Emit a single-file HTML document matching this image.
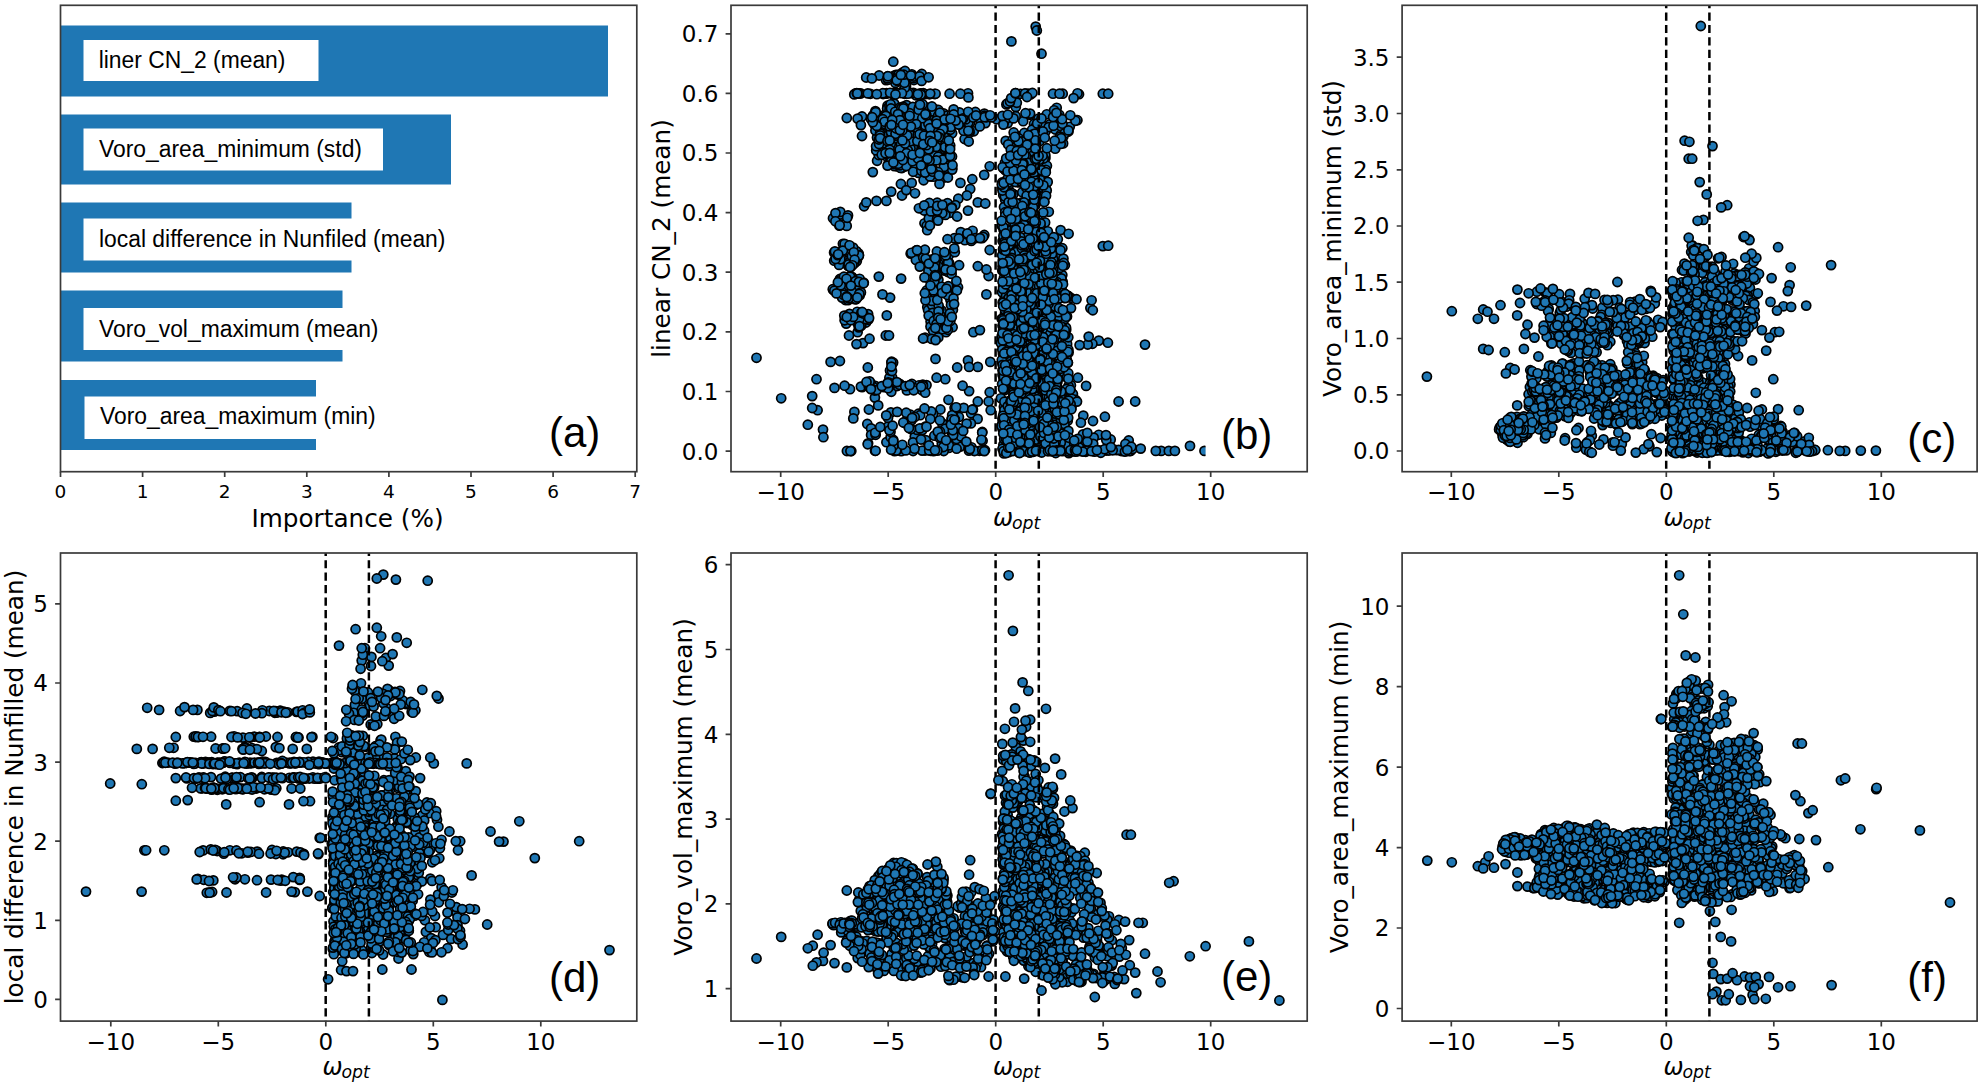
<!DOCTYPE html><html><head><meta charset="utf-8"><title>Feature importance</title><style>
html,body{margin:0;padding:0;background:#fff}svg{display:block}
text{font-family:"DejaVu Sans","Liberation Sans",sans-serif;fill:#000}
.t{font-size:23px}.l{font-size:24.7px}.ta{font-size:18.5px}
.p{font-family:"Liberation Sans",sans-serif;font-size:42px}
.b{font-family:"Liberation Sans",sans-serif;font-size:24.2px}
.o{font-family:"DejaVu Sans","Liberation Sans",sans-serif;font-style:italic;font-size:24px}
.s{fill:none;stroke:#3a3a3a;stroke-width:1.7}
.d{stroke:#000;stroke-width:2.5;stroke-dasharray:8.2 4.25;fill:none}
.c{fill:none;stroke:none;marker-start:url(#m);marker-mid:url(#m);marker-end:url(#m)}
</style></head><body>
<svg width="1982" height="1086" viewBox="0 0 1982 1086">
<rect width="1982" height="1086" fill="#fff"/>
<defs><marker id="m" markerUnits="userSpaceOnUse" markerWidth="14" markerHeight="14" refX="7" refY="7" viewBox="0 0 14 14" orient="0"><circle cx="7" cy="7" r="4.55" fill="#1f77b4" stroke="#000" stroke-width="1.7"/></marker></defs>
<rect x="60.5" y="25.5" width="547.5" height="71" fill="#1f77b4"/>
<rect x="60.5" y="114.5" width="390.5" height="70" fill="#1f77b4"/>
<rect x="60.5" y="202.5" width="291" height="70" fill="#1f77b4"/>
<rect x="60.5" y="290.5" width="282" height="71" fill="#1f77b4"/>
<rect x="60.5" y="380" width="255.5" height="70" fill="#1f77b4"/>
<rect x="83.5" y="40" width="235" height="41" fill="#fff"/>
<rect x="83.5" y="128.5" width="299.5" height="42" fill="#fff"/>
<rect x="83.5" y="218.5" width="376.5" height="42" fill="#fff"/>
<rect x="83.5" y="308" width="316.5" height="42" fill="#fff"/>
<rect x="84.5" y="396.5" width="310.5" height="42.5" fill="#fff"/>
<text class="b" transform="translate(98.7 68.4) scale(.945 1)">liner CN_2 (mean)</text>
<text class="b" transform="translate(99 156.9) scale(.945 1)">Voro_area_minimum (std)</text>
<text class="b" transform="translate(99 246.9) scale(.945 1)">local difference in Nunfiled (mean)</text>
<text class="b" transform="translate(99 336.9) scale(.945 1)">Voro_vol_maximum (mean)</text>
<text class="b" transform="translate(100 424.4) scale(.945 1)">Voro_area_maximum (min)</text>
<rect class="s" x="60.5" y="5.3" width="576.3" height="466.4"/>
<text class="ta" x="60.5" y="497.8" text-anchor="middle">0</text>
<text class="ta" x="142.6" y="497.8" text-anchor="middle">1</text>
<text class="ta" x="224.7" y="497.8" text-anchor="middle">2</text>
<text class="ta" x="306.8" y="497.8" text-anchor="middle">3</text>
<text class="ta" x="388.9" y="497.8" text-anchor="middle">4</text>
<text class="ta" x="471.0" y="497.8" text-anchor="middle">5</text>
<text class="ta" x="553.1" y="497.8" text-anchor="middle">6</text>
<text class="ta" x="635.2" y="497.8" text-anchor="middle">7</text>
<path class="s" d="M60.5 471.7v5.4M142.6 471.7v5.4M224.7 471.7v5.4M306.8 471.7v5.4M388.9 471.7v5.4M471.0 471.7v5.4M553.1 471.7v5.4M635.2 471.7v5.4"/>
<text class="l" x="347.5" y="526.8" text-anchor="middle">Importance (%)</text>
<text class="p" x="549" y="447.3">(a)</text>
<polyline class="c" points="1016.5,321.7 975.4,112.0 1039.7,400.3 926.2,121.7 1018.3,154.4 1037.7,219.4 851.5,257.2 1045.1,412.5 951.8,432.6 1036.5,435.5 1047.0,392.4 1036.9,449.5 1003.1,256.7 847.0,246.3 1052.6,290.0 1009.4,292.9 1030.3,252.2 1029.4,351.9 982.3,432.0 906.0,423.2 930.6,321.4 1038.9,300.9 1018.5,227.8 927.3,307.1 1012.4,241.5 898.5,149.7 1025.8,345.0 916.5,140.1 870.3,93.8 1035.2,247.9 1010.1,427.8 1044.4,172.6 1047.5,408.2 938.7,156.2 905.4,151.8 888.8,117.6 1062.7,375.5 1061.0,262.3 1006.2,416.4 965.0,122.4 1031.9,359.0 1013.8,145.9 897.1,136.3 839.4,280.5 1036.7,369.2 918.9,168.5 1006.2,331.0 1027.7,165.5 1013.7,245.4 1056.0,451.4 1007.2,417.1 863.0,343.1 1037.0,397.1 1011.9,418.0 884.5,114.9 899.8,125.0 1052.8,370.7 1008.6,185.4 1049.9,325.1 935.8,328.2 1029.9,419.4 856.8,261.1 1026.5,402.0 1020.9,431.2 1031.3,400.4 1019.4,346.3 942.9,125.6 935.6,124.0 1003.1,286.8 957.0,239.3 1055.5,360.9 1037.6,450.4 1003.8,280.3 959.4,112.4 949.6,122.3 862.1,387.1 887.5,105.7 1077.9,451.1 1029.9,275.1 1007.5,209.3 1044.8,367.4 1064.7,392.9 879.5,129.6 989.7,392.2 848.8,286.5 1069.6,440.3 1027.4,158.5 1039.7,140.9 837.4,287.6 923.9,152.6 839.9,279.0 860.9,386.6 850.0,277.9 925.0,94.1 918.3,106.2 941.8,118.4 1003.8,117.8 1019.5,256.0 1021.4,172.7 1023.0,272.6 1005.8,228.5 1040.9,190.4 1043.9,310.0 1038.2,159.3 904.9,108.7 1028.4,335.9 897.5,166.4 1010.3,364.8 1031.5,168.2 1004.9,162.8 910.7,253.6 904.7,140.8 1039.3,163.7 925.1,450.5 1030.8,232.9 875.4,111.1 1042.4,419.6 1009.2,168.3 1016.6,331.0 897.2,155.2 1054.4,280.6 886.0,384.9 1012.8,417.6 1102.9,450.3 1045.1,222.5 1004.1,425.2 1003.6,335.3 1068.8,453.1 920.1,263.8 1033.6,223.3 933.2,312.5 929.0,112.1 1061.8,319.1 1053.1,365.0 1025.9,237.6 1003.9,453.4 756.5,357.8 1031.4,234.5 1051.9,451.4 1029.9,358.0 1062.1,447.5 1051.4,439.0 1058.9,252.4 919.3,164.9 1039.8,172.0 1027.8,150.1 1031.5,282.5 887.1,108.6 851.9,281.8 1061.5,287.3 907.5,418.3 1007.7,410.0 1002.5,325.7 1043.7,268.8 1025.5,298.1 900.9,184.0 1011.4,413.8 909.7,120.6 855.3,285.8 1019.6,359.0 945.0,256.6 852.5,297.3 1015.7,141.5 1023.4,206.2 1021.0,163.3 950.2,212.8 1036.8,225.1 834.2,260.7 944.9,128.8 1056.7,107.8 1017.3,264.8 1036.4,450.9 847.6,286.4 1051.1,355.2 1057.0,363.0 1016.7,145.0 1014.5,349.0 1057.9,355.8 1026.3,94.2 1007.3,367.8 1017.2,153.6 1032.9,211.8 1051.9,331.5 781.2,398.3 1044.6,407.8 934.2,117.2 1013.4,391.7 1005.7,140.9 837.4,286.8 1032.6,310.1 841.6,290.8 910.3,140.5 1061.3,374.5 1047.7,245.1 1040.8,377.6 837.5,289.6 1030.2,313.1 937.4,265.4 960.1,446.6 902.5,121.8 1063.9,294.4 1010.1,311.5 839.9,361.0 858.6,253.5 899.9,384.0 1044.4,448.9 1044.5,397.5 1028.8,221.1 897.2,160.4 1051.0,263.0 876.5,200.9 1052.5,258.2 1022.1,304.4 867.8,367.5 1033.4,172.7 1032.1,265.6 1053.1,313.6 886.0,80.1 933.5,451.1 1036.9,194.5 1056.2,242.5 850.0,389.2 915.8,95.3 1012.5,332.3 895.5,128.0 894.4,166.2 922.7,169.0 911.9,384.0 885.0,147.5 958.3,198.7 1066.2,337.1 1014.8,336.3 1068.6,352.6 923.7,125.6 877.1,160.8 1017.9,344.7 922.0,390.2 1061.5,350.6 1004.3,188.6 1035.2,434.0 1049.1,294.7 886.0,93.5 1022.0,299.9 1004.6,270.4 1012.4,437.3 1035.3,163.8 970.2,189.0 935.2,109.3 1018.1,258.0 887.3,156.9 910.4,414.7 861.3,284.2 1017.6,379.4 896.4,134.0 921.8,118.7 885.4,152.4 1012.0,322.0 915.9,251.1 914.8,436.6 1036.5,237.1 1040.2,323.6 929.3,214.2 930.9,176.4 1003.4,444.8 904.1,160.3 1015.8,107.1 1024.6,433.5 856.5,344.1 895.9,74.8 1014.5,426.3 1034.5,331.0 841.9,289.2 839.1,264.9 939.3,151.2 1012.0,219.8 1043.0,326.6 948.8,447.9 1057.0,341.1 1035.7,221.7 1039.0,354.8 1027.4,145.1 910.8,129.2 1043.3,245.1 1022.5,339.5 924.9,126.3 949.2,263.0 958.9,417.0 1053.1,316.2 1135.2,401.5 852.7,291.8 930.1,123.7 1026.0,409.3 847.9,245.5 899.5,142.1 890.0,123.1 1004.5,349.2 953.1,416.4 1009.4,421.1 1026.3,137.4 1076.2,449.4 1039.1,270.9 1036.0,450.3 914.5,163.6 1002.5,370.3 1039.6,162.6 1021.4,243.5 1004.2,283.3 1052.1,405.3 1058.6,329.9 1013.5,442.7 1024.7,170.4 1056.0,441.8 1030.9,320.8 950.5,300.3 1013.0,344.5 1004.7,324.8 1051.3,296.4 899.5,158.9 1029.4,412.5 930.5,326.6 898.0,155.9 1032.7,257.6 1037.2,125.5 1016.7,205.9 1058.6,418.1 1015.7,295.8 1013.3,274.4 1017.2,306.6 1021.4,262.4 1035.7,26.6 1025.2,385.2 965.1,128.8 1032.1,137.6 884.0,387.2 1042.2,423.7 947.6,425.0 1059.8,403.7 886.4,442.2 1060.3,390.4 1029.8,367.8 860.4,314.5 1046.3,332.2 1081.4,449.6 1033.8,295.3 1073.3,451.4 1031.2,395.8 930.7,122.0 1054.7,400.2 1062.3,248.2 933.1,330.7 1029.3,282.0 885.4,134.2 852.4,287.3 1018.1,166.2 937.6,152.1 1014.5,450.4 1018.3,355.0 817.6,410.2 1018.3,174.7 1006.9,308.1 930.0,132.5 1013.1,381.6 958.8,436.2 1060.3,289.9 890.9,140.9 1056.5,278.7 1029.4,265.7 901.5,132.3 1065.6,418.7 906.6,105.1 1019.2,155.0 841.6,216.0 1072.7,403.7 910.5,154.9 1040.0,291.6 1058.0,282.2 913.1,451.0 1038.5,156.3 1064.1,297.8 902.0,195.5 1054.3,419.2 899.6,140.5 1039.2,233.2 888.4,115.3 919.0,108.1 1051.5,266.9 884.3,144.7 1010.9,246.7 917.0,429.9 878.7,155.0 1055.5,125.8 1005.2,199.9 860.8,93.5 1045.2,265.1 1044.7,355.4 1028.7,450.7 1052.7,341.9 904.2,82.7 1032.0,425.7 1013.8,413.7 1026.4,159.4 958.7,122.3 1021.3,202.7 1053.7,326.4 911.3,152.7 1044.3,195.7 1042.7,328.9 1018.4,372.1 948.4,444.0 853.6,278.7 849.1,259.2 1033.1,255.2 942.0,161.1 978.9,118.3 904.9,147.1 1011.0,277.0 886.2,93.6 1053.2,349.9 1043.9,157.9 979.4,450.8 1020.7,167.6 891.6,361.7 1029.5,283.8 1049.2,276.9 1054.2,379.2 1041.1,403.2 1027.5,445.5 947.7,255.4 904.2,82.5 938.4,110.0 855.4,93.5 1009.8,382.9 898.9,143.6 839.4,225.7 1018.5,290.8 846.2,323.6 1019.9,293.6 914.7,142.2 915.4,151.0 886.2,140.9 977.8,366.9 1003.3,367.2 1010.8,271.1 1050.5,399.0 1033.4,236.7 1046.7,183.1 1013.4,194.1 1041.8,418.8 1058.0,405.9 1098.8,340.6 1098.8,434.8 1043.0,371.6 1030.1,382.5 1033.8,395.2 1029.3,400.1 971.5,447.3 935.1,296.6 949.7,290.3 875.0,450.8 1034.4,167.3 1022.3,405.0 1019.2,136.5 1021.7,247.4 891.7,146.4 889.4,105.8 1020.0,450.6 939.5,117.6 1024.2,213.1 1051.1,353.7 1018.9,292.4 1025.2,261.3 908.2,136.2 901.2,75.9 932.6,299.2 1066.2,329.7 1005.1,303.5 920.0,115.3 1040.3,300.7 1055.8,292.2 942.1,423.2 1035.3,205.3 1021.3,314.4 938.3,152.7 1064.9,265.1 1037.4,174.8 935.5,275.2 883.8,123.4 1002.3,270.5 1054.2,392.2 1012.7,139.8 883.8,386.1 1020.4,93.8 1013.0,156.9 1044.2,308.3 1003.1,343.9 851.9,276.9 1003.9,278.0 1015.0,147.5 1039.0,267.0 1026.4,428.7 1006.3,409.1 952.1,133.3 1017.0,254.8 1005.7,417.7 1039.4,384.6 912.7,138.5 1038.8,436.4 1017.4,340.0 1003.3,195.2 1020.0,389.7 845.4,300.0 1051.4,398.2 1033.4,451.8 1041.8,233.5 875.2,385.9 884.9,125.5 1006.7,385.7 1029.3,333.5 954.9,419.6 1052.5,403.5 1026.2,261.0 901.7,149.2 1070.9,385.2 1028.8,392.7 1079.1,449.6 936.2,114.5 913.0,442.4 823.0,429.6 1060.4,261.7 904.7,87.1 1028.4,397.4 1007.5,255.4 924.7,250.6 1064.8,355.9 1042.6,417.7 1020.2,296.0 1092.4,343.8 933.8,296.4 1060.2,310.2 1002.5,374.7 1037.0,237.6 1053.5,416.4 952.6,327.2 857.0,317.3 957.2,367.5 1010.6,369.6 1060.9,433.3 1002.5,448.7 1085.5,444.4 1020.4,370.6 1116.5,450.1 939.6,331.0 947.0,143.5 952.9,309.8 886.7,118.8 1048.3,444.8 1057.1,265.3 1054.2,450.8 927.9,171.8 1045.5,341.7 945.4,214.9 906.3,190.1 974.4,451.0 926.9,129.9 887.5,131.0 886.4,200.9 1014.1,215.6 1035.4,233.6 1025.3,325.7 1032.0,448.9 945.3,379.2 1062.6,451.2 1010.9,344.1 1035.8,143.6 911.4,158.8 1053.8,250.8 1019.5,213.8 857.8,284.5 1007.5,178.9 1063.8,364.8 1017.6,322.2 1004.4,255.1 846.7,225.9 1003.6,349.5 1004.0,207.1 1011.2,267.9 941.8,443.8 903.0,106.6 946.4,176.2 1003.8,254.5 896.5,124.5 895.1,160.8 1004.1,346.9 1037.3,400.7 1057.6,403.4 1009.6,418.1 1028.9,421.2 929.5,94.3 1059.3,114.8 1040.3,258.2 1040.1,166.4 923.6,154.8 854.3,94.4 1039.4,237.2 849.5,313.9 1040.1,438.6 915.3,115.9 921.5,139.9 881.7,117.6 891.3,391.8 926.1,173.4 925.0,114.5 1051.5,444.5 1031.7,406.2 1052.7,326.0 1057.1,329.6 952.2,168.2 1041.3,389.7 1039.5,346.4 1052.2,258.5 1031.0,450.1 928.1,310.2 922.1,450.6 1009.5,451.0 856.3,299.0 1085.8,451.8 1002.3,363.1 1049.3,444.5 1008.2,144.4 1052.4,238.4 893.7,77.4 900.6,141.8 1110.7,439.5 894.4,159.4 1012.8,237.0 1064.3,294.7 1045.1,287.9 1016.4,420.2 1027.9,332.3 874.9,397.6 1067.7,420.7 921.5,165.6 923.3,93.2 1005.2,212.2 960.8,232.1 1013.4,394.4 859.6,295.5 1039.7,451.3 870.9,383.5 1030.9,247.7 1042.9,259.0 934.3,435.7 905.1,137.8 1056.5,290.3 850.3,250.2 1028.0,151.6 1051.1,404.7 1033.4,379.6 1004.9,314.1 990.3,361.9 1040.3,365.0 874.6,390.5 1032.2,155.9 1032.6,429.6 923.6,122.6 1022.1,136.1 1036.9,367.7 1057.0,377.8 966.9,195.5 897.1,386.0 1054.5,389.5 906.6,108.9 1014.4,424.5 929.3,151.3 1004.3,341.4 1031.9,321.8 866.0,322.5 1067.6,400.2 837.5,257.3 843.0,249.9 982.2,432.6 871.4,118.4 901.2,451.2 1014.3,382.0 1068.5,440.9 882.0,118.2 1051.9,428.2 1033.7,356.3 943.2,150.9 1046.6,386.7 892.1,382.9 1020.6,239.4 894.6,451.1 1020.3,253.1 1004.7,328.1 922.8,153.7 1055.3,294.0 1005.2,215.7 920.5,172.9 1039.8,433.3 1055.4,349.1 863.8,282.7 1014.8,340.0 1066.3,442.7 896.5,158.5 1002.4,418.7 950.3,320.9 933.3,133.6 1033.1,326.3 1013.6,335.0 893.4,157.1 924.5,223.3 1035.9,352.4 883.3,152.4 1034.0,124.0 884.9,120.3 1063.9,418.6 858.0,319.2 1013.9,349.4 1005.3,170.3 901.0,160.8 952.0,156.5 1059.8,333.0 932.2,414.3 914.8,134.8 943.5,113.4 969.1,391.1 1019.2,411.5 1025.7,237.4 1056.2,350.1 844.6,320.3 904.5,78.3 913.9,80.0 1204.5,450.9 1037.1,158.9 859.8,293.6 1031.3,382.3 1049.1,411.5 894.2,103.6 1070.9,391.1 1036.1,438.6 918.5,413.7 893.8,75.8 1027.0,255.4 833.2,289.8 901.4,163.8 1052.1,285.2 932.3,118.0 1066.7,359.4 921.8,74.0 1029.2,450.8 885.8,150.5 879.8,144.4 1062.3,316.4 900.8,110.5 988.6,276.0 1041.3,326.1 902.2,161.3 1026.7,437.0 1035.5,450.6 1081.9,450.1 1030.9,448.4 963.5,129.1 938.4,279.7 1052.4,244.9 922.3,430.1 914.5,448.7 1045.5,409.3 895.8,93.1 902.2,157.2 944.6,261.3 920.8,163.2 895.4,82.9 868.3,319.8 1037.7,256.7 906.9,390.4 1025.4,375.1 1025.7,327.8 1003.9,412.8 1047.7,181.9 964.6,139.0 937.6,141.8 903.9,138.4 1062.3,275.1 1054.1,406.0 1044.2,283.0 1024.4,218.4 943.8,148.9 938.2,266.5 1010.1,428.0 1063.1,143.4 921.3,145.6 1031.2,441.4 1069.6,394.8 1035.9,306.0 1005.8,405.5 934.1,263.6 1029.0,395.6 1010.5,268.0 1037.9,313.8 972.9,409.4 946.5,161.2 1026.0,134.8 858.3,256.8 1054.2,399.3 1006.4,104.4 1043.0,281.4 1011.1,416.7 932.1,305.1 1007.5,407.5 1050.1,279.4 893.7,93.5 1013.7,132.5 1028.1,93.7 864.1,206.3 1044.6,264.2 1047.4,315.8 927.6,153.9 913.5,144.8 1002.2,182.5 1049.3,410.8 846.2,288.5 1130.6,450.9 903.8,136.6 970.1,122.4 1006.8,367.4 899.7,157.3 898.9,122.5 1102.8,93.7 896.9,143.3 1020.8,270.2 1025.6,301.5 1064.9,406.9 1023.4,288.7 919.0,385.3 1029.9,369.2 1049.9,344.0 1045.4,157.9 834.1,252.6 1030.7,450.5 1016.5,305.2 1066.8,345.5 1063.3,136.5 1025.7,140.2 1016.7,251.2 941.6,310.5 1021.7,285.8 1012.4,440.7 1003.4,377.6 1099.2,450.3 1053.2,388.2 1055.3,380.5 1003.9,406.8 857.8,323.4 1039.1,317.7 888.0,79.8 935.9,325.7 850.8,320.2 848.1,300.1 1053.0,93.7 1024.4,156.1 920.2,415.2 1027.4,288.0 1017.1,281.5 1046.7,295.8 1005.7,308.5 886.6,137.4 1029.8,114.8 1034.6,390.7 1011.3,407.8 1039.4,389.4 939.7,437.9 1090.4,308.1 1038.3,449.8 1051.0,431.2 908.9,119.4 1044.8,344.0 905.4,423.3 1087.7,344.5 1015.3,403.1 1055.3,421.9 935.7,271.9 1033.3,351.0 881.3,134.7 1128.7,440.5 1106.3,440.0 1032.7,249.4 1024.8,387.4 1030.9,194.7 963.6,130.7 937.0,154.5 1022.3,369.9 1008.9,314.1 1036.3,147.6 954.3,238.2 895.5,76.0 918.4,172.9 1051.7,238.2 1050.1,124.3 1032.1,441.1 859.6,278.8 1033.1,268.8 1041.1,362.2 1027.3,451.2 919.3,164.2 1028.6,374.9 1007.3,338.1 1016.7,430.1 913.4,122.1 911.7,182.9 947.8,156.6 1021.9,344.9 830.6,361.9 887.4,140.9 880.8,144.1 856.8,93.2 911.7,420.1 947.5,203.1 1037.8,271.4 1043.9,130.3 878.2,405.4 1083.0,434.4 1041.5,53.7 1029.2,437.6 1069.1,451.5 889.4,114.4 1086.1,385.9 888.2,426.4 1056.3,275.4 919.1,105.0 1020.0,239.2 1057.9,359.8 942.5,133.6 1018.2,241.0 1002.9,353.3 1033.9,325.0 1040.2,312.0 893.2,439.8 1002.6,188.8 1035.7,126.7 1039.5,134.6 1023.9,448.7 1037.9,398.0 896.6,149.7 1006.4,432.4 1037.4,138.0 1012.4,430.4 944.6,141.6 896.4,450.7 936.4,127.5 1004.6,390.1 1046.7,190.4 971.1,413.2 946.1,332.2 1023.4,423.6 1057.4,142.7 840.4,259.3 1003.1,330.5 1003.8,338.9 1009.6,324.7 921.9,169.1 1002.6,241.1 890.9,134.6 1068.4,448.6 1002.8,260.2 1127.5,446.6 951.0,304.9 1033.0,269.3 1017.2,428.6 1043.1,449.5 889.9,127.0 889.3,122.9 918.4,141.0 1037.9,365.1 842.9,243.8 1003.8,389.0 1032.0,209.7 1041.2,279.9 1055.1,415.9 1046.8,114.3 947.2,131.6 1037.4,239.9 846.8,118.0 1055.7,275.3 1016.8,102.8 1058.4,255.6 916.4,161.9 1017.5,216.8 968.7,141.5 1061.3,287.8 1029.0,351.4 1053.2,355.7 1079.0,94.2 903.3,422.5 929.2,129.3 858.8,93.5 1034.1,280.8 1035.6,252.4 914.5,126.9 1028.2,305.6 948.3,157.2 1062.9,391.4 1008.6,452.1 848.8,252.7 907.5,136.2 1039.3,292.6 1055.0,413.6 1027.2,410.7 1016.3,211.8 1039.1,403.3 1054.4,309.6 1037.9,395.3 1044.3,324.3 889.5,110.1 943.5,177.6 923.7,107.2 1037.5,374.3 1088.2,436.6 1030.9,225.0 888.4,126.4 851.3,451.0 861.2,325.8 1063.4,258.6 1004.4,418.8 950.3,129.8 890.6,104.3 1022.9,277.8 891.2,191.6 1026.0,411.4 1004.8,271.9 1013.4,287.1 842.1,297.6 904.0,143.4 899.4,384.8 977.6,418.9 1107.9,342.7 1031.2,408.3 913.5,92.8 1002.5,187.1 956.5,439.0 1024.5,148.3 1015.6,227.2 892.1,377.4 1009.4,102.8 925.8,440.1 1035.9,288.0 1037.8,255.6 1083.3,415.6 1018.4,182.4 1054.1,110.3 1007.5,103.3 926.8,128.9 934.0,263.4 1024.3,133.0 926.8,297.8 937.5,135.1 1036.4,429.4 893.1,114.2 1030.9,250.6 877.2,119.9 916.3,139.5 1034.7,374.3 1067.9,362.8 1043.8,269.5 915.9,155.5 1020.2,237.1 1006.5,298.0 930.5,450.8 1033.6,280.0 944.1,122.8 929.9,279.7 1051.1,300.7 1052.3,255.5 968.4,122.5 863.2,313.7 917.3,130.4 1005.8,273.8 1001.7,225.6 891.0,108.5 1033.9,244.0 1064.7,294.0 1056.5,126.4 913.8,154.5 1026.9,426.8 1050.8,283.7 890.6,437.2 850.1,261.5 1056.9,411.3 1023.3,179.6 848.8,285.9 850.3,276.6 1004.3,427.3 893.2,152.3 946.3,137.6 1016.7,346.4 913.4,151.9 910.4,148.8 846.9,451.0 985.4,123.1 1035.0,358.7 1086.0,450.7 1040.5,367.1 1002.5,422.9 1028.2,227.7 1011.2,437.1 944.9,270.7 914.7,142.1 1004.3,240.5 1054.6,338.9 1018.1,336.3 936.4,297.7 1006.3,432.4 1018.5,388.5 1047.3,308.2 1010.0,373.2 1070.5,403.1 920.9,126.3 1069.7,126.8 1070.8,297.8 1036.7,395.2 892.1,93.1 880.4,145.4 927.2,154.6 1061.9,429.7 936.3,256.8 957.1,216.5 858.7,314.7 1043.6,420.4 1029.5,355.7 1055.2,148.7 833.0,218.2 1033.7,292.2 1003.5,229.5 968.9,450.6 1062.7,406.7 925.5,163.1 1028.6,223.1 938.7,174.8 1030.0,311.8 1046.8,310.4 1024.5,297.3 1046.9,165.7 1049.7,367.1 1004.9,196.5 1048.7,422.7 857.6,332.2 900.4,119.3 908.0,164.1 948.5,168.3 1010.1,429.7 1038.9,294.4 933.4,169.9 1020.4,324.1 1002.7,266.8 1020.7,278.6 880.9,135.9 1062.7,281.7 1030.5,274.2 890.8,123.5 1019.7,293.7 919.8,142.2 1009.2,342.0 1024.1,246.5 939.4,125.7 937.1,275.5 877.0,137.6 1019.3,404.1 943.4,140.5 884.7,124.0 912.8,106.9 1026.2,223.3 1035.6,296.7 834.9,251.4 900.0,132.3 1039.7,308.6 880.3,150.9 890.5,431.8 906.8,143.7 1046.0,195.8 1044.6,450.1 1041.2,124.2 919.0,107.6 1004.3,424.6 1055.9,433.1 1017.8,259.7 1051.9,253.6 1051.8,447.5 1022.3,192.3 1028.1,379.6 921.7,80.0 1039.8,292.8 930.5,142.7 1001.7,336.4 928.6,117.2 876.2,150.4 1038.4,268.2 920.4,105.7 1025.6,450.8 1008.6,270.2 947.9,272.0 1046.9,348.6 899.9,107.6 1027.7,389.8 1050.9,351.6 1027.4,255.6 907.4,163.2 892.9,161.0 1055.9,393.5 1004.7,297.0 1015.6,383.1 1042.0,288.2 1063.9,312.1 1048.6,304.6 954.6,407.8 1050.5,404.2 858.4,289.6 1056.1,366.0 1161.2,450.9 899.9,146.4 1062.1,315.2 939.4,172.7 1106.2,450.5 1011.5,170.0 1063.1,356.9 925.2,426.7 1002.5,190.5 893.1,362.6 1023.1,377.6 939.3,309.3 919.5,141.1 935.6,296.5 1056.7,338.9 1029.6,450.5 1022.5,451.2 1028.6,205.0 1055.3,129.5 1047.9,311.6 837.5,213.3 1016.3,295.2 1050.2,446.5 1012.9,267.7 1016.5,420.2 1047.1,304.1 911.9,93.2 847.7,277.3 942.5,135.9 1050.5,425.8 1018.9,280.0 1043.4,296.4 903.9,136.9 940.5,315.7 1092.5,445.2 1037.8,433.3 936.4,137.1 890.9,412.4 922.4,126.8 887.7,76.2 1018.9,138.5 925.0,173.7 911.8,74.3 1008.4,277.3 1066.0,327.6 949.0,254.9 835.6,259.0 973.4,332.2 1003.9,379.8 1066.9,377.4 927.3,154.3 932.6,312.9 874.6,124.7 1007.5,260.4 1062.0,326.7 1004.9,325.8 928.7,315.6 1038.3,274.7 1020.6,450.1 1034.6,378.0 926.6,290.5 909.7,151.4 938.6,305.6 1026.0,424.9 892.5,137.2 1053.1,259.4 905.8,135.6 1065.5,438.3 1045.5,440.1 873.5,387.3 913.4,145.6 888.4,154.0 1051.2,440.1 925.1,337.7 844.3,280.4 1071.3,407.5 844.3,315.6 1076.6,450.3 1015.1,337.8 1067.9,405.7 1045.3,155.1 1027.9,259.5 1051.5,267.1 1055.1,306.9 890.1,297.6 945.3,257.8 1055.0,402.0 886.0,146.0 1015.9,318.7 947.9,177.5 1047.1,306.8 951.6,418.8 1020.1,451.1 1076.2,120.2 886.5,93.2 913.5,78.2 850.1,276.7 1072.9,394.1 1023.7,414.8 910.9,138.2 1038.5,118.6 867.8,93.4 1004.3,254.7 1038.9,172.8 1039.2,327.6 903.9,74.5 1044.2,408.6 1093.0,421.0 1034.2,172.9 1043.8,383.1 903.7,81.5 1004.3,261.5 1031.1,438.4 1068.7,296.5 931.7,338.9 1038.6,381.9 1059.7,267.9 1026.7,413.6 1029.8,401.7 1017.3,326.3 1036.5,348.3 1145.0,344.6 934.5,94.0 1071.9,401.6 893.3,61.7 879.1,75.5 926.2,112.3 1005.5,238.9 1049.7,443.7 921.0,93.8 1024.2,173.8 1039.9,179.2 935.5,358.9 979.9,330.1 919.2,118.8 1035.3,180.8 1005.7,240.4 866.2,77.5 1052.1,341.0 889.4,377.8 1067.9,295.9 1104.9,416.7 886.9,141.5 1009.3,439.4 1064.2,425.8 1064.5,424.0 1051.9,250.1 1033.4,386.7 1027.1,352.5 1033.5,205.8 1019.9,423.4 1075.7,400.0 905.2,386.2 1029.7,387.9 851.7,264.3 1026.1,156.3 1023.1,333.3 1003.0,344.3 1026.5,410.1 1008.9,334.8 859.5,314.2 1041.7,452.5 1079.0,447.5 964.8,240.2 931.4,154.1 1002.9,346.8 1028.2,451.7 1055.6,119.1 1007.7,123.1 1032.1,129.7 920.8,130.7 875.4,130.5 1010.8,149.7 1055.8,303.0 937.9,138.4 925.2,117.7 1038.8,437.7 1021.1,446.7 1029.4,317.4 1016.1,445.1 1002.1,292.2 1014.7,375.4 947.0,115.6 939.4,131.5 1049.8,363.2 1034.6,202.8 1068.4,131.5 946.5,124.5 1020.5,380.5 1061.5,126.8 1003.6,168.4 1026.3,187.6 882.7,135.5 1026.2,310.7 1024.4,155.3 947.1,263.6 1025.3,272.5 945.0,137.7 1048.0,451.3 1005.6,320.9 982.6,440.8 1002.2,255.2 1036.5,396.7 859.1,320.6 867.3,424.0 1036.7,287.5 840.0,280.3 984.3,235.0 935.6,93.8 1068.5,386.1 1017.7,253.2 1012.6,321.2 1025.9,390.8 898.9,145.7 922.2,168.1 1023.9,437.9 1056.1,348.6 1034.9,334.3 1037.2,375.2 871.1,428.4 928.8,124.6 965.7,119.4 914.7,163.5 958.7,428.2 856.3,251.1 935.5,121.8 1023.4,328.0 1067.0,295.4 1043.8,425.0 1093.7,437.6 1031.6,170.2 935.2,266.9 1055.9,286.1 954.4,419.3 1025.0,93.5 1009.5,247.7 933.7,321.0 1035.6,193.4 1020.4,215.8 1002.1,384.1 1035.6,413.3 1049.3,446.8 1045.7,131.1 1056.8,387.7 1002.7,302.3 932.2,218.0 937.2,202.7 952.2,415.1 1044.7,374.1 914.7,417.0 1082.9,451.6 944.4,127.7 888.0,150.1 926.7,225.8 1045.7,169.8 1052.9,448.9 1069.6,406.8 1035.0,412.8 1000.9,398.3 1052.0,253.9 1027.1,405.9 958.8,238.5 1019.8,213.9 886.3,146.5 968.0,210.6 1003.6,451.2 854.7,299.2 947.9,329.8 943.7,451.0 915.9,260.0 1025.8,327.4 945.0,147.6 959.1,265.2 888.0,417.9 955.3,205.1 1014.7,205.9 1055.5,387.3 1012.6,398.6 1037.0,247.8 1021.4,308.1 935.1,263.7 927.3,107.7 1100.8,452.8 1060.9,419.4 916.4,140.3 885.8,116.0 1033.5,305.2 1037.2,365.2 911.0,120.0 1028.4,318.5 1052.0,347.2 896.8,140.8 1026.5,178.4 1037.7,403.5 901.6,153.5 1002.9,266.0 920.7,93.9 924.4,166.8 1106.0,435.1 865.5,319.1 1044.2,324.8 1050.9,327.5 1022.3,282.9 1007.7,415.9 1050.9,435.4 931.9,300.9 1031.5,334.6 951.8,114.5 875.6,450.8 1066.4,445.7 984.3,113.6 1108.2,93.7 1034.5,387.7 1004.9,320.9 916.5,250.3 1025.7,163.4 1026.6,195.8 916.7,250.4 1025.2,314.7 886.9,147.1 935.6,288.6 1056.6,444.2 876.7,120.6 948.7,119.2 984.2,174.9 915.0,193.3 1007.5,293.2 1008.2,249.8 1043.7,158.5 895.1,78.0 1043.8,435.2 1012.6,399.7 900.8,136.4 1039.1,359.3 1048.7,127.1 1034.3,256.4 940.4,409.5 904.5,166.4 906.2,145.9 892.5,383.7 1033.9,240.7 1003.2,270.7 1021.3,328.5 1040.1,335.4 1041.4,263.0 1012.4,155.7 1023.5,315.4 924.5,149.3 896.3,152.1 945.3,428.7 893.3,164.0 1036.2,245.1 1056.6,345.3 846.4,250.4 928.4,270.9 1003.9,417.7 1010.1,168.8 915.5,152.3 832.8,289.2 1015.9,252.1 1010.2,345.4 930.2,93.6 960.1,120.2 1023.2,121.2 925.6,143.0 1010.5,265.0 1010.6,253.0 942.3,290.2 1019.5,145.3 938.3,337.4 1020.2,291.0 862.0,136.0 942.3,213.3 1039.6,348.3 923.6,180.3 1048.8,352.9 1038.0,440.7 921.5,110.8 1060.9,366.5 1030.1,188.0 1022.9,443.1 1016.7,379.4 1028.3,418.1 1010.3,347.8 902.0,159.5 1026.1,166.3 968.0,360.4 932.7,142.9 890.0,125.4 910.7,155.9 932.7,128.0 933.4,176.7 1020.3,370.1 931.2,111.4 883.1,94.0 942.6,329.2 902.6,113.6 1060.5,250.2 1066.6,389.0 1033.8,251.0 888.7,123.2 1003.4,235.9 876.7,390.1 936.7,142.1 1013.3,384.5 949.9,313.5 1040.8,286.9 938.1,292.7 1037.1,123.5 852.5,297.1 1029.5,313.1 1025.3,332.9 967.1,234.4 1011.2,290.5 957.3,408.0 1042.6,171.4 1012.4,425.0 1035.0,364.6 1005.0,310.1 1031.0,425.2 1051.6,374.9 906.0,85.9 913.1,171.8 938.5,311.4 1041.6,242.8 937.3,300.0 944.9,147.1 1046.6,249.0 1021.5,141.5 1039.6,408.8 1011.3,425.7 1068.3,373.2 1053.2,269.9 1129.3,451.1 901.8,118.4 921.0,439.5 1023.2,183.8 1025.9,220.0 1060.0,443.5 908.9,137.9 986.5,117.3 926.5,385.1 1022.6,268.6 1003.5,322.4 1033.8,406.6 896.9,382.1 1102.8,246.1 1055.5,239.7 1007.9,341.9 961.0,436.4 853.1,247.6 1012.7,446.8 912.5,147.2 1093.2,443.9 960.4,182.9 900.6,134.5 912.8,124.1 1020.0,167.2 924.1,210.5 1025.0,273.3 1019.8,352.7 915.5,144.7 1046.4,296.8 1044.3,249.7 1033.0,207.4 886.2,415.4 1092.8,310.3 905.8,450.4 902.8,72.4 1033.4,398.0 914.0,158.1 1041.6,284.9 950.2,145.5 1011.5,257.9 1027.9,349.1 1046.4,275.3 1019.0,450.3 1009.3,400.8 1040.5,226.2 913.8,76.5 868.1,314.1 908.4,162.8 1067.1,343.9 1045.6,429.9 906.2,412.7 914.2,132.8 1047.8,231.3 933.0,286.0 1028.0,183.2 1020.7,435.5 843.4,294.7 1060.7,143.9 1059.6,324.9 940.5,123.3 1008.3,418.3 1032.7,289.1 934.4,281.3 1044.2,201.8 907.5,124.0 1060.7,134.8 904.7,114.8 1066.8,132.0 890.0,370.5 1032.7,318.2 1094.6,451.7 1008.3,351.1 1056.4,350.9 868.8,386.7 973.8,131.3 1031.7,278.5 871.9,78.4 951.6,273.9 888.3,382.3 1032.3,389.1 1046.0,347.4 1056.7,325.3 902.2,157.4 934.0,450.4 1067.0,316.4 1004.4,410.1 1051.0,248.6 996.5,119.3 927.4,173.5 1131.1,448.3 1047.5,361.4 1006.5,361.0 869.5,338.7 1017.8,167.1 1088.7,336.6 958.0,287.2 1021.6,434.3 840.1,214.5 886.0,142.5 948.9,445.4 1025.5,393.2 1059.5,441.5 1024.4,180.6 1058.9,433.0 1041.7,255.3 1059.3,359.6 904.6,145.7 1035.9,316.1 1061.0,358.0 1034.4,199.7 1008.1,182.6 1108.9,450.5 925.5,300.3 922.0,135.7 868.9,409.5 1059.6,283.6 812.2,408.0 891.4,362.5 1036.5,231.6 886.2,153.4 938.3,317.6 952.2,169.6 1063.8,399.7 1022.9,385.0 1009.8,325.4 1010.3,218.2 936.5,324.1 885.8,335.5 1032.8,269.8 962.6,385.7 1047.3,322.9 1046.2,354.4 1026.6,388.4 1043.4,185.4 1004.0,187.3 1024.0,202.5 1015.4,182.0 1068.2,417.8 1013.2,382.0 1053.3,434.3 1068.3,337.3 1037.0,261.3 935.3,156.7 1121.3,451.0 1064.5,133.5 959.4,124.1 1039.7,336.7 883.6,143.2 1019.4,434.5 1010.8,264.3 871.1,434.9 849.4,265.9 891.0,132.1 1045.5,390.4 894.6,448.4 939.9,431.5 1002.6,167.3 844.6,243.9 882.9,93.2 936.9,251.5 1027.1,302.0 919.5,76.4 901.1,278.6 1155.8,450.9 854.4,411.9 902.3,125.5 858.8,327.4 1041.6,319.2 1074.1,442.9 1036.4,314.3 1004.4,401.7 1022.4,409.2 1033.3,383.9 918.9,208.3 1049.0,340.6 1006.5,349.8 1062.7,93.7 888.9,387.1 1006.7,293.9 933.8,154.0 849.0,335.5 1060.8,442.6 938.2,115.5 834.5,387.9 1025.4,322.1 834.3,290.7 1023.2,451.2 859.2,326.6 924.7,156.6 929.2,450.4 1118.7,449.9 933.1,215.2 920.9,93.3 943.9,166.9 1029.2,266.5 1091.6,300.3 876.8,94.2 853.3,418.4 914.3,388.2 1031.7,347.7 1061.2,391.5 905.7,134.4 1048.8,211.8 892.0,371.0 1027.1,398.1 1016.1,411.4 939.9,112.7 1039.3,159.7 1033.7,297.3 887.6,78.3 948.2,262.7 1018.2,348.1 902.1,81.3 857.3,93.4 982.8,450.6 1032.0,313.9 925.9,147.7 882.8,119.2 926.8,136.9 928.8,218.4 1022.0,300.0 935.3,328.0 851.7,291.5 941.9,121.7 1015.8,220.7 916.6,151.1 1009.9,301.6 943.4,447.0 889.0,335.5 1059.2,298.4 1041.6,170.2 941.0,291.7 1019.6,295.4 844.6,385.7 1008.6,276.4 1028.7,163.0 956.9,290.5 1005.3,317.1 893.7,162.4 1027.3,423.9 1031.2,169.0 1042.6,155.7 925.1,125.2 969.1,366.9 905.6,74.0 1007.5,171.5 1041.9,434.5 1017.1,382.7 1009.1,353.6 858.4,313.2 934.9,264.2 857.2,311.8 1045.8,172.2 1010.9,434.5 915.9,148.1 977.8,266.2 1070.5,450.1 1064.7,318.9 905.1,144.5 1006.1,295.4 954.8,252.2 895.2,111.8 1015.5,347.3 1024.3,401.4 935.6,340.1 1010.1,259.4 1027.4,396.8 1022.5,437.6 947.5,239.2 881.7,154.8 1029.2,272.0 870.4,387.6 1013.8,355.1 933.5,290.4 1052.8,264.6 1062.0,327.4 941.7,286.8 1055.9,288.3 1022.9,282.4 1053.5,125.7 1007.4,355.8 919.8,428.4 1021.8,248.2 899.9,152.5 1024.4,255.4 1047.8,431.0 1058.6,356.0 900.0,125.9 1071.0,308.1 1023.0,360.6 1077.7,438.9 1041.3,253.4 933.7,142.6 1004.0,122.1 1008.0,368.6 1057.2,387.7 931.0,259.7 1044.4,286.0 1060.1,136.6 945.8,255.4 1068.4,349.8 923.2,257.6 1020.5,399.1 1022.5,291.1 935.4,133.0 1053.3,435.6 1132.6,448.9 1045.5,443.3 1031.3,287.6 1079.6,345.1 1058.5,316.6 884.6,121.8 1004.9,241.4 1008.3,298.4 1036.9,330.7 1004.4,352.8 938.2,156.7 1009.8,245.6 963.1,118.4 986.4,269.5 1056.1,335.0 1042.2,347.9 1008.4,261.5 1015.7,116.2 972.6,230.8 1027.8,333.0 879.9,138.8 850.6,267.2 908.8,123.5 888.7,154.6 880.0,133.4 1019.1,319.6 1068.8,399.1 950.8,126.9 1076.5,299.2 1055.7,441.6 1062.5,123.7 902.7,160.6 1023.5,163.6 1038.3,337.7 862.0,116.5 1015.4,233.0 1012.9,334.9 969.5,132.7 858.9,255.1 1012.3,451.1 1011.2,342.4 902.0,168.0 917.5,147.3 849.8,298.5 859.3,319.2 1019.6,342.6 909.6,113.1 837.8,255.2 1023.3,223.1 1005.2,375.1 1033.1,138.2 1018.1,358.3 871.0,118.9 923.1,338.5 1009.8,324.7 946.9,289.4 1024.3,362.8 1024.0,225.0 1010.6,442.8 909.3,92.7 899.5,124.7 1005.5,354.3 880.0,135.5 916.5,142.3 1041.0,268.1 1028.6,354.4 855.5,281.1 929.4,203.0 1050.2,374.6 945.6,269.5 1028.2,400.5 946.1,120.2 968.0,93.3 1057.5,381.6 1074.9,450.1 1075.8,451.6 842.9,250.6 916.4,142.8 947.4,295.0 901.4,108.4 1058.4,312.2 1007.9,117.8 1030.7,320.4 1030.3,355.4 1048.1,416.0 921.6,80.9 1052.8,398.2 894.8,162.0 855.9,299.1 948.5,399.8 1061.4,278.4 838.2,254.3 1034.4,256.1 1010.0,101.5 889.9,149.8 1036.6,439.5 904.7,93.8 1050.7,449.3 933.1,413.9 1018.4,141.3 1003.2,355.0 928.0,147.9 1030.0,292.8 1032.1,265.3 1015.9,226.7 1050.8,316.7 854.2,263.5 905.0,71.0 869.6,381.4 836.5,293.4 982.3,450.1 1045.7,259.1 1043.0,420.5 1023.3,434.2 1014.4,410.7 961.7,119.4 1118.6,401.5 1061.1,138.1 914.4,152.3 1042.1,371.6 1035.8,186.2 916.8,137.0 1027.5,387.3 1041.7,370.0 928.6,77.3 1049.8,450.3 1034.2,381.7 1071.8,398.8 850.4,451.1 1056.8,324.6 922.9,145.5 1012.3,405.3 1042.4,318.8 1060.6,368.8 895.7,93.0 1024.7,330.4 1077.4,120.2 1034.2,286.9 1032.2,134.7 923.9,109.2 1041.3,429.9 1008.6,309.7 900.5,167.9 895.0,140.8 943.4,128.2 1032.9,422.3 876.4,124.6 916.2,125.7 1042.1,237.1 1035.0,353.8 878.8,276.6 1030.1,113.6 1026.4,380.8 1035.3,292.9 1039.7,246.6 1063.7,263.0 1035.9,277.5 1016.1,203.1 1046.2,253.7 1038.9,318.8 892.9,93.5 1028.0,376.4 933.3,135.8 963.7,407.9 1002.5,429.0 1025.1,394.8 899.5,165.4 1041.2,412.5 949.6,93.7 1032.0,303.8 1031.6,181.8 1039.5,282.7 1034.9,159.1 1059.1,117.6 1014.6,224.2 1018.4,433.9 889.4,430.3 1013.5,170.6 1006.3,433.5 876.1,146.3 928.4,123.8 1010.0,342.0 857.6,118.6 1062.1,119.2 979.7,126.4 1001.8,184.6 908.0,93.7 1007.9,211.9 1022.7,164.1 951.8,419.3 1003.0,340.6 1124.9,451.6 1062.8,265.7 896.3,450.5 1021.8,170.1 921.2,111.0 1065.2,294.0 1060.6,230.1 855.6,259.3 930.0,176.4 816.5,379.2 1036.3,285.3 1055.1,446.3 861.4,312.6 968.6,448.0 984.4,115.7 952.5,165.2 853.2,316.9 1034.5,186.3 1028.0,312.5 913.7,390.3 940.5,134.0 1043.2,337.1 924.2,205.4 1003.1,304.6 1018.8,215.8 900.0,92.8 1028.3,374.7 1045.6,251.2 1045.5,290.0 1018.6,440.9 1048.4,275.8 897.7,143.9 1017.2,289.0 982.1,238.1 1007.5,238.3 981.4,439.8 1023.8,275.3 953.2,435.1 848.3,266.0 985.0,450.2 1021.1,181.2 886.8,315.4 912.3,126.8 1031.9,302.2 1003.9,376.9 1034.8,133.7 807.8,424.7 1054.7,140.7 1021.2,379.2 910.9,429.0 881.6,139.9 1028.4,359.9 922.4,114.2 896.6,147.5 1032.2,378.3 1009.0,245.1 1017.4,315.6 936.6,120.6 1024.6,330.5 971.3,240.9 859.5,326.2 1057.0,282.1 812.2,396.1 1008.6,230.7 1060.1,362.9 1037.3,307.4 1030.8,304.8 1038.0,277.7 1031.4,374.4 1054.7,306.3 1004.9,243.9 1031.9,372.6 888.1,388.2 1043.9,423.6 873.1,115.3 930.4,285.5 876.8,125.9 1054.4,439.5 1043.7,299.1 1053.1,325.1 1029.5,330.6 1065.3,334.6 1048.8,398.0 1030.9,411.3 921.5,159.1 879.1,144.0 1031.4,320.5 1075.4,120.8 916.4,116.9 1037.2,399.1 1010.5,161.7 881.8,386.1 1003.7,183.0 922.8,384.6 977.8,202.4 1024.6,429.8 1031.6,218.3 923.1,160.1 934.4,267.4 972.3,179.2 1035.4,140.3 1036.4,345.1 925.6,258.6 1020.7,323.2 872.8,172.1 906.5,130.3 1022.3,206.0 1015.1,360.3 843.9,276.7 1108.2,245.7 933.3,145.3 948.8,140.4 1036.2,379.4 1020.9,227.5 1025.4,258.0 1011.7,374.2 1003.0,288.9 1003.4,124.6 1125.4,444.0 944.4,252.2 942.8,159.6 1024.4,213.4 922.6,104.2 942.8,319.8 1056.4,383.7 1010.0,163.0 1030.2,399.2 1068.4,430.9 1049.4,401.2 943.1,129.2 1055.2,283.1 1048.6,303.7 1131.3,446.7 1028.3,367.5 1020.2,411.5 1036.8,312.8 878.9,139.5 848.2,265.6 896.6,80.1 1026.2,402.2 1018.3,375.7 1038.1,410.8 1077.5,93.3 1001.8,360.0 868.1,443.3 1034.8,339.7 1008.8,298.0 1040.2,323.9 968.2,111.8 1030.6,94.4 923.0,386.1 1006.3,453.0 1011.6,295.1 1017.6,304.7 867.7,444.3 939.8,133.8 917.3,131.5 935.0,275.1 1000.9,343.1 1076.9,450.2 882.5,294.4 1039.1,286.2 1053.8,339.7 984.5,117.2 1016.1,218.7 1077.0,401.6 1043.5,293.7 935.6,276.1 946.4,327.7 1039.7,267.1 1016.0,160.4 906.2,166.0 927.1,170.7 932.8,144.7 1027.4,408.5 1022.0,245.4 895.9,164.1 901.0,144.3 1042.8,131.4 1080.9,422.7 840.3,211.9 1023.6,377.7 938.9,137.1 860.9,125.1 848.0,215.4 1025.0,335.3 1070.3,115.3 902.3,444.8 916.9,147.1 967.4,233.5 1023.5,317.9 840.7,285.2 1023.2,333.9 1007.8,406.1 1104.6,449.2 919.8,266.6 942.2,292.9 910.5,148.6 1003.2,302.8 890.7,144.1 1066.0,316.7 1070.6,404.1 898.5,78.2 983.2,236.9 1021.7,312.1 823.4,437.2 1063.0,284.2 1064.0,367.3 1053.9,241.8 896.2,135.6 1054.9,409.1 1003.0,249.5 852.0,291.5 912.5,135.4 921.4,170.8 975.2,238.2 1008.6,202.1 1061.2,402.2 893.2,123.0 950.1,156.0 1021.4,393.4 925.1,172.6 1053.1,117.1 988.6,401.5 1014.1,443.5 907.1,122.1 860.9,292.4 1014.1,383.6 1047.8,346.9 922.1,149.0 919.0,93.8 875.7,112.3 904.9,123.6 1010.8,372.3 934.4,136.3 908.9,428.0 909.9,121.6 1022.4,261.5 1050.7,370.3 1061.8,433.6 970.9,423.4 1025.0,389.4 966.6,423.6 1056.8,426.9 1017.4,376.4 931.6,166.4 875.7,434.8 931.2,411.5 1024.5,283.1 880.1,138.1 1004.3,271.0 1005.8,284.4 912.1,417.9 1019.2,452.6 969.8,449.0 1056.0,449.9 1001.6,425.9 847.2,217.8 911.4,252.8 1059.4,414.6 918.6,109.7 1036.7,333.6 1020.0,388.6 1031.0,255.6 1140.7,448.6 1026.4,309.3 1046.7,309.9 1036.3,297.9 938.0,172.0 1042.2,320.8 859.0,281.9 1069.0,437.7 1010.0,431.7 1028.9,187.2 1002.7,340.5 910.3,141.2 1036.5,158.8 1040.4,436.4 1024.3,272.4 863.6,283.2 846.5,278.8 1029.0,317.5 932.8,171.7 1014.3,420.5 951.8,207.4 889.6,149.6 1074.2,440.5 921.6,148.5 1020.2,341.4 866.5,382.0 1034.6,250.9 1002.3,349.6 1050.3,384.7 953.6,109.4 1010.1,436.6 1013.9,402.1 888.6,163.4 1003.3,248.5 897.2,411.9 848.6,298.2 929.0,445.4 1028.5,358.9 912.5,161.2 904.7,136.5 1068.6,233.8 1016.8,151.0 1071.4,409.3 936.0,146.9 1046.9,148.2 1044.3,202.0 1042.9,279.4 898.2,163.7 1002.7,364.9 1044.5,240.0 837.9,282.3 960.4,93.7 1008.0,316.1 1031.8,277.7 1008.2,447.6 1016.8,414.5 1027.0,387.8 891.4,366.6 1004.9,365.7 1070.2,389.8 1024.7,407.7 1003.4,227.3 1011.1,194.4 937.4,450.6 1051.5,262.5 956.4,281.0 895.5,133.8 1021.0,424.1 937.0,219.4 1006.2,158.4 1002.5,333.1 939.8,420.3 1112.7,450.3 1053.0,354.0 1040.6,223.4 1091.5,451.2 1049.0,379.4 1055.7,453.0 916.1,128.3 891.0,161.8 944.6,119.5 922.7,146.0 1016.8,428.9 1010.2,156.0 1033.6,420.8 927.2,230.2 1067.9,351.8 859.3,293.9 897.8,80.9 1012.7,353.5 1014.9,437.7 990.7,410.2 920.9,94.6 1003.1,415.8 1025.1,216.3 1168.8,450.9 1011.2,192.7 1006.3,351.6 1002.4,115.9 1001.7,318.8 1036.9,293.2 1057.4,285.2 973.3,117.5 907.2,135.5 966.3,441.6 936.3,160.4 1060.8,326.3 1013.7,334.3 1002.4,319.2 1054.3,444.2 1022.4,311.7 1029.0,436.8 1052.7,275.8 1014.8,229.3 887.5,141.0 1025.5,113.2 1042.3,354.9 909.6,115.8 1065.3,298.1 977.8,401.5 1190.0,445.9 896.3,123.7 1028.6,275.6 863.3,313.5 1003.8,418.1 1031.0,335.5 917.8,134.6 1127.3,449.9 1011.4,41.4 1029.9,441.6 1013.5,118.4 896.6,128.1 892.0,93.8 929.1,149.5 1068.7,400.6 1032.4,93.0 916.0,127.3 1036.6,249.7 1062.0,357.0 1020.7,373.4 1034.7,335.0 1042.8,342.0 918.0,158.4 969.5,131.2 1025.7,270.7 835.5,213.1 925.2,392.7 1051.3,394.4 1096.9,450.2 1015.6,212.0 1053.6,438.5 1011.2,299.5 922.2,118.2 890.1,92.8 953.5,298.4 924.9,249.7 1011.3,241.1 1110.9,447.1 1052.3,272.6 968.3,130.8 972.3,409.6 1059.1,308.3 835.4,221.3 1056.4,112.9 1023.8,269.9 1050.0,368.7 930.9,211.4 1027.1,144.7 898.5,74.7 1004.2,439.1 1014.2,279.3 1039.6,276.5 893.3,445.7 846.8,317.0 1006.0,438.8 1041.5,118.5 1057.8,239.2 1004.2,353.4 1018.1,155.1 1017.4,309.2 1034.9,277.8 1038.6,156.0 928.9,263.6 1003.2,306.3 1056.6,450.5 892.6,425.7 1010.4,401.9 872.8,122.2 1012.6,202.0 1046.5,349.4 1007.4,440.6 1028.6,284.1 952.8,430.3 1015.0,136.8 851.9,256.2 1035.8,222.8 1053.2,450.9 1057.2,366.7 1011.3,401.3 1022.8,356.3 858.9,255.5 1064.7,330.3 1005.6,250.7 1021.4,275.4 953.7,114.5 891.1,449.8 1045.5,405.3 849.5,245.3 930.0,128.1 1010.4,194.1 1033.2,194.6 1014.1,273.5 924.5,408.5 991.4,117.4 926.4,115.4 948.2,286.2 931.3,169.1 951.7,208.1 1067.8,362.6 889.7,126.4 1049.0,300.7 1006.0,380.7 905.7,149.0 917.9,94.2 1050.0,345.4 1041.1,232.9 917.1,250.2 1003.3,370.7 1004.0,425.3 963.2,430.9 907.8,150.4 1031.1,347.0 916.2,124.1 1068.3,378.7 1015.8,229.6 956.6,448.7 954.1,304.1 1040.0,260.9 935.0,450.3 936.6,123.6 1027.0,97.0 1023.1,259.2 1042.7,297.3 1013.7,396.9 1041.3,284.0 1053.9,427.1 946.5,327.9 1003.2,320.3 937.1,210.6 1058.3,436.4 1006.0,304.2 1054.7,400.8 937.8,431.6 929.6,160.6 956.1,407.3 1002.7,263.1 1035.3,148.6 1030.3,434.4 1032.8,321.6 1009.1,429.7 1063.8,420.0 935.3,136.7 1050.4,264.9 904.9,87.7 1012.9,317.3 928.6,149.2 903.4,108.4 1011.1,218.9 1019.6,453.0 1045.2,246.8 895.9,128.3 1056.9,412.2 857.3,297.5 893.3,440.9 935.1,258.3 985.3,203.5 885.5,153.2 1017.3,426.2 1010.8,412.9 939.5,183.9 1029.0,443.4 1011.2,98.1 989.7,250.0 889.7,152.9 1174.9,450.9 1008.3,281.3 1010.7,432.4 1045.1,322.5 850.9,285.6 1009.4,409.4 1040.4,358.6 889.7,140.4 971.2,239.2 1044.0,432.9 1053.1,293.3 976.0,115.5 1064.9,435.2 1048.2,282.8 1049.6,386.2 1024.3,283.3 1020.2,272.0 899.6,115.0 1060.4,449.8 1003.1,388.8 1034.5,220.9 1056.3,390.1 1053.8,237.2 925.8,113.7 1044.8,137.7 1087.3,441.6 866.3,202.4 899.4,125.1 958.6,124.6 904.5,82.8 1007.5,335.0 917.3,141.1 870.9,389.1 1015.4,93.2 1010.4,179.7 899.7,149.8 1018.0,178.9 1045.0,324.7 846.7,296.5 937.3,206.0 901.9,93.2 1032.1,365.7 1004.4,246.6 1044.3,290.6 1003.3,433.5 968.4,97.4 1029.8,452.6 1064.5,411.4 1025.0,416.0 1021.5,241.5 989.7,166.3 1046.3,274.3 1003.9,322.8 942.4,204.9 1087.3,432.9 930.3,419.0 1024.5,174.4 1005.6,233.5 887.5,165.6 1015.6,235.9 1036.7,262.8 919.6,134.2 905.1,143.5 1011.4,352.0 990.1,115.3 924.8,293.2 926.5,145.2 986.4,294.4 1032.8,238.6 1059.5,93.7 875.2,432.8 950.9,424.7 862.2,312.0 906.5,153.2 941.1,437.3 1021.7,292.8 1028.2,229.2 1017.1,335.4 924.5,277.4 939.0,175.5 1038.4,183.0 903.7,74.7 924.0,135.7 925.4,114.3 1005.2,365.2 848.6,264.5 1052.4,339.2 1049.4,273.1 1006.7,371.1 936.8,135.9 1017.5,289.8 1002.5,281.7 936.6,377.7 1054.4,299.2 1073.6,98.1 897.4,78.1 1036.2,378.2 1024.7,422.9 927.5,158.9 1015.0,359.4 1010.1,447.5 923.3,144.2 930.5,135.9 902.4,140.4 1040.3,359.6 1020.9,291.5 1029.4,212.2 902.4,130.2 948.0,321.2 887.7,383.1 846.7,297.1 1027.5,351.1 920.0,104.7 1001.6,220.8 946.4,288.6 938.0,220.6 1016.4,288.6 898.0,114.1 1057.7,379.1 899.9,120.2 896.7,80.2 1027.2,356.0 1007.8,114.7 1031.9,348.1 1045.1,387.0 951.8,316.9 1008.5,338.3 929.9,225.5 1014.7,308.0 1019.0,392.4 1056.2,392.6 1023.5,244.2 1029.0,301.9 1043.2,212.4 1060.4,450.9 1029.7,383.1 1051.8,283.8 892.2,119.9 1029.8,239.3 951.6,270.4 853.8,252.3 954.5,419.8 954.3,248.4 1022.1,329.1 1040.0,427.2 1032.0,451.6 979.9,238.1 929.8,140.9 1022.9,299.8 1036.0,450.7 1046.6,348.5 921.1,386.7 880.2,427.0 910.9,75.4 900.8,74.9 891.4,124.9 921.0,165.4 899.9,130.1 902.9,160.0 895.5,94.5 1036.8,30.5 1061.9,346.1 955.7,120.6 1053.4,403.8 1063.8,334.9 1032.2,298.0 1016.4,339.7 1015.4,93.1 1077.9,377.7 854.6,259.7 1017.3,434.8 909.7,385.1 1022.7,306.3 872.2,117.2 1028.3,135.2 910.9,126.6 1049.3,437.5 931.9,106.5 950.5,118.8 900.3,156.2 1022.9,363.9 888.0,76.3 852.4,265.3 926.5,426.7 903.0,124.8 1020.3,442.1 1068.4,130.4 839.7,225.3 1031.0,212.8 1019.1,259.4 1003.4,323.9 850.1,267.0 1022.2,151.3 1065.3,403.2 912.5,154.8 1038.5,245.9 1020.5,384.0 893.4,162.5 1051.2,242.2 1053.3,397.9 932.2,142.4 1024.0,328.1 950.1,149.1 869.1,318.1 940.5,319.3 1058.3,326.3 1016.3,361.8 1052.7,373.5 1023.7,424.4 1010.2,317.9 919.9,153.0 1047.8,430.6 1044.0,237.1 946.1,440.3 1047.2,417.6 1062.9,310.0 1041.2,304.7 984.3,451.1 1025.0,185.0 1052.8,451.0"/>
<path class="d" d="M995.6 5.3V471.7" stroke-dashoffset="5.3"/>
<path class="d" d="M1038.8 5.3V471.7" stroke-dashoffset="5.3"/>
<rect x="1205.6" y="414" width="80" height="50" fill="#fff"/>
<rect class="s" x="731" y="5.3" width="576.2" height="466.4"/>
<text class="t" x="780.7" y="500.1" text-anchor="middle">−10</text>
<text class="t" x="888.2" y="500.1" text-anchor="middle">−5</text>
<text class="t" x="995.7" y="500.1" text-anchor="middle">0</text>
<text class="t" x="1103.2" y="500.1" text-anchor="middle">5</text>
<text class="t" x="1210.7" y="500.1" text-anchor="middle">10</text>
<path class="s" d="M780.7 471.7v5.4M888.2 471.7v5.4M995.7 471.7v5.4M1103.2 471.7v5.4M1210.7 471.7v5.4"/>
<text class="t" x="718.4" y="459.5" text-anchor="end">0.0</text>
<text class="t" x="718.4" y="399.9" text-anchor="end">0.1</text>
<text class="t" x="718.4" y="340.3" text-anchor="end">0.2</text>
<text class="t" x="718.4" y="280.6" text-anchor="end">0.3</text>
<text class="t" x="718.4" y="221.0" text-anchor="end">0.4</text>
<text class="t" x="718.4" y="161.4" text-anchor="end">0.5</text>
<text class="t" x="718.4" y="101.8" text-anchor="end">0.6</text>
<text class="t" x="718.4" y="42.2" text-anchor="end">0.7</text>
<path class="s" d="M731.0 451.1h-5.4M731.0 391.5h-5.4M731.0 331.9h-5.4M731.0 272.2h-5.4M731.0 212.6h-5.4M731.0 153.0h-5.4M731.0 93.4h-5.4M731.0 33.8h-5.4"/>
<text class="l" transform="translate(669.6 238.5) rotate(-90)" text-anchor="middle">linear CN_2 (mean)</text>
<text class="o" x="993.1" y="525.7">ω<tspan font-size="17.3" dy="3.1" dx="-1.2">opt</tspan></text>
<text class="p" x="1221.0" y="448.6">(b)</text>
<polyline class="c" points="1675.4,373.4 1584.2,398.9 1703.4,219.9 1686.7,425.4 1570.1,413.7 1575.6,342.9 1705.7,288.5 1728.5,449.4 1752.0,293.9 1684.1,333.7 1678.2,435.6 1555.7,417.2 1697.6,351.8 1692.4,297.5 1720.0,389.1 1684.4,263.6 1758.8,435.0 1543.7,416.7 1739.5,317.3 1661.8,415.5 1706.7,349.5 1702.0,361.4 1766.2,350.6 1566.5,402.8 1673.3,379.2 1570.0,293.9 1658.1,393.8 1677.8,342.4 1752.2,443.5 1706.9,406.0 1679.1,433.0 1548.7,408.6 1592.7,308.5 1548.7,308.9 1728.6,399.0 1624.1,377.3 1704.8,401.9 1700.5,401.6 1692.2,245.3 1499.8,427.2 1725.2,444.7 1583.2,446.5 1770.8,433.8 1510.2,368.0 1593.0,399.1 1680.4,311.6 1774.9,332.2 1532.0,407.2 1521.2,432.1 1566.1,413.7 1568.6,371.8 1759.2,450.2 1547.8,371.3 1697.1,452.5 1694.1,450.5 1715.8,303.2 1738.9,412.4 1578.5,401.1 1743.5,294.1 1687.8,321.8 1688.6,392.3 1545.0,438.4 1678.2,428.3 1815.0,450.2 1591.8,435.7 1724.1,413.5 1644.0,379.3 1555.3,397.7 1718.2,411.9 1573.8,363.4 1687.7,323.7 1680.4,412.3 1673.6,365.0 1719.9,297.0 1648.0,400.3 1721.7,430.0 1508.6,432.4 1531.4,415.6 1617.9,299.7 1778.1,409.1 1664.4,403.8 1583.4,324.6 1749.9,287.9 1715.6,388.4 1728.0,429.1 1587.4,394.3 1521.7,435.1 1745.2,450.3 1719.6,382.8 1726.0,399.3 1578.2,365.3 1770.4,427.7 1790.8,435.0 1672.9,442.9 1693.9,433.6 1725.0,439.4 1694.9,384.5 1525.1,429.8 1831.1,265.1 1705.2,282.1 1676.8,451.1 1698.6,362.7 1704.3,309.3 1578.0,402.8 1700.1,288.8 1722.0,317.6 1675.6,350.1 1729.7,338.3 1688.4,349.9 1549.0,368.7 1694.6,450.4 1693.5,347.6 1681.4,282.3 1623.1,389.7 1725.9,292.1 1549.0,393.2 1676.6,393.2 1692.9,362.2 1810.7,450.6 1602.3,307.7 1681.5,314.9 1741.3,440.6 1571.7,409.3 1560.3,383.5 1517.2,315.4 1699.5,271.8 1712.5,411.7 1700.4,293.8 1706.0,341.9 1679.9,287.3 1686.4,393.3 1712.9,447.9 1536.5,396.7 1513.4,432.4 1653.2,375.7 1602.6,425.1 1721.5,446.1 1673.3,415.3 1741.9,448.8 1639.9,372.6 1680.1,325.5 1705.9,405.0 1635.1,345.1 1725.6,314.2 1592.0,331.7 1553.7,338.4 1573.4,404.9 1676.1,422.7 1632.9,416.0 1701.5,300.3 1584.7,298.7 1705.6,417.4 1719.7,378.6 1676.8,378.0 1699.0,323.7 1632.3,424.1 1630.8,350.8 1744.9,333.5 1513.9,420.7 1797.5,445.9 1806.2,305.6 1685.8,420.5 1713.7,443.8 1708.1,324.1 1685.8,379.1 1688.5,429.0 1587.3,442.2 1633.3,416.1 1597.8,343.4 1499.1,429.4 1701.4,287.6 1718.1,294.6 1626.1,394.8 1712.0,363.0 1528.6,394.3 1557.6,393.5 1875.9,450.6 1545.3,387.4 1705.6,426.7 1682.5,412.4 1639.5,343.0 1586.0,449.7 1725.4,312.6 1569.9,322.5 1510.5,434.0 1621.8,443.9 1674.5,345.8 1624.3,324.1 1700.7,398.5 1530.3,370.2 1725.0,364.0 1738.2,442.7 1714.1,328.2 1660.2,412.6 1502.0,433.0 1716.9,331.5 1645.5,381.4 1685.6,311.7 1687.3,394.2 1483.2,309.5 1721.8,301.8 1695.3,340.1 1734.6,311.8 1603.5,439.4 1698.2,450.7 1636.8,330.0 1569.1,404.2 1542.2,405.7 1569.2,300.3 1615.1,381.4 1528.8,406.2 1592.0,327.2 1517.2,405.4 1561.1,407.3 1676.3,359.9 1622.9,388.1 1697.1,410.2 1682.5,453.2 1626.7,404.3 1548.6,404.7 1560.4,325.8 1731.2,442.2 1676.2,426.6 1742.4,311.1 1686.4,337.6 1601.2,328.1 1566.0,320.1 1607.7,378.7 1672.5,377.0 1609.3,405.6 1506.0,438.5 1689.8,297.0 1571.2,400.1 1593.3,365.0 1696.9,337.8 1684.2,412.7 1555.8,319.4 1705.9,294.1 1705.7,285.4 1756.4,294.3 1723.7,350.4 1500.7,429.7 1717.6,419.7 1673.0,362.6 1645.9,308.9 1543.8,415.9 1513.1,426.0 1602.1,365.3 1732.2,299.4 1517.3,417.9 1698.3,443.7 1689.8,444.9 1694.4,378.8 1673.0,370.7 1578.4,401.7 1583.3,325.0 1694.8,378.6 1724.6,405.6 1602.5,374.5 1647.5,321.4 1681.8,422.1 1504.0,428.8 1687.7,366.0 1559.8,312.8 1677.0,326.6 1537.5,394.2 1549.0,394.0 1587.4,365.5 1693.4,450.8 1707.4,289.7 1674.0,395.3 1716.9,439.5 1712.1,266.6 1675.6,285.3 1505.2,438.5 1684.0,353.7 1724.6,356.1 1545.4,292.4 1677.2,438.1 1624.1,332.6 1614.2,381.0 1573.3,381.0 1574.4,404.6 1589.9,440.2 1549.9,407.7 1691.2,252.0 1682.6,411.5 1790.7,267.3 1723.3,284.2 1681.7,306.6 1720.3,285.5 1673.3,296.0 1654.9,404.4 1694.1,298.2 1529.9,387.0 1721.5,257.0 1701.9,267.3 1709.7,295.8 1547.1,376.6 1693.1,362.4 1638.3,419.6 1775.9,451.8 1688.6,409.1 1605.9,399.9 1705.3,447.6 1507.0,439.0 1732.9,419.0 1769.8,445.0 1672.3,333.9 1554.8,374.6 1483.2,348.9 1731.1,448.6 1754.9,294.4 1564.6,412.0 1582.9,365.8 1616.2,424.1 1673.7,404.9 1718.7,444.0 1661.4,406.3 1692.2,358.3 1706.1,397.8 1720.7,364.5 1754.3,449.6 1634.6,337.7 1701.3,451.6 1648.1,411.5 1738.1,436.6 1718.1,258.3 1722.3,441.1 1722.2,353.3 1677.0,301.1 1602.7,339.7 1541.0,302.9 1710.2,302.6 1602.5,320.5 1537.6,403.1 1525.7,419.5 1755.3,272.6 1688.0,340.9 1557.6,381.9 1587.9,401.4 1569.9,345.5 1720.9,450.1 1782.6,431.9 1682.8,384.9 1627.0,315.0 1720.5,371.3 1688.2,383.0 1682.0,270.0 1716.8,334.2 1679.3,326.3 1637.0,365.4 1753.3,313.4 1642.2,362.3 1765.5,431.3 1686.2,379.2 1612.8,420.6 1679.3,333.3 1612.9,445.7 1631.8,327.9 1613.2,422.8 1687.7,289.6 1673.4,412.0 1739.6,274.8 1584.9,350.0 1806.2,448.4 1684.0,376.9 1684.2,403.2 1571.9,328.1 1726.8,380.7 1516.9,416.9 1504.1,432.2 1605.8,370.2 1623.4,331.2 1684.2,439.0 1736.1,450.9 1702.7,334.5 1690.2,442.2 1695.9,333.3 1716.7,342.4 1648.0,386.1 1536.5,378.3 1710.7,345.2 1609.5,332.8 1688.9,382.1 1709.5,399.3 1672.2,291.8 1544.8,421.8 1747.6,295.6 1625.2,317.5 1550.5,399.3 1598.3,398.9 1717.9,435.4 1630.4,339.6 1636.8,407.9 1683.6,321.1 1671.8,391.2 1603.9,372.7 1523.4,434.5 1746.5,451.1 1796.5,451.4 1640.1,395.1 1711.1,409.8 1691.1,381.8 1579.3,370.5 1654.8,303.5 1613.1,300.2 1654.9,418.8 1510.6,425.4 1517.5,442.8 1600.4,376.7 1586.7,351.8 1708.3,347.8 1622.2,421.7 1735.4,435.2 1754.7,311.0 1548.6,335.5 1728.0,378.4 1716.7,385.1 1592.8,332.3 1695.0,377.1 1552.6,396.0 1577.6,400.1 1718.3,371.2 1717.9,373.8 1730.8,321.1 1563.8,399.7 1682.4,416.7 1644.1,376.7 1610.8,422.9 1632.5,371.2 1726.2,442.5 1553.3,412.9 1701.0,394.0 1719.0,399.0 1675.6,282.8 1773.8,419.2 1552.3,405.7 1574.4,405.5 1702.9,442.4 1608.5,380.7 1575.4,339.9 1689.0,451.2 1550.8,432.9 1687.0,355.1 1689.3,435.7 1673.2,414.7 1601.6,314.8 1681.1,351.3 1699.3,392.7 1743.5,237.0 1694.9,288.5 1723.1,450.6 1711.7,340.2 1636.3,372.8 1677.4,447.8 1730.3,451.1 1751.6,438.8 1749.4,422.3 1645.4,391.6 1693.4,360.3 1709.0,268.6 1685.1,402.1 1673.9,396.7 1488.6,350.0 1734.4,273.5 1564.2,408.6 1701.7,310.4 1708.7,423.9 1547.5,294.2 1713.9,288.0 1716.4,436.0 1679.2,398.3 1519.0,433.0 1679.8,327.6 1690.1,299.3 1709.5,268.0 1697.3,320.1 1556.9,408.0 1580.4,314.6 1719.8,311.3 1683.7,397.7 1573.5,403.2 1724.7,286.6 1567.4,401.5 1709.2,391.2 1730.4,384.5 1723.8,430.3 1760.8,425.5 1677.5,438.4 1580.1,328.9 1720.3,303.0 1697.6,325.5 1753.0,324.1 1607.8,421.5 1723.5,372.3 1524.2,433.3 1682.9,320.6 1599.6,335.8 1693.0,366.7 1705.2,429.2 1749.1,268.3 1594.0,370.5 1684.1,382.3 1719.3,257.8 1675.4,417.6 1691.7,245.7 1715.2,331.1 1604.4,321.8 1701.4,395.3 1657.0,378.1 1754.0,450.9 1557.0,409.6 1717.5,335.7 1673.3,396.3 1588.5,292.9 1505.9,373.4 1593.1,406.9 1717.2,369.9 1691.9,297.0 1738.0,440.7 1695.9,413.2 1562.8,363.7 1664.2,408.0 1672.9,390.4 1634.8,310.0 1531.7,383.3 1727.2,205.2 1680.2,428.1 1683.7,270.6 1712.9,318.0 1703.7,422.8 1729.9,427.6 1549.6,338.7 1685.2,327.7 1709.8,342.3 1711.5,362.6 1683.6,329.2 1701.4,355.5 1674.5,451.7 1714.4,285.9 1721.1,356.2 1586.3,306.9 1592.0,305.1 1683.3,424.2 1696.8,422.5 1710.6,381.1 1636.8,393.8 1621.3,387.3 1705.3,317.6 1741.9,280.7 1561.0,379.7 1750.0,426.7 1545.1,408.6 1719.8,416.8 1692.1,366.6 1780.8,426.0 1707.2,310.6 1720.5,444.7 1738.1,356.0 1678.2,447.0 1635.2,301.6 1751.1,272.8 1673.7,316.2 1737.3,283.2 1618.9,376.0 1712.2,388.1 1781.9,439.2 1529.2,429.4 1726.6,408.6 1735.0,433.2 1564.4,387.9 1734.6,405.6 1579.0,392.2 1535.0,421.7 1620.7,421.7 1757.8,293.3 1728.5,386.8 1690.8,365.3 1718.2,418.1 1698.9,334.1 1760.1,419.0 1623.2,405.1 1719.6,407.7 1717.1,427.0 1700.0,440.9 1757.6,445.5 1697.5,430.9 1696.3,349.9 1716.7,429.7 1749.5,450.5 1644.0,413.0 1509.2,438.9 1681.1,333.5 1582.9,346.6 1686.5,444.2 1636.6,416.5 1540.8,410.7 1725.9,330.4 1699.2,443.0 1744.9,444.4 1714.5,381.6 1605.0,400.1 1549.4,410.2 1742.9,452.4 1530.2,423.7 1717.0,373.7 1537.6,419.9 1551.4,365.4 1584.2,408.9 1634.1,389.4 1676.5,369.9 1726.8,339.0 1626.4,376.6 1678.0,315.2 1698.5,394.4 1631.4,329.7 1705.1,319.4 1633.5,387.3 1711.7,308.2 1714.3,424.2 1564.8,405.1 1683.2,404.7 1594.1,365.6 1549.6,414.0 1704.2,315.7 1602.0,408.2 1535.9,387.0 1691.2,321.9 1704.3,288.4 1649.4,446.3 1539.1,429.3 1687.6,284.3 1635.3,353.3 1587.7,407.8 1595.8,341.0 1650.5,383.8 1704.8,415.2 1695.3,333.1 1503.6,423.9 1592.4,347.9 1691.8,374.0 1574.5,402.0 1682.9,420.5 1743.9,323.9 1768.1,427.0 1565.1,438.2 1723.9,398.0 1737.3,275.0 1767.5,452.8 1512.9,426.1 1630.1,302.1 1684.9,373.4 1698.6,248.1 1693.3,399.8 1715.8,450.4 1725.1,277.2 1728.9,444.6 1685.0,422.3 1673.4,336.2 1703.1,368.3 1679.1,339.3 1718.9,285.0 1663.1,380.1 1564.6,410.7 1637.7,387.6 1721.0,319.1 1691.6,291.8 1643.7,449.2 1719.3,411.8 1698.5,368.9 1723.4,349.7 1601.7,399.5 1571.4,341.4 1723.4,353.9 1548.1,393.8 1596.4,364.0 1642.9,400.2 1711.3,341.8 1725.8,410.7 1699.9,398.5 1743.2,285.6 1717.7,336.9 1596.2,393.5 1719.8,295.1 1583.8,335.4 1653.8,410.5 1603.5,408.9 1683.5,325.1 1599.0,399.0 1696.0,343.2 1692.9,344.4 1596.6,380.7 1697.8,412.4 1727.3,431.2 1547.2,293.1 1518.5,421.0 1648.4,444.1 1710.8,316.2 1678.8,330.6 1656.1,297.4 1595.9,406.3 1693.1,366.6 1687.1,335.4 1548.6,397.3 1704.1,314.7 1623.7,387.0 1551.9,339.9 1641.3,383.4 1678.8,344.1 1696.8,248.1 1518.5,419.8 1705.0,309.7 1712.0,399.4 1702.4,382.4 1674.7,372.0 1660.5,324.0 1679.3,298.9 1722.5,324.1 1721.2,207.4 1642.9,328.4 1572.8,324.5 1551.3,413.8 1558.6,380.7 1521.0,422.5 1572.2,317.2 1706.7,436.6 1661.7,393.2 1678.1,382.2 1702.3,342.7 1771.6,278.1 1677.2,289.4 1607.9,405.8 1587.7,326.3 1599.3,444.5 1598.1,385.1 1709.3,444.4 1673.4,379.3 1630.3,414.3 1635.8,452.6 1648.7,419.3 1694.7,380.1 1698.9,293.1 1713.9,342.5 1721.1,334.9 1710.8,281.7 1683.9,297.2 1691.1,272.4 1677.3,329.9 1726.5,418.8 1684.6,140.7 1502.7,436.3 1681.8,446.0 1534.3,421.3 1551.0,374.6 1664.2,394.5 1702.2,272.8 1639.9,424.2 1527.5,420.7 1642.4,337.2 1701.0,431.6 1641.9,400.9 1720.1,340.9 1569.5,396.3 1674.3,310.4 1677.1,326.9 1685.7,355.0 1738.7,432.4 1672.1,368.7 1701.5,389.6 1678.7,298.9 1717.1,401.2 1827.9,450.2 1642.3,418.7 1673.6,411.8 1578.5,428.0 1571.9,377.4 1723.1,445.0 1608.1,382.9 1566.3,408.5 1545.6,424.3 1619.1,403.5 1610.3,364.2 1650.5,383.9 1692.8,390.4 1701.3,433.1 1533.2,414.8 1738.0,276.5 1632.8,410.9 1704.0,349.7 1693.9,266.5 1713.8,377.6 1608.8,380.3 1680.3,333.8 1720.6,441.0 1737.6,428.2 1732.9,310.3 1508.3,421.7 1548.1,311.1 1613.3,374.2 1564.7,440.5 1729.1,451.9 1630.2,402.7 1720.4,434.4 1680.6,411.7 1704.5,444.7 1629.2,379.4 1582.0,322.6 1690.5,373.6 1675.6,398.6 1724.8,328.9 1551.7,419.3 1532.3,391.5 1623.5,376.0 1593.2,401.1 1557.6,409.4 1772.1,437.3 1809.3,450.6 1544.2,374.4 1705.7,267.1 1717.0,275.9 1697.1,248.2 1612.4,368.9 1561.0,301.2 1597.3,378.3 1617.9,390.4 1520.0,303.0 1536.9,291.7 1542.8,399.5 1711.5,452.0 1673.1,343.8 1577.5,397.4 1710.5,431.5 1661.5,397.2 1709.5,301.7 1646.2,326.5 1689.4,445.2 1708.9,357.8 1607.5,331.9 1615.4,322.2 1603.4,325.7 1706.2,420.8 1617.4,282.0 1646.9,412.1 1604.9,392.7 1726.2,437.7 1649.7,324.5 1599.1,383.1 1728.7,352.6 1717.5,357.3 1684.2,352.7 1678.9,311.2 1703.9,341.8 1510.0,417.7 1604.5,327.8 1548.3,324.6 1704.0,265.7 1587.2,365.2 1679.9,446.6 1599.1,374.5 1564.2,412.2 1606.9,411.7 1678.2,335.7 1600.0,387.4 1549.1,366.0 1686.5,405.3 1722.5,375.3 1767.8,435.5 1612.1,372.4 1709.0,427.2 1692.1,428.1 1688.4,435.8 1685.0,431.8 1572.0,340.9 1676.7,372.0 1615.4,387.5 1507.2,440.0 1728.3,290.2 1552.3,384.6 1553.1,367.3 1693.4,446.2 1558.6,410.5 1676.7,417.8 1710.5,424.5 1675.0,297.6 1690.2,450.8 1527.4,434.0 1606.0,330.2 1562.9,396.7 1630.3,412.6 1533.1,421.3 1792.3,442.0 1627.0,341.0 1697.0,336.1 1676.2,329.9 1718.6,351.3 1746.8,283.5 1545.2,300.5 1758.8,451.4 1726.0,425.0 1683.6,448.8 1536.7,304.0 1738.7,329.9 1681.6,435.7 1503.0,437.7 1627.2,409.4 1674.1,452.4 1563.6,393.9 1534.8,391.9 1691.0,303.6 1675.8,379.0 1516.0,434.5 1797.1,436.2 1718.3,398.8 1783.5,306.3 1677.3,333.4 1656.2,392.6 1689.1,409.5 1718.7,442.1 1639.9,411.0 1704.6,351.6 1700.3,344.0 1675.7,326.7 1597.5,370.7 1672.4,444.3 1586.6,443.4 1533.9,389.4 1513.1,438.7 1675.0,292.9 1730.0,284.5 1672.5,313.8 1740.8,419.4 1604.5,422.2 1710.0,383.1 1737.1,421.9 1681.6,318.2 1681.3,292.1 1677.8,398.7 1684.0,413.8 1645.3,420.5 1511.6,423.9 1625.2,414.1 1761.9,409.5 1717.3,359.8 1590.6,402.8 1679.3,348.9 1559.1,326.4 1701.7,391.4 1714.1,342.2 1572.9,409.4 1574.1,307.1 1610.3,341.7 1511.9,440.4 1580.5,350.1 1675.3,446.4 1656.4,386.1 1696.3,307.5 1698.9,293.7 1621.0,409.6 1688.1,319.9 1665.6,391.5 1696.7,318.4 1646.2,376.9 1519.1,419.4 1742.8,442.9 1562.1,389.8 1735.6,447.5 1567.1,330.0 1720.3,446.7 1730.1,379.0 1528.6,293.3 1564.9,416.3 1715.0,441.9 1554.0,332.4 1720.5,311.9 1769.4,337.6 1748.4,453.0 1494.0,318.8 1513.4,425.5 1513.9,428.1 1709.1,438.9 1632.7,422.3 1607.3,323.0 1685.4,305.0 1697.3,426.9 1640.0,403.5 1582.3,339.2 1752.0,450.4 1510.0,436.6 1538.2,417.5 1523.7,424.2 1697.6,325.1 1638.8,383.2 1672.6,281.2 1752.1,360.4 1729.0,397.7 1685.0,437.6 1605.3,403.2 1594.8,409.0 1624.2,335.4 1709.5,434.3 1556.3,408.7 1697.6,295.3 1714.5,357.0 1652.0,377.3 1629.9,413.5 1525.6,424.3 1560.9,310.1 1652.3,336.7 1628.3,344.5 1617.5,410.8 1737.8,443.0 1699.0,445.0 1689.4,141.8 1712.9,421.0 1616.3,377.5 1698.4,381.7 1704.2,336.3 1683.8,338.2 1550.0,337.0 1692.2,364.6 1535.8,391.4 1504.8,352.2 1573.4,350.0 1703.9,387.6 1689.3,451.1 1726.0,407.1 1745.1,272.5 1794.6,433.0 1640.6,379.4 1590.2,344.5 1745.7,295.9 1543.8,392.7 1717.6,450.4 1723.2,440.3 1700.2,449.8 1704.9,332.6 1576.3,447.7 1625.3,335.0 1716.7,363.8 1565.3,304.4 1562.2,363.6 1723.0,380.8 1514.6,369.5 1653.4,376.9 1568.6,395.8 1583.7,401.1 1774.2,428.8 1715.5,381.6 1608.7,414.9 1515.9,430.2 1692.6,381.7 1620.8,407.5 1684.0,306.3 1791.1,306.9 1523.9,435.1 1673.7,388.3 1679.5,445.1 1624.9,377.6 1579.7,319.2 1702.8,354.8 1618.7,419.1 1686.5,411.3 1690.1,352.1 1561.2,343.7 1683.6,298.2 1723.1,329.9 1681.2,339.1 1748.7,299.9 1649.5,384.5 1641.2,417.8 1673.5,431.0 1565.5,395.6 1691.1,397.4 1625.7,397.7 1560.8,377.1 1551.4,343.4 1632.4,354.5 1558.8,336.8 1598.2,394.5 1672.4,451.5 1672.2,421.6 1701.8,309.6 1729.3,283.4 1613.1,381.0 1705.3,404.0 1646.2,373.6 1599.3,392.4 1550.0,317.6 1728.0,413.2 1692.1,265.2 1732.0,439.5 1590.6,388.0 1712.5,382.9 1521.9,435.4 1673.0,376.0 1714.4,354.2 1721.3,334.0 1696.6,450.3 1703.8,295.4 1701.9,394.1 1735.1,349.2 1732.9,278.8 1569.6,385.4 1627.4,363.3 1524.7,430.1 1649.9,386.6 1625.5,437.4 1701.1,409.7 1584.9,307.3 1563.9,318.1 1712.7,417.5 1691.7,296.3 1627.6,416.9 1566.3,306.7 1682.6,369.4 1609.7,383.7 1725.6,414.7 1505.1,435.8 1723.7,403.1 1568.7,303.6 1682.8,307.1 1676.5,445.9 1753.6,261.8 1609.5,411.0 1606.4,398.4 1845.2,450.9 1715.3,339.9 1684.1,308.3 1561.2,381.2 1562.5,413.7 1716.7,323.1 1632.4,397.9 1504.6,422.8 1737.3,422.2 1704.0,367.7 1644.7,370.1 1761.0,436.0 1617.5,326.2 1744.0,311.2 1679.5,394.6 1713.7,355.1 1706.6,331.6 1616.1,386.5 1715.0,294.2 1543.3,396.5 1673.6,350.8 1629.9,304.8 1717.3,412.9 1680.0,442.9 1600.6,316.9 1510.3,429.6 1713.8,360.9 1576.4,430.2 1591.0,430.8 1628.2,352.1 1705.7,410.1 1699.4,416.5 1704.2,413.8 1754.8,316.9 1727.9,354.2 1702.2,350.1 1559.2,294.2 1704.2,408.0 1540.5,288.5 1574.2,386.9 1629.4,332.2 1531.4,376.6 1571.5,403.3 1699.0,425.0 1694.6,274.0 1606.7,395.8 1672.9,435.8 1712.2,356.5 1747.3,311.2 1686.5,435.6 1801.4,449.3 1755.3,273.0 1572.6,411.0 1719.1,386.9 1734.7,292.8 1771.3,450.4 1674.2,430.4 1520.4,429.2 1609.5,368.5 1724.6,372.6 1751.4,450.5 1703.6,362.9 1637.9,303.3 1677.4,451.6 1563.8,335.6 1697.6,220.8 1705.1,398.6 1729.6,346.1 1796.8,451.9 1696.1,442.2 1616.8,318.0 1678.9,303.7 1511.0,423.3 1688.4,391.4 1604.5,299.9 1732.0,299.7 1711.2,420.5 1566.0,403.2 1707.1,452.9 1722.3,441.0 1500.5,305.2 1753.8,271.5 1712.5,146.1 1507.1,430.2 1655.7,409.6 1660.6,438.0 1565.2,339.1 1781.3,426.7 1638.9,364.9 1658.3,392.6 1739.3,427.2 1590.3,452.1 1680.7,369.8 1531.5,414.7 1759.6,451.6 1678.9,303.8 1608.2,302.9 1691.8,300.2 1778.1,247.2 1650.1,391.1 1577.9,341.8 1718.0,417.1 1570.1,370.0 1521.7,434.2 1642.8,335.4 1695.8,304.8 1694.8,358.2 1546.7,336.8 1586.4,335.0 1715.7,369.6 1641.0,382.0 1641.5,328.0 1597.6,328.2 1717.7,310.5 1689.7,451.0 1578.9,376.3 1737.1,286.2 1693.2,305.9 1694.8,325.9 1562.7,334.1 1507.1,434.1 1719.5,439.0 1539.7,413.0 1587.9,394.0 1646.6,390.5 1734.6,341.3 1546.7,414.1 1758.6,410.7 1598.2,375.0 1781.8,433.4 1731.5,298.0 1600.7,336.6 1705.1,360.7 1766.6,448.8 1714.6,361.7 1718.4,328.0 1678.0,374.3 1604.2,333.5 1510.6,427.8 1756.3,257.9 1529.2,419.5 1717.1,340.7 1712.8,356.1 1705.3,310.8 1647.6,411.7 1589.7,327.9 1579.2,410.9 1682.0,411.1 1772.1,429.4 1572.1,398.5 1732.0,451.1 1597.9,320.9 1686.0,420.3 1680.4,426.1 1705.2,257.1 1563.1,307.6 1681.2,361.7 1569.6,400.6 1699.4,292.6 1695.3,354.1 1700.6,368.1 1600.8,371.3 1601.6,378.7 1627.0,415.0 1683.9,368.5 1742.9,298.2 1619.6,307.7 1593.9,361.6 1599.7,337.1 1599.7,329.3 1543.6,325.7 1580.4,325.5 1672.6,289.6 1693.5,449.7 1590.6,374.1 1698.1,299.2 1736.8,441.3 1693.8,346.3 1530.5,400.6 1789.9,437.4 1706.3,300.7 1798.7,410.2 1699.1,289.6 1535.2,421.5 1684.3,377.3 1546.0,387.2 1686.9,309.4 1676.0,321.0 1710.5,305.5 1597.0,410.2 1748.5,447.5 1729.2,424.1 1602.6,328.7 1649.7,392.5 1723.9,425.5 1751.6,253.7 1674.5,451.3 1685.9,390.2 1703.4,361.0 1692.4,395.6 1569.7,374.9 1782.1,444.8 1723.2,450.0 1768.3,453.4 1673.7,403.9 1641.3,398.2 1717.2,304.0 1509.4,441.6 1641.9,310.0 1525.4,334.0 1573.8,347.0 1577.5,342.9 1604.6,338.4 1487.5,311.7 1767.3,423.1 1685.1,313.2 1523.7,416.4 1581.2,335.8 1815.2,450.0 1684.2,359.5 1583.7,402.1 1674.3,358.8 1685.2,363.7 1672.4,308.1 1629.9,372.4 1605.9,325.3 1571.7,343.7 1704.2,315.7 1720.1,370.9 1602.6,402.8 1677.4,317.6 1501.1,425.7 1745.3,257.7 1675.5,368.0 1544.3,391.6 1712.4,339.6 1662.3,403.9 1599.2,404.8 1590.0,372.3 1692.4,271.6 1621.6,401.6 1588.9,344.2 1704.9,305.9 1679.8,347.3 1611.0,370.1 1677.8,373.1 1752.9,302.4 1721.0,389.8 1771.6,444.6 1714.8,301.3 1523.4,437.2 1699.7,182.1 1589.3,451.8 1565.9,341.0 1706.7,286.4 1582.6,388.7 1714.6,329.7 1586.0,352.9 1507.2,424.2 1715.6,301.5 1805.1,450.4 1726.9,412.0 1565.0,415.8 1639.0,372.0 1763.2,437.7 1594.1,418.5 1514.6,425.0 1594.9,385.5 1719.5,404.5 1652.3,413.7 1625.0,384.7 1676.2,368.1 1684.4,363.5 1607.3,300.0 1576.4,378.9 1697.3,343.5 1709.2,449.7 1650.9,404.8 1750.7,315.8 1757.2,452.2 1523.9,348.9 1773.8,416.7 1643.8,355.8 1687.6,325.3 1696.5,403.9 1541.6,305.7 1522.9,427.0 1741.7,450.9 1515.5,436.9 1747.2,276.7 1517.9,427.8 1627.4,363.5 1545.0,432.7 1708.1,365.1 1612.8,442.3 1729.0,343.8 1707.0,451.7 1599.6,395.0 1692.6,407.3 1722.7,370.9 1559.7,318.6 1731.4,428.5 1604.0,397.8 1713.2,449.1 1574.4,387.8 1680.1,443.0 1552.4,427.7 1573.3,394.5 1559.3,395.4 1725.7,445.4 1681.4,358.3 1718.2,358.2 1687.1,320.0 1702.3,452.8 1596.6,352.2 1713.7,289.5 1684.2,333.5 1534.3,425.0 1696.9,402.8 1728.9,433.3 1739.5,304.2 1704.5,409.2 1711.6,449.8 1559.9,302.4 1703.9,249.1 1725.1,415.1 1599.3,389.2 1630.3,326.7 1745.5,333.4 1594.5,347.3 1650.5,378.1 1686.9,390.7 1697.3,364.4 1568.4,399.1 1737.6,341.3 1699.9,357.2 1513.1,428.5 1568.4,417.9 1804.7,441.4 1693.9,388.9 1580.2,402.6 1774.6,445.2 1683.1,350.4 1728.7,448.7 1732.8,404.7 1602.1,420.6 1692.5,309.8 1679.1,380.3 1693.3,308.4 1591.9,374.1 1724.0,315.6 1511.9,440.8 1526.1,433.4 1730.2,391.6 1535.4,387.7 1624.4,326.5 1622.9,420.8 1562.1,376.0 1724.9,390.8 1680.7,396.8 1597.6,411.4 1726.2,420.5 1532.6,383.3 1711.8,319.4 1708.6,411.1 1681.9,421.8 1676.5,373.5 1718.8,421.1 1534.5,337.6 1616.9,406.0 1570.3,402.2 1735.3,325.4 1647.4,386.0 1580.7,404.0 1703.3,433.3 1701.9,259.7 1671.4,448.3 1725.5,271.8 1585.9,401.5 1594.5,386.8 1614.6,442.3 1546.1,435.0 1589.9,400.2 1561.2,392.3 1619.5,388.1 1680.0,334.7 1701.8,350.3 1658.1,319.8 1543.2,403.7 1594.2,351.8 1724.6,291.7 1710.3,294.8 1691.5,313.3 1711.9,439.9 1678.6,308.8 1579.0,361.5 1733.3,423.6 1717.0,290.6 1579.3,345.2 1559.8,410.9 1697.6,296.7 1725.2,387.2 1692.5,399.7 1661.8,402.6 1714.8,272.4 1686.8,280.9 1672.8,360.8 1759.0,451.1 1583.6,313.0 1722.8,333.0 1729.1,439.3 1718.3,417.7 1732.2,296.3 1644.6,343.0 1529.8,404.5 1608.1,322.9 1511.1,429.1 1711.0,375.3 1677.9,359.2 1713.8,356.9 1577.3,397.6 1684.5,373.0 1700.4,391.9 1691.4,387.2 1611.9,376.1 1505.1,426.9 1758.0,439.1 1636.5,356.0 1616.0,423.4 1685.0,395.0 1687.7,451.1 1591.9,395.5 1773.3,379.2 1708.6,413.7 1691.0,447.8 1684.8,295.7 1713.7,298.1 1638.0,389.8 1520.2,427.0 1575.8,306.9 1770.5,301.9 1561.4,411.6 1706.0,266.1 1607.4,345.2 1793.8,433.0 1720.5,339.4 1547.7,393.0 1741.2,286.7 1698.2,377.4 1688.8,355.1 1688.7,158.7 1681.0,396.0 1599.0,367.9 1514.2,428.1 1662.5,382.0 1731.2,330.4 1575.8,310.4 1684.9,366.0 1567.8,396.6 1700.2,332.2 1575.8,384.3 1717.4,314.1 1777.9,450.5 1801.2,444.7 1604.9,367.6 1630.4,334.3 1675.0,431.6 1520.3,433.9 1630.8,357.7 1641.8,423.5 1654.7,378.3 1510.4,440.5"/>
<path class="d" d="M1666.2 5.3V471.7" stroke-dashoffset="5.3"/>
<path class="d" d="M1709.4 5.3V471.7" stroke-dashoffset="5.3"/>
<polyline class="c" points="1715.2,392.8 1522.8,432.0 1732.0,442.1 1517.4,289.6 1721.7,433.2 1715.2,341.5 1524.6,425.2 1677.4,359.2 1715.6,382.6 1646.6,396.0 1673.8,378.4 1644.3,422.1 1786.5,449.2 1722.7,334.6 1589.4,400.7 1530.8,429.4 1808.8,437.8 1653.8,380.3 1732.0,287.3 1713.7,425.1 1558.4,400.6 1748.9,239.2 1684.5,325.8 1639.8,299.1 1709.9,335.2 1676.3,452.7 1688.8,315.5 1686.9,298.3 1650.0,404.0 1570.1,364.9 1569.9,366.1 1538.7,408.7 1679.7,317.7 1717.1,368.3 1661.8,398.8 1543.6,330.3 1730.4,332.0 1678.2,419.4 1810.1,451.0 1674.8,294.4 1737.1,276.2 1713.8,384.6 1727.7,404.8 1704.8,367.2 1717.8,344.6 1557.2,382.2 1539.7,389.0 1807.1,450.5 1633.3,333.1 1747.7,447.9 1720.3,439.2 1695.1,309.7 1675.1,319.6 1674.2,348.6 1754.6,278.7 1630.0,314.6 1639.1,372.8 1707.7,327.2 1689.6,338.4 1552.9,288.9 1693.4,377.2 1701.8,314.4 1644.9,338.4 1639.3,341.6 1709.5,388.5 1754.3,304.1 1679.7,382.0 1554.6,387.1 1691.5,345.9 1550.0,404.1 1727.6,374.6 1571.0,352.9 1674.1,309.6 1674.3,305.1 1552.1,343.4 1697.0,376.1 1789.6,285.1 1531.9,371.5 1570.6,386.4 1582.5,353.4 1523.3,435.0 1743.1,444.4 1687.7,413.2 1692.4,408.0 1683.2,308.1 1754.8,425.1 1637.1,358.2 1724.4,371.5 1765.2,427.6 1579.4,394.8 1536.7,416.9 1650.0,308.0 1809.1,444.9 1584.6,401.4 1682.5,359.7 1662.6,322.0 1689.9,399.6 1707.4,322.5 1761.9,435.7 1671.6,434.7 1674.9,302.6 1553.2,390.1 1605.8,414.6 1671.8,428.4 1631.1,418.8 1686.0,340.0 1692.6,271.1 1701.1,398.7 1724.8,450.1 1672.2,321.6 1720.3,382.9 1712.2,292.9 1579.6,353.2 1721.4,418.8 1690.3,385.1 1620.9,390.4 1595.8,337.1 1692.1,422.1 1645.9,304.1 1597.4,410.0 1595.1,412.4 1756.4,440.5 1676.0,411.6 1737.7,329.6 1688.4,409.2 1640.4,371.8 1679.5,291.7 1716.2,412.9 1755.5,279.5 1709.8,400.0 1586.7,353.5 1543.6,405.8 1727.0,397.2 1620.4,422.2 1512.4,422.1 1563.0,326.8 1684.9,413.5 1567.9,351.0 1729.1,297.1 1577.4,398.3 1701.0,342.2 1726.8,343.0 1527.5,324.7 1524.5,422.5 1651.3,434.2 1761.9,330.1 1768.1,439.6 1553.8,385.7 1724.7,450.5 1744.4,450.8 1575.0,408.2 1596.0,392.8 1685.8,355.6 1685.5,450.6 1737.1,301.4 1694.7,338.1 1510.1,441.8 1696.9,343.6 1738.9,293.3 1773.0,442.4 1573.9,333.6 1685.5,323.1 1590.0,391.9 1680.2,305.1 1711.9,291.6 1607.2,415.7 1595.1,293.9 1748.7,327.9 1782.0,448.8 1701.5,315.3 1749.5,240.1 1731.4,276.0 1672.2,438.9 1696.6,295.0 1606.6,421.5 1693.3,436.9 1719.8,341.1 1678.8,392.1 1664.8,395.7 1653.1,407.8 1702.5,340.9 1739.4,450.7 1605.4,323.0 1656.8,452.1 1724.1,280.6 1650.7,290.8 1556.5,417.6 1623.3,332.9 1682.4,290.9 1573.9,334.7 1557.8,415.5 1685.6,356.4 1591.8,452.8 1687.6,347.1 1738.6,451.0 1681.2,306.6 1715.9,322.3 1761.6,450.3 1620.8,450.6 1681.7,403.0 1567.2,349.7 1637.5,331.9 1635.8,321.5 1716.6,400.4 1704.0,299.5 1686.6,265.4 1750.6,312.0 1710.7,332.9 1554.4,327.5 1542.3,409.0 1541.8,411.9 1664.5,410.1 1693.3,255.4 1593.9,361.5 1698.7,347.3 1641.8,336.4 1693.4,249.8 1678.8,406.3 1721.1,331.5 1684.8,424.8 1710.8,441.1 1534.8,408.1 1590.6,399.5 1700.0,332.7 1522.4,435.2 1702.1,307.1 1696.1,317.8 1718.9,304.1 1692.2,158.7 1532.3,371.3 1660.2,327.1 1718.8,345.7 1560.7,403.5 1581.9,411.3 1621.3,308.9 1602.2,374.2 1601.6,342.5 1510.1,437.9 1613.0,312.1 1757.3,449.2 1734.6,451.0 1696.9,419.4 1713.7,352.6 1687.6,387.4 1712.0,276.6 1734.5,451.3 1508.6,421.9 1701.2,428.4 1570.1,345.1 1777.0,310.6 1720.8,371.5 1550.9,389.9 1523.1,433.0 1692.1,411.2 1688.2,404.2 1574.8,408.4 1682.6,372.1 1704.9,399.5 1744.4,443.6 1589.9,366.5 1680.7,316.7 1663.7,393.0 1571.6,401.3 1770.6,430.2 1786.2,450.4 1611.8,393.6 1686.5,317.4 1685.4,354.9 1713.9,283.1 1621.0,325.9 1706.0,392.4 1588.8,368.2 1547.0,389.7 1707.3,439.1 1705.4,397.9 1693.1,285.9 1721.6,414.1 1801.2,443.9 1678.6,291.3 1748.5,450.2 1566.4,396.3 1690.5,370.1 1741.6,427.0 1750.0,449.4 1529.6,417.3 1733.1,263.8 1786.5,442.9 1723.6,283.8 1626.8,360.9 1709.6,343.5 1709.0,307.8 1545.1,302.2 1607.4,325.0 1695.0,440.4 1747.1,408.0 1631.4,345.0 1557.5,325.2 1787.8,291.1 1698.4,286.5 1638.0,340.6 1541.0,400.1 1673.4,442.6 1706.1,434.3 1617.4,387.3 1523.7,429.8 1711.1,304.7 1597.6,415.2 1756.5,452.1 1701.8,345.8 1721.2,406.4 1685.8,322.4 1682.9,381.4 1650.4,416.3 1615.0,408.7 1860.8,450.6 1644.0,369.0 1673.8,422.6 1697.0,303.8 1695.0,280.4 1575.1,402.4 1712.0,430.9 1711.8,429.0 1651.2,292.1 1716.6,417.4 1678.2,333.4 1717.4,280.4 1672.2,430.5 1588.6,408.9 1584.2,400.7 1839.8,450.9 1704.2,352.6 1728.3,431.3 1676.8,313.0 1744.6,236.2 1708.4,331.6 1734.6,312.0 1741.0,313.1 1737.7,441.9 1640.3,373.8 1692.3,427.5 1560.2,372.9 1502.4,423.3 1619.3,376.0 1655.3,391.6 1697.1,321.2 1607.9,414.5 1597.6,321.7 1759.0,274.0 1812.1,451.1 1697.3,291.8 1618.4,432.5 1731.2,278.3 1624.0,396.8 1728.7,394.2 1723.1,374.3 1543.7,419.6 1745.3,274.7 1712.4,387.9 1795.8,452.8 1606.9,378.9 1771.2,448.4 1519.9,419.3 1710.8,286.5 1700.8,26.0 1617.3,331.5 1679.7,374.5 1516.4,439.4 1568.1,412.0 1694.7,389.5 1680.4,382.4 1735.7,290.0 1736.2,313.3 1672.5,346.4 1623.1,407.1 1676.3,374.5 1512.0,431.9 1477.8,318.8 1676.1,426.7 1680.6,388.1 1704.4,448.9 1741.6,275.0 1664.5,412.0 1593.5,391.2 1503.9,430.2 1705.7,329.8 1779.2,331.8 1696.2,373.6 1701.8,349.8 1715.9,395.1 1689.8,325.1 1520.8,429.3 1510.2,433.4 1679.8,376.4 1696.4,313.4 1737.5,406.4 1701.7,406.3 1723.8,291.3 1719.5,290.7 1691.6,316.3 1674.8,416.5 1678.8,299.9 1728.8,410.7 1689.8,352.6 1672.3,289.8 1681.1,365.0 1510.3,425.0 1588.6,388.8 1673.4,334.1 1684.2,452.4 1675.9,453.1 1717.7,366.1 1685.0,425.3 1636.9,338.9 1722.4,406.0 1703.2,405.0 1712.5,366.5 1753.8,278.0 1680.0,329.8 1553.4,299.8 1707.5,254.9 1655.0,379.6 1661.8,386.4 1722.9,365.9 1563.4,381.6 1706.5,321.6 1693.9,403.5 1755.7,419.8 1707.0,366.9 1528.7,401.7 1728.1,426.4 1696.5,318.7 1722.2,419.3 1697.7,404.1 1559.1,336.2 1520.9,420.4 1511.3,416.9 1565.9,400.5 1645.3,401.0 1683.4,429.4 1779.4,428.5 1551.7,414.9 1426.9,376.6 1718.1,379.9 1591.3,343.9 1715.6,351.5 1770.7,448.7 1552.7,417.7 1561.2,392.1 1579.2,379.6 1809.4,451.7 1645.9,320.3 1594.5,324.9 1675.7,341.9 1716.8,407.6 1673.4,416.3 1542.5,406.6 1691.5,316.4 1782.3,450.5 1707.3,434.2 1755.8,392.8 1695.0,322.6 1676.7,356.8 1746.1,424.9 1711.2,432.0 1678.7,317.8 1576.8,322.6 1672.4,418.7 1700.0,366.2 1712.2,443.7 1537.6,373.3 1797.4,451.6 1744.1,450.8 1709.4,432.6 1672.9,412.8 1628.1,388.7 1685.5,369.2 1507.6,419.7 1522.8,418.6 1706.2,416.8 1658.5,404.1 1518.5,428.2 1721.6,278.1 1683.9,351.6 1564.5,372.5 1699.0,326.7 1722.8,298.2 1715.0,398.3 1747.3,317.0 1588.9,339.1 1696.8,315.7 1706.8,452.7 1518.0,429.9 1581.7,411.0 1770.3,452.1 1694.3,250.6 1632.6,382.5 1510.7,429.6 1676.6,359.6 1617.8,375.0 1506.7,435.9 1726.0,451.8 1676.4,367.7 1451.8,311.2 1625.5,374.5 1711.4,451.9 1735.2,326.5 1605.6,324.6 1604.7,342.9 1698.9,449.6 1574.8,402.9 1608.6,391.1 1687.2,374.2 1745.0,331.1 1676.5,352.8 1721.8,318.5 1682.2,428.1 1650.7,330.5 1652.4,385.5 1726.7,309.1 1673.4,413.3 1706.9,364.4 1720.1,307.4 1706.5,445.1 1567.8,326.7 1713.1,439.4 1686.5,421.3 1614.4,375.9 1707.4,439.4 1602.1,326.4 1600.7,339.3 1679.0,388.5 1584.8,401.6 1559.2,373.4 1676.6,296.4 1590.2,377.0 1632.0,412.3 1682.1,331.8 1557.9,367.7 1716.1,293.5 1580.7,405.3 1706.7,194.4 1723.9,437.2 1727.5,400.5 1604.6,337.3 1746.2,441.8 1706.9,314.7 1538.4,356.5 1725.5,369.1 1679.8,451.4 1746.4,321.6 1710.2,346.4 1723.9,375.3 1720.0,346.7 1687.4,281.0 1708.6,394.3 1646.7,403.0 1695.9,315.8 1597.4,391.2 1603.6,341.7 1510.8,435.3 1723.7,345.7 1673.7,313.0 1712.4,354.2 1783.4,450.1 1591.5,321.5 1688.1,311.4 1636.7,339.4 1716.5,319.4 1675.5,313.5 1694.8,440.5 1592.4,381.4 1721.7,314.7 1698.0,446.9 1693.5,417.2 1673.9,409.9 1576.0,443.1 1587.9,350.7 1564.8,349.5 1769.9,417.2 1557.5,370.2 1532.4,422.3 1559.2,377.7 1508.7,431.0 1764.3,437.9 1806.7,451.3 1745.2,326.6 1596.3,382.8 1535.8,301.9 1693.5,446.0 1672.0,420.7 1752.3,318.6 1632.0,340.3 1609.7,311.9 1686.2,369.6 1726.0,265.5 1776.2,440.5 1568.2,379.4 1694.0,431.3 1763.7,433.5 1687.8,332.5 1673.6,311.5 1559.6,392.1 1703.7,336.6 1715.3,404.4 1556.2,387.0 1626.7,337.1 1596.6,373.3 1701.2,412.4 1717.7,331.0 1659.8,403.8 1688.7,237.7 1700.0,258.9 1742.1,341.3 1695.3,335.6 1633.1,307.6 1700.0,358.0 1728.1,274.6 1718.1,306.5 1713.8,269.0 1632.3,423.0 1518.7,423.0 1682.2,291.6"/>
<rect class="s" x="1402.1" y="5.3" width="575" height="466.4"/>
<text class="t" x="1451.3" y="500.1" text-anchor="middle">−10</text>
<text class="t" x="1558.8" y="500.1" text-anchor="middle">−5</text>
<text class="t" x="1666.3" y="500.1" text-anchor="middle">0</text>
<text class="t" x="1773.8" y="500.1" text-anchor="middle">5</text>
<text class="t" x="1881.3" y="500.1" text-anchor="middle">10</text>
<path class="s" d="M1451.3 471.7v5.4M1558.8 471.7v5.4M1666.3 471.7v5.4M1773.8 471.7v5.4M1881.3 471.7v5.4"/>
<text class="t" x="1389.5" y="459.4" text-anchor="end">0.0</text>
<text class="t" x="1389.5" y="403.1" text-anchor="end">0.5</text>
<text class="t" x="1389.5" y="346.9" text-anchor="end">1.0</text>
<text class="t" x="1389.5" y="290.6" text-anchor="end">1.5</text>
<text class="t" x="1389.5" y="234.4" text-anchor="end">2.0</text>
<text class="t" x="1389.5" y="178.2" text-anchor="end">2.5</text>
<text class="t" x="1389.5" y="121.9" text-anchor="end">3.0</text>
<text class="t" x="1389.5" y="65.7" text-anchor="end">3.5</text>
<path class="s" d="M1402.1 451.0h-5.4M1402.1 394.8h-5.4M1402.1 338.5h-5.4M1402.1 282.2h-5.4M1402.1 226.0h-5.4M1402.1 169.8h-5.4M1402.1 113.5h-5.4M1402.1 57.2h-5.4"/>
<text class="l" transform="translate(1341.0 238.5) rotate(-90)" text-anchor="middle">Voro_area_minimum (std)</text>
<text class="o" x="1663.6" y="525.7">ω<tspan font-size="17.3" dy="3.1" dx="-1.2">opt</tspan></text>
<text class="p" x="1907.3" y="452.8">(c)</text>
<polyline class="c" points="368.3,782.9 380.6,740.2 377.1,890.6 355.3,774.3 249.3,788.5 214.4,711.6 373.6,823.9 348.6,897.3 200.9,762.4 383.7,825.9 368.6,702.1 276.8,762.9 229.8,710.9 451.1,938.9 350.9,876.7 394.6,834.4 288.1,852.3 370.2,860.9 386.6,835.0 372.5,876.8 336.0,807.4 360.5,787.2 379.2,911.5 436.2,811.2 256.2,788.5 383.9,780.2 397.3,800.4 235.8,763.3 345.3,831.7 381.8,757.1 373.3,777.6 377.7,935.7 350.7,797.3 441.5,839.8 386.1,883.6 336.1,858.4 361.3,736.2 411.7,790.8 358.7,808.3 361.2,826.1 386.1,919.0 358.4,914.0 381.9,927.9 303.9,712.4 391.3,942.2 348.0,734.4 460.2,841.2 222.0,788.4 415.7,791.1 361.7,660.6 399.9,883.0 262.7,761.6 343.7,796.7 345.9,855.6 354.7,691.3 374.6,837.3 430.3,878.6 395.8,837.8 404.4,756.7 141.8,784.2 388.8,766.2 362.5,847.2 406.4,704.1 332.8,949.3 402.4,886.0 162.4,763.0 398.6,849.3 319.7,837.9 363.2,869.1 405.7,919.6 349.7,795.4 336.8,936.0 363.6,911.8 391.5,801.8 398.8,862.9 271.0,879.6 350.1,938.0 358.6,902.7 364.2,789.0 415.1,838.7 348.2,884.3 409.8,892.4 365.7,848.5 340.3,945.5 341.0,858.8 418.8,826.4 212.1,892.0 389.5,928.0 376.8,627.7 252.0,763.1 487.2,924.5 276.3,788.3 210.2,712.9 346.9,738.4 379.6,833.3 357.2,798.2 370.4,802.8 246.3,763.6 382.3,969.5 398.7,882.7 422.7,852.5 395.4,736.8 295.9,737.3 374.6,925.8 411.0,886.1 369.3,813.2 415.6,832.2 254.2,736.6 220.1,762.8 334.0,906.6 334.1,903.9 352.0,786.3 338.9,747.5 215.6,748.5 351.1,838.7 353.7,718.1 360.2,839.0 336.7,928.1 234.3,787.3 419.4,853.2 390.8,835.4 334.5,903.5 369.6,927.2 354.4,907.1 209.2,762.6 404.6,932.0 370.8,838.0 406.1,702.7 289.4,777.8 377.3,724.1 365.9,882.1 352.5,752.6 334.9,927.8 334.0,850.2 279.2,762.8 386.7,708.3 388.8,713.7 360.2,867.0 272.7,777.8 370.5,795.6 217.3,789.8 332.5,817.1 371.2,888.5 405.1,795.0 381.5,897.8 297.2,778.0 385.5,869.4 360.4,922.4 415.8,757.5 159.1,709.9 333.7,880.8 202.0,788.3 349.8,941.1 212.6,764.0 377.6,910.8 312.9,777.3 292.8,777.7 417.5,875.1 403.8,887.6 374.9,783.9 386.4,912.4 402.3,883.0 471.6,875.4 369.7,928.1 443.0,934.9 343.5,774.0 264.3,763.4 336.8,947.9 366.5,912.8 428.1,849.9 199.0,777.5 213.5,787.6 281.7,879.6 200.7,788.4 458.0,850.3 408.8,837.5 209.8,763.6 396.5,826.4 334.3,888.2 388.7,793.8 354.9,704.9 321.7,762.3 274.9,712.8 217.2,851.0 382.0,878.3 360.9,788.4 426.9,802.5 354.7,935.6 393.4,885.9 362.4,780.6 418.8,872.8 353.8,940.4 372.1,866.3 334.6,780.3 379.0,911.1 335.1,905.2 388.4,758.5 240.7,788.7 347.5,792.4 381.3,885.5 234.5,763.6 271.2,789.6 388.6,929.5 261.8,777.0 382.1,833.7 394.4,837.6 419.4,837.4 403.5,872.5 353.7,950.1 438.5,698.5 364.9,648.2 296.8,851.6 301.4,778.3 340.0,901.6 419.0,818.2 341.2,779.0 333.7,868.8 433.8,763.4 376.9,946.6 211.5,789.7 380.0,865.0 373.3,935.5 344.4,831.2 359.7,869.9 247.9,852.6 333.2,838.7 343.1,764.0 371.0,666.0 374.1,787.5 405.0,925.9 347.9,907.2 353.0,874.8 375.4,746.2 333.8,855.2 235.8,789.1 352.7,820.4 380.8,923.1 380.8,851.8 353.6,712.8 381.1,889.9 408.5,930.7 259.2,737.2 331.8,843.6 360.5,928.5 353.8,838.1 345.8,837.1 234.3,878.5 358.9,852.5 333.2,861.2 218.3,710.7 294.7,763.3 387.2,859.7 439.9,848.3 403.7,923.2 349.7,868.5 337.3,866.4 365.1,763.2 264.5,789.3 425.9,931.9 407.0,797.2 380.6,875.6 198.2,737.0 394.9,747.9 365.7,746.8 371.3,868.1 342.0,780.7 365.6,763.4 369.0,810.0 212.4,711.0 366.7,904.0 394.9,877.8 370.9,831.0 319.0,761.6 448.2,930.0 353.6,936.3 339.0,645.6 308.8,764.4 296.2,736.8 334.1,858.3 379.8,843.3 335.9,892.4 370.5,814.9 379.6,856.5 451.9,892.5 412.6,846.8 362.6,710.4 249.7,763.4 386.9,838.5 399.3,905.2 373.4,882.2 353.4,880.4 348.5,810.8 256.8,787.8 358.5,934.7 350.7,763.2 260.2,763.5 428.1,852.9 327.3,763.6 335.2,903.0 351.6,792.1 372.7,918.5 400.7,772.1 226.2,804.4 447.5,912.6 378.3,881.3 397.5,694.5 335.4,830.7 456.6,912.6 332.4,907.7 384.0,855.9 319.0,778.5 456.2,907.1 352.7,837.0 232.2,777.6 184.8,763.2 167.8,762.7 283.1,854.3 400.7,906.9 346.8,908.3 420.0,842.8 380.3,898.2 353.1,878.3 336.6,864.6 362.0,809.5 335.6,936.6 358.5,927.5 367.9,815.7 249.7,788.8 341.1,970.0 287.7,712.3 343.8,903.3 217.8,763.1 284.0,852.3 378.8,913.4 380.3,835.4 197.9,878.8 250.0,762.6 237.1,764.1 376.9,763.1 261.9,778.1 152.6,748.9 373.4,762.6 349.7,951.6 359.6,865.9 110.2,783.5 394.1,853.5 245.0,747.0 350.9,851.3 343.0,832.4 366.1,763.2 375.3,758.2 252.4,777.9 214.6,763.4 344.0,940.9 333.2,892.1 384.7,852.0 337.2,806.7 341.0,882.8 351.3,762.2 217.6,762.7 269.3,711.0 364.4,880.4 361.6,898.9 354.0,872.1 195.7,763.3 343.1,771.3 376.6,799.4 409.5,803.6 141.6,891.6 344.4,904.6 334.5,941.4 252.1,789.5 315.9,763.2 212.6,789.2 392.9,928.4 365.9,931.2 337.0,882.0 383.2,891.5 387.8,905.3 414.9,805.5 393.5,798.8 252.0,748.1 207.0,788.5 609.5,950.1 389.3,690.5 366.8,904.9 333.5,842.7 382.6,910.0 193.8,736.7 336.7,919.0 362.8,847.5 203.8,778.0 275.8,854.0 369.0,858.1 432.1,880.9 375.3,868.8 279.6,711.1 396.3,842.0 348.7,869.9 380.3,882.4 418.1,894.3 352.6,843.5 448.2,924.5 350.1,844.7 398.3,788.2 394.7,849.0 390.9,864.1 338.5,847.7 352.8,829.1 363.8,771.8 381.3,739.6 244.3,749.1 244.9,879.3 303.5,778.5 420.1,778.1 359.3,835.6 353.3,948.2 350.9,793.2 384.3,899.1 356.9,946.8 336.0,926.9 347.4,787.3 382.9,928.7 338.8,932.7 401.8,938.3 239.3,762.7 246.0,788.4 438.1,894.6 411.5,969.5 377.6,904.3 195.7,737.0 370.0,867.6 360.9,801.3 348.7,927.6 333.5,865.5 242.9,737.6 394.2,938.4 229.9,850.3 280.8,880.6 386.8,762.6 401.4,834.7 391.4,799.9 373.2,763.8 503.5,841.6 212.2,788.2 305.0,778.3 380.1,648.2 347.3,770.2 363.8,810.9 386.5,761.3 346.5,971.1 363.5,836.8 257.4,851.6 354.9,793.0 337.1,895.4 361.6,873.2 366.2,874.3 251.3,777.4 337.5,796.8 266.1,892.5 339.3,763.8 208.7,892.6 355.8,829.8 272.8,777.6 383.3,703.1 424.9,920.2 362.3,953.3 365.7,848.8 338.8,885.5 407.9,797.1 358.1,907.2 320.6,837.9 430.2,849.7 363.8,841.3 378.4,763.7 274.4,778.0 364.0,919.1 395.3,849.2 254.4,762.6 360.4,800.6 350.1,880.6 360.4,879.8 375.9,906.1 400.0,873.6 357.0,828.6 282.3,778.2 334.0,827.5 369.1,834.6 312.4,736.9 383.5,890.4 300.5,778.2 392.2,918.6 250.8,851.9 340.7,869.8 345.0,763.1 257.0,880.2 233.5,778.4 388.9,887.0 262.4,710.3 358.2,937.7 250.2,737.5 359.8,817.3 385.8,877.2 462.6,944.5 370.1,904.3 274.4,779.0 377.6,897.6 361.4,908.8 429.4,813.2 362.7,715.6 442.4,999.9 296.5,711.9 365.8,817.2 333.9,768.5 333.5,921.4 334.8,943.2 356.7,923.5 399.1,786.7 175.8,800.7 352.8,842.5 356.7,762.2 374.2,843.9 391.0,919.4 346.8,787.8 367.5,793.9 269.7,777.6 360.7,888.3 347.2,926.8 361.2,844.9 364.0,746.1 333.5,882.4 334.5,888.4 335.0,855.4 369.6,815.2 332.7,820.1 349.5,790.7 431.2,938.1 447.5,948.2 371.9,953.0 394.6,933.8 361.8,929.3 350.1,870.2 343.9,892.5 365.4,806.6 333.1,738.0 412.4,825.3 404.8,882.7 339.4,763.5 203.6,763.3 397.6,862.4 136.8,748.9 335.8,876.4 429.3,952.0 294.8,892.1 233.6,787.3 379.2,929.5 216.7,788.6 400.0,691.0 258.8,763.9 402.7,700.5 205.0,788.0 285.2,880.8 352.8,846.7 363.0,803.1 354.2,923.6 394.5,844.5 365.5,873.2 370.2,884.0 413.3,954.1 402.7,811.7 376.7,921.9 307.4,891.6 225.2,776.7 328.1,979.3 360.0,929.3 348.7,911.9 246.7,711.3 318.4,854.2 362.7,890.5 358.7,895.4 331.6,762.8 429.5,842.5 409.1,907.4 415.4,710.2 396.5,871.4 299.6,879.9 354.2,832.5 347.3,872.7 349.0,713.5 384.3,901.4 379.3,941.6 360.3,799.3 382.1,875.5 349.3,889.6 276.7,712.6 333.1,797.1 365.5,783.6 356.9,735.8 371.1,803.8 347.5,794.3 352.8,764.3 242.8,789.3 294.0,761.8 299.7,762.0 374.9,886.8 343.4,854.4 406.7,642.8 350.4,818.3 424.1,830.7 341.8,752.2 173.6,747.8 422.4,815.2 319.7,763.0 347.1,881.0 298.8,778.4 333.2,863.6 389.4,896.1 402.4,916.4 371.9,763.5 344.9,916.4 264.1,762.7 346.6,753.5 348.2,791.7 400.7,938.0 340.6,773.6 333.6,874.5 380.2,803.4 381.6,880.8 368.7,908.5 355.0,913.2 367.9,906.9 371.6,762.7 387.5,688.9 425.2,845.8 223.8,853.7 579.2,841.2 371.2,947.3 418.0,804.0 353.0,764.1 347.9,894.0 358.2,803.2 399.5,818.6 205.5,762.0 332.9,795.4 386.7,856.9 358.5,789.2 389.3,905.6 349.7,829.6 278.8,764.3 253.2,787.3 466.7,763.4 385.5,925.9 370.0,705.7 317.5,778.7 203.8,879.8 357.4,850.3 391.5,918.8 404.2,791.7 381.2,636.3 240.3,777.1 280.3,710.7 457.5,917.4 236.4,850.5 398.5,958.5 258.1,762.6 438.9,902.3 343.9,837.9 375.7,899.9 206.7,788.3 358.1,800.6 410.2,760.1 396.6,927.3 430.5,950.1 417.5,883.8 383.3,574.6 394.9,828.5 370.4,846.2 390.0,789.7 355.0,824.2 350.3,879.8 371.9,867.9 380.9,920.6 398.3,951.9 360.3,855.4 376.7,900.6 405.8,771.1 407.9,916.5 422.3,689.8 347.8,844.1 333.1,849.4 365.8,825.5 286.0,762.7 424.2,820.5 352.3,944.4 338.7,873.2 490.5,831.5 414.8,915.7 395.3,853.6 405.5,791.3 369.1,918.0 323.2,762.6 349.7,762.2 352.0,688.8 208.4,762.7 192.0,787.8 388.0,862.4 404.6,870.1 395.2,936.9 164.2,761.7 376.4,910.2 378.0,846.0 245.7,762.5 336.9,937.7 474.9,909.4 390.1,804.8 393.6,949.9 393.2,854.6 367.4,863.9 359.9,844.7 395.1,856.1 236.3,763.3 394.5,892.6 372.7,827.5 362.5,918.7 339.6,832.3 365.9,923.9 300.5,852.5 382.3,795.4 205.8,788.3 366.4,903.1 408.8,921.3 398.3,936.0 195.7,778.8 356.9,806.3 357.6,814.1 314.4,778.6 384.8,918.6 392.5,891.8 346.2,953.3 219.3,762.9 206.6,763.0 335.0,761.2 368.4,811.7 222.3,789.3 213.3,880.4 224.3,852.2 377.5,932.2 350.4,931.0 355.9,806.6 345.0,905.9 163.7,762.6 386.4,931.9 414.5,798.1 372.9,787.3 349.3,934.6 369.1,859.8 394.3,780.2 362.8,879.5 443.8,896.1 203.1,850.4 362.4,862.6 334.9,929.6 357.8,905.1 346.5,946.6 388.0,877.5 351.0,904.5 289.4,763.4 376.7,855.9 363.9,810.4 340.3,849.1 299.5,878.3 375.7,936.0 366.3,927.4 297.7,711.6 384.7,811.1 394.6,758.5 293.9,777.3 354.2,736.8 188.3,762.6 283.2,851.5 425.3,809.5 397.6,767.7 345.5,847.8 457.9,939.1 188.1,762.3 325.8,763.3 389.7,795.8 353.8,787.8 373.5,928.6 290.8,763.3 393.0,883.1 309.3,778.5 387.2,757.5 169.3,747.8 351.9,735.4 409.5,786.6 334.8,901.4 385.4,924.3 379.9,879.6 379.1,880.5 400.7,704.5 397.2,902.6 376.2,836.6 304.8,778.6 339.5,764.2 294.0,777.7 203.4,777.5 499.1,841.6 407.0,823.0 186.5,762.8 189.7,762.7 335.1,856.0 380.4,800.1 374.7,948.0 441.5,952.3 392.2,890.6 354.5,763.1 364.3,829.1 343.5,931.8 384.5,838.1 363.3,912.1 261.9,713.2 235.1,879.3 370.7,724.5 297.1,762.8 382.8,814.2 351.2,854.6 274.9,790.2 331.0,736.8 368.7,843.5 395.2,772.9 469.6,908.8 335.6,819.5 381.9,800.3 175.0,763.7 396.3,798.3 361.8,950.3 334.2,907.6 360.3,871.4 353.5,898.2 386.2,894.2 376.8,578.5 361.2,927.2 216.9,763.2 350.6,876.1 401.5,812.2 375.0,831.9 346.0,910.0 361.1,877.3 350.4,848.2 261.8,762.6 339.7,859.7 354.6,875.4 318.0,853.5 341.7,894.6 261.8,751.0 389.8,786.5 259.6,736.8 390.7,888.3 289.0,804.4 365.3,867.3 341.7,874.2 358.1,924.9 347.9,885.2 383.1,693.9 349.5,916.5 387.3,910.8 408.8,930.7 175.8,778.1 259.0,853.7 333.3,824.9 383.6,900.0 371.6,908.9 215.0,763.9 241.8,853.3 363.1,802.2 422.3,826.4 242.5,748.8 196.7,879.4 355.6,629.2 332.5,823.3 340.5,950.0 389.0,911.9 366.7,915.4 377.1,869.7 355.1,840.7 362.3,713.0 365.3,695.0 346.2,874.6 412.7,900.5 449.4,831.5 384.9,882.9 360.2,763.8 186.9,778.4 375.3,762.9 197.4,709.9 361.8,709.5 190.6,762.4 332.4,908.4 378.6,831.0 361.9,698.8 245.0,748.1 374.1,808.5 407.1,878.7 333.0,847.6 368.1,927.2 435.7,927.2 371.7,863.4 320.2,778.4 165.4,762.8 400.9,759.3 358.9,822.8 404.5,822.3 386.5,798.9 353.6,861.2 435.4,940.2 291.6,891.6 354.5,719.9 332.6,791.6 275.8,711.2 386.5,763.0 405.4,905.1 381.1,808.7 360.8,888.0 389.2,945.1 334.3,899.8 363.8,855.3 335.6,868.8 370.7,799.3 265.9,736.5 209.0,881.0 424.1,942.3 353.0,904.5 401.5,905.8 387.0,836.5 337.4,925.0 441.6,887.1 371.4,656.9 178.4,762.8 387.7,793.2 363.4,798.7 370.0,918.4 337.9,894.6 361.8,923.3 333.2,843.6 353.8,763.4 339.3,891.6 371.8,807.6 384.9,825.6 302.6,710.3 335.1,825.9 298.2,777.3 355.7,948.5 335.8,916.4 301.0,762.5 349.6,843.4 379.6,872.3 232.0,777.9 364.9,898.2 409.9,918.8 365.5,762.9 246.9,708.5 326.0,777.5 333.9,926.6 394.1,718.8 358.8,720.5 378.5,857.2 371.2,931.4 386.8,899.6 379.3,867.9 352.5,802.7 534.8,858.1 303.9,854.0 344.2,925.0 345.1,909.6 201.2,762.2 368.6,852.0 195.6,762.9 234.1,736.3 333.8,954.2 363.4,879.1 380.5,827.8 389.2,780.1 273.7,711.0 335.2,929.4 346.1,842.1 380.8,834.7 334.7,763.2 410.5,814.9 406.1,927.1 362.8,654.7 404.4,868.0 272.0,850.0 248.2,778.3 211.1,736.7 400.0,926.9 423.2,842.8 349.0,947.1 333.0,947.6 295.6,763.3 409.4,819.3 430.3,757.5 345.3,864.4 376.0,817.4 313.0,761.6 336.2,895.2 404.4,796.7 452.9,890.3 339.2,878.0 388.4,918.3 409.6,876.9 215.0,763.4 379.2,928.3 372.5,903.0 237.1,711.1 376.8,928.4 373.7,827.7 399.2,715.8 352.0,807.8 410.8,906.5 338.9,750.2 213.8,707.4 259.8,737.5 372.3,914.8 317.6,777.9 373.6,706.5 405.6,921.7 402.6,868.1 342.5,862.7 367.9,782.5 432.2,862.3 376.1,891.6 213.6,788.0 256.9,749.1 336.1,866.6 339.4,930.4 348.8,868.5 366.1,827.5 401.9,782.0 382.9,764.4 384.3,870.8 216.9,764.2 379.9,916.9 379.1,803.8 353.7,773.5 214.7,788.6 283.9,711.6 180.1,711.0 255.5,713.5 341.0,818.2 319.2,764.2 419.5,862.4 289.8,762.7 410.1,863.5 435.0,916.0 373.5,827.4 383.1,954.5 385.2,889.3 242.5,712.9 411.7,712.0 182.5,763.4 417.5,868.8 399.8,820.2 359.7,847.1 308.3,762.0 390.6,696.0 355.2,928.7 372.8,869.5 384.6,853.3 336.0,805.1 411.0,845.7 358.2,745.6 384.2,811.9 389.0,869.2 409.5,776.6 259.6,802.2 389.6,830.3 187.7,800.1 382.6,824.7 371.6,903.4 414.9,818.0 396.3,895.0 338.2,888.2 334.9,945.6 334.4,872.4 375.8,808.7 236.4,877.5 405.4,881.3 364.0,830.1 346.9,838.4 386.0,711.7 346.6,905.0 231.5,737.0 373.4,834.8 224.5,778.7 358.7,698.3 206.8,892.8 360.9,921.8 304.0,762.3 372.0,808.3 175.8,737.0 339.2,886.8 235.7,778.0 350.6,868.2 435.7,843.3 419.9,946.8 381.8,804.5 344.2,790.1 298.5,737.5 408.8,877.2 231.5,711.2 437.0,819.7 226.8,779.1 346.1,721.3 222.7,748.6 402.9,846.8 319.7,896.0 362.2,848.3 375.0,837.2 325.2,763.5 410.1,871.2 363.5,804.6 345.1,835.0 223.1,762.7 324.4,777.3 421.8,881.4 354.9,783.8 427.7,580.7 268.6,777.5 214.4,788.2 236.2,778.4 224.5,761.7 349.7,838.1 355.6,699.0 395.4,942.1 359.5,793.3 305.1,712.4 388.3,799.8 215.1,849.8 335.1,867.0 362.5,900.3 382.2,916.8 211.8,762.2 368.3,878.4 375.8,716.4 342.0,746.4 367.9,922.4 377.3,934.9 362.9,712.0 342.0,949.0 346.2,879.5 378.1,933.2 387.8,812.9 224.6,761.4 350.8,807.6 297.1,762.5 230.0,762.9 355.5,828.5 362.2,859.6 366.4,913.0 273.1,779.1 147.2,707.8 375.8,804.0 334.1,881.2 357.8,878.6 401.4,802.0 335.6,838.5 300.0,777.0 390.2,813.8 386.4,827.0 373.8,897.3 368.5,757.4 195.9,736.4 395.0,693.2 403.4,895.3 222.9,762.8 341.5,917.7 210.8,849.4 270.6,853.5 338.5,863.8 361.5,768.6 361.0,683.3 381.2,697.7 340.8,902.6 393.0,951.3 367.6,833.0 396.7,841.7 203.0,763.3 379.4,744.5 363.0,830.1 213.1,850.5 211.0,777.1 404.2,880.8 237.6,737.4 302.5,714.0 383.2,782.0 291.6,788.5 378.0,691.6 370.4,891.4 240.3,788.8 344.0,932.9 415.2,826.6 299.6,877.9 378.4,832.8 186.0,777.5 309.8,712.4 221.7,762.9 335.1,764.8 393.0,856.0 362.8,735.9 401.1,900.5 460.5,936.9 359.9,742.1 361.3,875.4 218.4,710.1 347.7,933.3"/>
<path class="d" d="M325.7 553.0V1021.1" stroke-dashoffset="5.3"/>
<path class="d" d="M368.9 553.0V1021.1" stroke-dashoffset="5.3"/>
<polyline class="c" points="405.4,894.5 223.5,788.1 300.3,788.5 310.0,801.2 268.3,788.4 344.8,815.6 383.6,845.6 396.6,767.3 371.6,943.5 354.7,944.6 395.9,579.6 388.5,786.3 282.4,761.0 373.4,880.0 374.3,775.8 341.2,807.9 275.8,747.1 342.8,842.8 400.1,909.0 378.2,923.8 351.3,937.3 376.0,930.6 385.2,821.2 457.5,925.1 340.1,854.8 358.4,930.4 360.1,881.4 438.4,826.7 385.9,658.0 397.4,874.6 382.2,869.6 360.5,937.0 292.7,748.9 176.5,762.9 388.5,909.1 381.2,795.4 364.2,905.8 245.9,713.8 415.2,913.7 412.9,897.7 359.8,755.4 410.5,950.2 340.8,866.7 368.0,692.5 236.5,777.2 299.4,762.4 359.7,907.4 370.4,784.2 199.7,852.0 401.8,952.6 325.1,763.5 384.3,829.4 86.0,891.6 318.0,763.9 365.1,874.1 383.2,908.4 374.9,884.1 345.3,916.4 332.7,848.3 357.7,902.8 419.2,844.5 427.5,837.7 409.9,807.8 436.1,816.3 399.2,948.1 377.1,893.0 342.2,961.3 351.7,823.2 407.7,924.9 380.2,861.5 421.6,915.9 397.8,818.9 372.1,797.4 408.0,868.2 209.6,892.7 334.9,763.5 281.4,763.1 373.9,747.8 303.5,801.2 233.1,877.3 379.1,763.8 349.4,745.1 402.7,897.8 346.1,751.6 388.9,910.7 364.2,858.5 242.1,788.9 396.3,851.8 394.3,921.8 276.2,777.7 410.7,702.0 395.7,864.5 201.6,763.5 333.0,802.3 361.2,847.9 373.4,858.7 417.1,821.1 383.5,858.5 388.7,665.6 383.0,847.7 374.5,725.8 277.5,737.0 372.1,870.5 359.0,735.6 221.1,778.6 382.3,661.2 439.7,880.0 265.5,761.8 378.6,814.3 249.7,778.4 344.4,863.4 351.1,868.6 411.8,811.9 408.7,928.2 243.1,749.6 210.1,763.2 381.6,840.0 280.9,777.6 344.7,848.1 304.1,855.2 333.7,753.2 436.8,695.9 363.2,849.8 430.4,899.6 350.5,760.9 423.0,912.0 380.7,838.7 351.5,869.6 416.2,886.0 400.3,838.1 311.5,737.1 380.0,866.5 335.6,764.2 335.3,762.4 379.5,916.5 354.4,852.2 337.3,932.1 351.3,880.4 367.9,863.6 352.6,685.0 353.5,953.9 367.6,881.2 325.7,778.3 376.2,937.0 387.6,928.6 386.5,875.0 389.6,763.5 370.7,698.2 353.0,971.1 376.2,932.6 209.4,763.9 386.0,884.7 378.7,936.9 277.7,880.0 342.7,861.7 358.6,910.1 407.2,885.5 351.3,943.9 380.6,826.8 401.0,864.0 360.6,840.7 363.4,799.8 519.3,821.3 342.0,879.5 293.3,877.1 332.8,834.1 406.1,939.9 335.4,872.9 306.8,748.9 413.0,712.7 247.7,851.7 349.8,896.8 345.8,903.4 386.9,929.4 198.0,736.9 395.7,762.9 360.6,668.8 337.4,815.8 361.5,862.0 382.6,809.8 351.1,833.6 379.5,863.2 399.3,694.0 381.4,846.0 385.7,905.0 391.1,887.5 292.2,762.9 403.0,881.9 432.0,952.4 430.8,803.2 356.4,928.5 397.1,742.7 394.5,929.5 193.8,763.9 338.1,927.6 386.8,868.6 394.8,749.4 260.8,763.2 314.3,763.4 193.1,709.9 374.3,911.7 407.7,852.0 444.2,890.2 368.0,890.1 439.3,858.3 380.7,920.5 144.4,850.3 354.9,792.6 367.6,801.2 387.9,877.2 354.4,805.9 435.0,860.3 373.8,798.9 284.7,852.7 184.5,707.1 347.4,795.3 386.3,813.7 172.6,762.7 404.5,845.5 342.7,893.1 344.8,849.4 420.5,858.0 177.3,763.0 342.3,787.6 334.3,909.1 387.1,809.9 370.7,938.4 440.4,843.8 369.1,798.5 373.7,835.8 353.6,834.7 344.4,953.0 361.3,853.4 341.8,885.5 387.9,868.1 376.3,872.2 360.7,917.0 379.0,763.9 416.4,914.3 406.6,822.1 383.0,817.5 295.4,762.5 333.9,812.6 354.5,864.4 388.3,797.1 384.5,813.9 349.7,800.0 414.0,704.4 380.7,814.7 362.1,874.3 382.1,862.1 345.1,865.3 377.3,796.9 368.9,775.4 349.2,802.1 379.1,938.9 368.4,890.2 401.2,776.7 372.3,881.6 377.9,836.3 404.5,837.1 360.4,913.1 265.2,763.2 460.0,930.7 349.9,777.9 395.0,691.8 404.4,753.4 281.5,763.6 356.7,841.2 218.0,763.6 363.2,900.0 362.5,793.6 303.6,778.0 243.2,788.9 380.3,764.2 413.0,951.0 350.0,740.6 343.6,883.5 371.1,810.3 357.3,923.8 270.2,763.8 345.2,839.2 388.9,941.8 384.7,898.6 395.4,692.5 349.8,737.6 228.4,789.3 343.9,876.5 407.8,749.8 416.3,857.2 383.3,818.5 332.3,751.0 237.8,788.0 464.9,919.0 276.6,850.8 297.9,737.5 229.5,761.4 384.0,715.9 342.6,897.7 402.5,885.9 375.2,900.2 433.0,942.9 359.8,906.0 361.2,830.1 368.4,892.5 365.3,840.8 388.0,695.4 205.1,778.3 344.2,826.9 363.4,954.4 223.0,748.5 359.4,906.9 432.2,911.4 187.4,762.1 427.9,806.0 215.4,763.6 354.3,894.1 351.2,917.8 334.7,894.1 337.2,821.2 348.1,801.1 410.8,942.5 213.7,763.8 368.2,806.3 343.8,875.6 399.9,813.1 333.6,933.0 457.4,928.6 244.9,762.0 356.4,891.8 350.4,881.8 430.1,904.7 398.6,900.1 281.5,712.3 402.6,907.7 387.0,747.4 194.0,778.1 350.0,799.3 249.3,737.3 345.4,878.2 450.0,903.8 361.7,648.2 372.0,701.9 375.4,751.4 399.6,802.9 365.4,792.0 214.7,763.5 400.4,821.1 347.6,887.2 377.9,917.0 336.6,762.9 344.3,815.0 258.2,762.7 375.6,878.1 395.3,843.3 402.6,788.5 379.1,950.4 428.7,851.6 384.3,923.4 421.8,865.9 392.0,805.5 259.6,762.7 348.5,911.2 454.0,925.1 349.5,813.5 238.8,853.3 388.2,943.7 400.2,810.8 357.0,856.6 427.3,948.4 399.5,828.5 309.6,709.4 229.9,789.7 368.1,763.2 384.5,833.0 366.7,858.4 192.8,762.6 415.1,840.4 226.5,892.5 364.3,893.8 360.5,942.4 390.0,828.8 346.3,709.8 369.9,762.5 347.1,798.7 379.3,751.0 401.9,922.3 346.7,913.1 233.7,788.3 341.0,925.4 371.3,897.3 408.1,779.9 403.0,819.4 406.5,867.5 388.0,847.8 378.0,867.6 397.3,915.2 343.0,877.8 368.8,763.8 382.9,763.5 219.6,764.7 376.9,896.7 396.8,637.4 399.5,806.8 447.4,922.5 260.6,787.5 350.5,881.1 372.1,903.5 225.5,777.7 364.8,835.3 318.4,762.8 455.8,841.2 340.5,847.1 394.2,708.7 404.7,856.4 343.7,903.2 358.3,874.3 407.6,860.4 225.2,748.3 384.8,832.6 368.3,935.6 389.1,889.5 460.4,935.1 371.7,832.3 401.8,819.9 333.6,881.1 388.0,916.1 393.1,882.4 336.0,932.2 408.9,887.6 220.4,711.2 355.8,850.3 392.6,654.1 373.0,894.4 348.8,869.7 408.9,786.4 346.2,945.3 394.2,928.5 367.2,798.8 211.3,788.6 385.4,711.3 249.9,749.8 285.8,712.8 401.8,741.6 429.8,927.4 347.2,732.8 197.4,778.1 203.0,736.8 360.8,826.7 246.8,788.7 381.4,931.3 146.1,850.3 462.2,909.1 279.4,748.1 340.2,795.9 243.6,763.2 385.5,700.1 376.6,949.0 374.0,929.6 398.6,838.0 164.3,850.3 387.0,895.9 408.5,942.6 309.4,764.9 299.9,879.4 346.5,883.8 406.3,854.0 349.3,785.9 339.2,804.5 354.3,764.6 394.4,834.6 355.6,736.2 346.7,820.6 363.5,691.4"/>
<rect class="s" x="60.5" y="553" width="576.3" height="468.1"/>
<text class="t" x="110.8" y="1049.5" text-anchor="middle">−10</text>
<text class="t" x="218.3" y="1049.5" text-anchor="middle">−5</text>
<text class="t" x="325.8" y="1049.5" text-anchor="middle">0</text>
<text class="t" x="433.3" y="1049.5" text-anchor="middle">5</text>
<text class="t" x="540.8" y="1049.5" text-anchor="middle">10</text>
<path class="s" d="M110.8 1021.1v5.4M218.3 1021.1v5.4M325.8 1021.1v5.4M433.3 1021.1v5.4M540.8 1021.1v5.4"/>
<text class="t" x="47.9" y="1007.8" text-anchor="end">0</text>
<text class="t" x="47.9" y="928.7" text-anchor="end">1</text>
<text class="t" x="47.9" y="849.6" text-anchor="end">2</text>
<text class="t" x="47.9" y="770.5" text-anchor="end">3</text>
<text class="t" x="47.9" y="691.4" text-anchor="end">4</text>
<text class="t" x="47.9" y="612.3" text-anchor="end">5</text>
<path class="s" d="M60.5 999.4h-5.4M60.5 920.3h-5.4M60.5 841.2h-5.4M60.5 762.1h-5.4M60.5 683.0h-5.4M60.5 603.9h-5.4"/>
<text class="l" transform="translate(22.7 787.0) rotate(-90)" text-anchor="middle">local difference in Nunfilled (mean)</text>
<text class="o" x="322.6" y="1075.1">ω<tspan font-size="17.3" dy="3.1" dx="-1.2">opt</tspan></text>
<text class="p" x="549.0" y="991.6">(d)</text>
<polyline class="c" points="989.0,953.7 1020.2,927.4 1004.7,933.8 1003.2,938.7 935.9,910.2 1136.3,993.1 1065.5,909.9 1047.0,811.1 969.3,895.8 945.1,907.5 1053.4,972.2 1004.5,892.0 941.2,928.8 1015.4,896.7 947.4,915.6 972.8,939.1 1080.1,980.6 924.4,920.8 1064.4,936.2 933.9,900.1 1014.7,856.2 1025.5,834.9 1047.1,806.7 1019.2,927.9 1006.2,919.7 869.7,918.8 895.0,917.8 891.6,954.1 883.9,925.8 921.0,938.6 1036.3,793.0 961.7,904.8 1048.1,904.2 1019.3,930.1 1067.1,873.6 940.0,879.1 1049.2,825.2 1007.8,802.6 1089.7,946.4 893.5,908.8 970.5,948.8 1031.4,854.3 1032.0,958.1 1093.7,913.6 1028.1,892.1 1037.6,937.5 1009.6,902.3 949.0,946.6 1007.8,936.1 866.5,922.1 1018.6,936.0 930.5,900.8 1026.1,726.8 977.8,960.8 1028.4,829.7 917.5,962.4 1085.0,871.1 1013.0,882.7 1056.7,887.8 902.7,892.2 1077.3,866.9 934.6,930.4 1027.1,946.1 1056.9,966.2 1028.7,854.3 937.8,913.8 1066.3,941.3 905.8,940.0 1082.3,966.6 1010.5,755.0 1024.6,911.0 1028.3,690.9 1081.6,952.4 1015.8,797.1 894.4,895.9 927.1,877.1 1021.7,796.6 895.0,917.9 913.2,870.4 1057.3,922.7 1013.9,835.0 923.5,900.8 922.0,904.9 1049.4,974.4 1024.3,873.2 974.7,963.3 1097.0,940.6 1157.5,971.5 865.2,925.6 1026.1,914.1 1099.1,946.4 1061.1,959.7 947.2,902.0 874.5,896.8 846.9,940.4 916.2,875.8 1055.1,758.6 1005.7,825.6 1047.4,871.2 873.6,897.3 1031.0,766.1 968.4,908.5 939.9,933.4 1006.5,863.3 1003.2,759.6 939.0,935.8 1032.8,843.1 1121.8,947.9 1033.8,817.9 1081.7,927.3 1067.6,876.2 901.1,969.0 1055.2,890.5 1045.4,942.0 918.8,930.7 1067.1,914.5 862.1,941.5 911.6,936.3 1043.8,902.8 1119.4,956.6 1056.8,868.0 904.7,894.5 1070.8,850.6 1011.8,784.3 1033.2,904.8 869.7,953.5 893.0,886.8 867.9,889.2 1010.7,854.3 897.8,895.7 1003.2,860.7 862.4,917.5 908.5,914.7 1022.6,682.4 1048.2,961.4 1015.9,882.3 901.9,959.6 1033.3,853.5 1008.6,575.3 1017.7,823.7 970.2,860.2 952.3,948.4 1012.9,630.9 907.2,965.2 1012.5,828.6 1054.8,844.3 1008.2,885.5 910.7,971.8 1059.5,880.0 857.5,952.2 939.4,894.9 1011.6,835.6 869.6,888.7 943.5,880.1 1029.5,860.3 893.9,900.8 1076.9,866.9 856.6,940.1 933.1,935.4 974.7,948.5 860.8,910.9 1017.1,905.6 905.8,896.3 919.1,903.2 981.0,967.2 971.3,892.2 1060.6,935.6 1109.0,916.3 950.9,945.8 1027.2,904.9 1031.4,828.2 1047.7,956.6 981.5,957.0 1086.5,968.0 1034.8,826.9 923.8,967.9 1024.8,910.7 1022.8,911.3 1028.5,902.4 1016.6,825.6 913.8,929.7 1035.3,911.8 1018.4,851.3 1035.1,879.6 928.4,900.1 1015.5,924.6 915.8,911.6 1015.9,747.2 1079.9,961.7 897.8,926.6 866.1,922.1 844.9,922.8 1034.2,760.5 1062.5,960.7 1065.1,954.5 940.4,891.3 1008.6,827.5 987.2,910.1 1009.2,757.1 1046.8,825.6 1086.5,898.0 909.8,900.3 850.2,930.4 870.2,901.6 919.2,917.4 1003.7,905.2 885.5,909.1 859.4,899.4 875.1,931.0 963.8,965.5 1056.1,895.0 972.9,913.7 959.4,906.9 1091.6,916.9 1040.2,820.9 1090.8,908.4 1024.6,832.3 984.9,930.7 1104.6,972.2 1030.7,821.7 1034.6,889.3 889.5,960.3 912.1,934.4 1067.1,908.9 950.6,949.7 1049.8,823.0 934.8,938.0 850.5,940.7 1049.3,813.3 952.4,933.4 1279.4,1000.5 902.4,909.1 1094.9,957.4 832.5,924.1 937.3,866.7 966.1,959.5 1021.9,847.8 1060.5,846.6 1044.3,872.3 983.4,916.2 1044.9,846.7 1049.0,851.2 1107.2,956.2 1061.8,974.5 1031.9,853.1 1044.9,941.8 939.1,898.6 1052.5,957.6 1034.2,892.6 1034.0,922.4 1028.8,813.7 1083.5,937.6 1071.9,977.7 1020.0,923.9 1047.1,828.5 1048.0,815.9 1076.9,932.6 915.8,920.8 913.3,921.7 1034.0,872.2 1071.8,953.8 1086.9,934.0 1052.3,979.3 1028.5,759.1 1038.6,830.5 1010.7,919.6 1028.4,966.2 891.7,931.9 929.5,922.2 1097.1,892.6 1026.7,849.3 904.1,877.8 849.8,924.2 1056.5,947.3 1094.8,997.0 1096.7,873.0 949.8,955.5 1013.2,857.9 1034.3,780.2 1056.6,924.0 1022.6,765.5 1023.6,841.3 1015.8,870.5 871.2,929.1 1052.4,945.9 1062.3,973.7 1040.9,900.0 1044.9,767.9 960.1,944.0 1057.3,907.7 1023.3,740.6 847.1,923.7 1079.9,882.3 963.4,925.4 860.7,925.6 878.6,943.2 1022.2,884.3 1048.0,878.3 1003.0,822.0 986.9,945.7 1051.7,941.1 817.6,934.7 1009.2,760.4 938.3,880.2 919.2,933.4 892.7,902.0 1062.3,900.3 1005.5,913.8 1010.6,899.8 1024.5,776.3 1060.2,960.4 1030.1,934.1 1082.6,921.6 1018.1,911.2 1057.6,943.5 1065.9,968.9 857.7,958.1 962.7,977.4 1054.9,940.9 966.6,956.5 893.8,970.9 1004.5,887.0 876.3,894.1 1058.9,930.9 1016.0,941.3 1056.4,972.2 908.0,880.2 841.2,932.4 985.6,927.5 933.4,934.2 889.7,925.6 877.5,968.4 935.4,912.5 985.4,923.9 1029.2,886.2 1022.2,862.3 986.3,924.9 932.1,943.7 918.3,901.7 986.6,951.5 1044.3,845.0 1054.8,934.8 899.4,902.2 1004.2,873.3 915.1,929.5 1067.5,981.8 1044.8,791.6 1036.1,883.8 936.3,962.8 910.4,967.1 1094.0,896.6 955.1,923.5 1055.8,845.1 869.5,907.7 1028.3,860.4 1083.8,885.1 1009.0,875.2 1003.0,854.7 1065.3,899.5 886.5,927.6 929.3,906.0 1057.8,851.7 1042.7,975.3 1003.0,878.6 1018.6,863.3 1063.5,954.5 909.5,894.0 930.6,914.6 959.6,907.7 1118.9,920.0 1012.0,909.3 1070.6,953.4 1064.9,873.0 1037.1,908.7 874.6,904.0 931.3,886.1 1004.9,728.8 1049.6,898.4 833.2,924.5 1036.0,889.1 1015.5,840.2 1036.7,912.2 966.2,911.5 1081.5,981.8 1093.6,973.9 1035.5,928.1 1007.6,814.4 1077.3,856.0 1038.6,933.8 957.7,906.2 993.0,941.3 894.3,876.8 906.3,958.3 1031.4,889.9 1052.1,950.1 1020.8,891.9 954.7,949.6 1060.6,952.3 876.3,942.7 956.9,960.9 923.3,896.0 916.0,918.7 973.5,963.2 1033.4,925.9 992.5,937.0 1044.8,907.6 898.6,910.2 918.4,893.1 908.5,919.3 1039.8,924.5 1055.6,829.5 929.7,936.6 1016.5,843.3 964.1,945.6 852.9,923.7 1062.2,982.3 1004.4,852.7 1011.2,929.3 907.8,931.3 1038.2,881.9 1104.1,981.2 1010.8,861.6 935.0,885.2 1020.0,955.7 1023.8,787.8 1020.6,751.4 1055.8,825.5 781.2,936.9 987.2,914.2 913.9,932.5 1007.5,951.6 917.4,873.4 985.5,914.0 863.1,924.3 907.0,933.9 1066.0,966.4 857.9,902.1 918.8,909.6 962.2,944.6 1071.5,930.1 879.8,890.9 1026.3,912.6 1029.2,920.7 1017.1,902.2 1064.2,870.2 1019.0,831.4 1027.2,824.9 1063.2,967.4 1008.3,853.5 1009.5,863.7 1046.0,708.8 863.1,921.9 1022.9,919.9 899.8,904.4 1003.5,841.7 878.3,876.3 1041.5,931.9 939.2,915.7 1037.1,883.1 1011.7,834.3 903.5,872.2 1045.1,847.8 907.8,900.4 901.4,906.4 940.7,893.5 953.2,931.5 865.6,923.7 854.0,926.4 907.0,926.0 910.3,877.2 1036.6,840.4 1069.3,892.7 1047.3,843.4 1024.8,952.3 1057.7,917.1 1053.1,940.0 972.9,926.9 893.5,863.0 1032.5,887.5 1044.3,887.6 935.9,861.6 1078.6,929.6 947.5,909.7 849.9,929.0 1032.4,886.1 1002.5,923.7 1064.5,912.6 917.3,900.3 1042.8,853.3 1039.4,896.2 916.7,938.8 1111.8,940.3 867.5,923.9 924.1,919.2 1022.4,821.6 881.2,929.1 909.9,915.9 1069.8,920.5 1076.9,869.1 1053.0,803.7 904.4,928.7 1044.3,820.7 970.8,934.7 1061.2,774.4 1037.0,894.1 1106.5,975.5 900.5,904.8 1017.2,889.4 979.9,908.3 931.0,914.7 964.9,931.3 871.4,957.5 1032.3,915.2 882.6,918.6 888.1,872.2 1005.4,976.5 874.3,905.3 1063.4,943.7 1126.6,834.7 1006.8,950.9 955.3,938.5 1058.7,898.3 1036.3,761.9 878.7,957.2 1088.3,928.1 888.2,904.9 1023.7,896.8 1052.7,919.2 1002.2,770.9 908.7,875.5 1058.9,907.2 1129.2,940.1 1002.1,834.1 1009.2,873.8 1015.7,935.9 975.3,921.5 1009.8,879.7 994.5,896.2 969.7,952.2 933.5,900.6 1102.7,976.6 1062.1,927.4 1031.3,886.8 985.7,907.4 938.4,960.9 955.4,977.1 1023.6,776.7 1041.1,913.7 976.9,963.9 1107.4,919.9 1040.5,937.6 873.8,912.7 873.3,921.4 874.6,891.8 961.3,903.4 878.1,931.6 899.5,872.2 1003.0,906.6 1060.1,856.7 1034.8,818.7 1047.3,890.8 1107.6,978.6 1015.4,899.1 1006.0,802.8 913.5,915.1 1076.6,860.6 847.8,924.1 891.5,882.4 1037.4,842.5 883.9,970.9 1012.7,742.6 1064.9,933.0 982.7,935.1 924.7,903.6 1019.1,882.6 1064.3,864.3 1034.3,931.9 1044.0,933.5 1003.5,941.9 964.7,937.8 1063.9,844.0 1026.7,875.0 1003.1,932.4 1059.2,977.3 886.3,876.5 918.4,898.2 944.6,950.0 969.1,874.7 916.8,873.5 877.7,970.2 1003.1,848.4 1065.2,931.0 1051.5,819.0 930.2,899.2 960.3,976.5 935.4,917.6 932.6,955.3 1049.4,933.1 1129.8,965.2 928.0,956.2 1056.4,897.4 1068.0,954.3 1018.8,827.7 1063.3,931.7 1005.7,876.3 1006.7,809.3 904.8,867.9 1018.0,801.6 1042.2,937.8 1080.9,974.1 956.0,976.7 1097.2,936.9 1046.2,901.0 1017.9,883.6 1088.7,939.1 1006.8,867.0 1043.8,853.2 1057.5,930.0 850.4,920.8 1013.1,956.6 1065.5,885.6 1029.3,934.9 1070.2,863.8 932.5,892.5 1072.2,923.7 1005.0,795.6 1035.6,876.8 1016.2,860.8 987.0,930.8 876.2,966.4 1034.9,846.4 929.6,948.2 1048.4,887.2 929.3,915.2 1018.7,874.8 1052.8,962.1 1114.1,977.0 1082.0,861.8 1034.2,917.5 1011.7,930.2 915.4,910.3 1048.1,941.7 1033.7,846.7 1024.8,838.8 833.7,925.2 1012.4,840.8 908.5,913.6 1008.7,928.1 1100.5,902.9 1031.4,851.3 909.8,884.0 893.8,948.0 1019.7,935.4 1013.9,960.8 1067.7,973.9 1061.8,902.0 1088.4,882.7 1051.7,923.0 906.7,947.0 851.6,921.2 988.6,976.5 1059.4,894.7 946.6,900.1 869.6,893.6 920.2,930.3 1019.4,866.0 964.9,916.0 1037.3,787.8 1027.6,864.8 841.8,922.9 1026.5,958.1 1046.6,887.4 902.0,901.3 1002.8,891.4 1040.5,871.9 1055.1,824.0 1103.5,916.8 1089.3,948.1 1087.5,970.0 928.4,902.3 857.3,939.9 963.1,898.6 943.5,877.7 1033.8,924.9 1059.0,910.0 865.6,895.4 1013.7,871.0 1026.3,822.2 883.4,923.9 1013.4,847.0 1004.7,816.6 1081.3,922.6 1029.9,883.6 856.3,936.6 1015.4,947.1 1057.6,951.5 926.0,969.3 1035.8,929.3 756.5,958.5 1021.3,817.4 823.0,960.9 973.1,925.4 990.7,794.0 957.1,949.0 910.6,901.6 912.7,910.2 1027.3,953.3 1045.5,954.0 847.4,924.0 938.0,892.1 881.4,923.6 1111.7,965.7 1020.3,946.9 872.1,923.7 1025.6,797.8 906.5,891.5 952.7,961.9 906.7,967.2 1064.9,845.1 977.3,951.8 1084.8,852.7 940.4,919.9 993.5,919.7 874.1,915.9 1012.9,807.6 1058.2,885.9 1026.1,899.8 1052.8,897.8 1035.7,971.8 1053.0,788.6 1023.0,837.8 1005.0,923.9 1102.2,977.5 927.3,903.3 1089.3,908.1 1020.8,876.2 977.3,929.3 1023.3,825.0 1071.6,912.2 918.1,889.8 1023.8,960.6 892.2,868.6 1058.5,954.4 940.9,966.7 906.7,888.6 856.4,941.6 1018.2,846.8 905.5,869.4 904.4,889.2 881.9,898.4 897.8,929.4 888.1,942.3 1003.0,846.6 1022.4,949.9 1026.1,903.4 1004.0,937.4 895.8,948.7 1045.5,826.3 1030.6,827.1 1054.9,974.7 1068.6,932.6 1050.3,857.4 908.2,929.5 1044.8,920.9 1034.9,911.7 1079.8,982.2 1036.6,786.0 1057.7,859.2 1041.6,813.9 1173.6,881.2 924.9,937.5 969.6,938.6 907.1,949.1 847.7,930.8 1004.2,756.2 1041.7,906.1 895.7,884.0 1030.1,964.2 901.4,895.8 1091.5,951.6 911.7,909.5 1004.4,948.0 1081.8,872.7 883.1,909.6 897.8,892.1 879.8,907.9 895.2,886.9 1031.0,900.7 1038.5,881.2 1035.7,774.0 944.7,948.8 1002.6,859.1 1058.0,844.1 1031.2,786.5 1030.2,797.8 1050.0,847.8 963.1,964.7 1091.2,894.0 1057.4,822.9 1006.3,761.2 988.7,924.7 1145.0,953.7 1142.8,922.8 1006.4,925.5 1032.8,924.0 1039.9,834.5 883.0,880.3 902.2,931.8 1060.4,872.1 972.3,928.2 1026.9,841.7 866.5,926.9 1049.2,935.8 1015.1,830.5 852.1,920.7 970.2,939.8 1019.9,834.3 1019.5,887.7 927.9,890.6 1002.8,781.1 1083.9,864.8 1013.0,832.3 1043.8,920.8 1038.4,930.9 1007.3,825.9 944.8,938.1 986.5,929.2 856.3,926.6 880.0,874.5 1016.3,897.5 1016.7,892.6 906.8,941.2 1024.0,838.8 1006.5,794.6 1061.6,970.0 983.0,925.5 1044.5,967.2 1109.1,937.4 948.5,915.6 1018.8,821.2 1065.9,898.8 951.0,937.4 1092.4,974.7 1088.7,972.6 1046.7,825.2 926.8,924.2 1073.1,956.1 1059.3,969.4 898.1,930.4 888.3,880.5 1022.7,929.0 894.2,885.0 1004.6,824.1 1032.1,948.1 1004.8,811.6 1035.9,834.3 1104.6,915.5 1035.9,963.5 1046.3,923.6 887.9,896.7 1030.3,820.5 903.4,867.1 881.7,872.0 861.2,924.4 1066.4,887.6 909.0,925.8 1048.1,810.3 882.2,905.4 1025.7,827.2 888.8,902.4 944.0,926.1 982.1,920.1 1055.4,984.3 866.7,940.9 1051.0,798.5 852.4,925.2 1022.0,884.6 1095.6,953.4 1052.0,929.6 1079.7,860.7 883.7,932.3 1059.2,823.6 1098.7,945.4 1080.3,898.0 947.2,919.9 1039.4,797.4 898.9,931.6 1024.9,839.1 1007.6,946.1 994.8,931.3 917.0,897.5 896.6,921.1 1090.2,887.4 918.7,883.1 1018.7,952.9 987.2,921.4 1066.2,924.8 953.6,918.3 1091.5,900.9 1017.5,878.7 1061.3,855.5 1049.8,939.6 1003.2,755.8 902.8,877.0 1005.5,942.5 961.2,965.9 1052.8,979.3 1029.3,814.5 1084.6,894.9 910.9,882.6 1062.7,942.8 1003.6,894.2 876.5,892.1 1079.3,961.2 1020.8,877.1 1015.2,831.8 1019.5,825.9 1051.6,897.5 1054.9,877.6 1080.4,856.1 928.2,880.9 885.4,941.6 1034.8,847.0 1047.8,949.2 922.8,897.1 1101.8,908.3 1060.6,947.8 1010.7,890.8 1007.0,937.7 982.8,932.4 896.6,864.1 893.3,920.6 1061.0,927.2 842.1,923.2 1086.4,934.0 1009.9,874.2 1086.4,884.6 961.9,897.1 945.3,966.1 1045.4,830.6 1003.5,842.1 1009.0,765.3 1074.0,970.4 890.2,868.6 847.1,924.1 1091.2,888.7 1124.1,979.1 1019.6,799.3 1048.3,967.0 868.7,967.1 1013.9,803.3 1030.5,910.9 949.7,980.2 1088.4,872.6 1020.1,757.2 860.0,922.3 979.9,934.6 1052.6,918.8 1027.8,955.4 1076.1,964.5 1004.3,887.0 1012.0,919.5 1098.3,930.8 1054.3,950.0 906.0,873.5 1125.1,921.6 1027.2,959.3 1026.0,898.0 1012.7,856.8 1069.1,865.9 875.9,921.7 908.4,907.6 861.1,921.9 940.6,875.8 1044.1,865.2 1033.7,962.3 1064.7,899.7 1051.5,933.1 1072.7,908.3 974.8,887.1 1066.0,912.9 924.6,931.1 916.4,970.5 1064.8,930.0 896.2,863.1 1030.2,719.7 1009.4,908.5 856.8,940.1 1130.9,834.7 1014.3,913.0 966.4,938.7 1038.4,780.3 1017.4,953.9 938.4,899.7 863.6,924.6 1032.6,880.4 981.5,916.7 1058.3,933.4 1122.5,970.5 904.2,863.5 1014.4,865.1 932.1,910.4 1047.0,895.6 1022.6,826.7 937.2,879.0 1055.7,969.6 1028.2,926.2 901.4,862.3 882.3,908.9 1015.0,919.0 978.3,919.9 1060.1,900.5 1023.1,754.7 888.5,886.3 929.9,947.3 823.6,952.7 1040.1,839.6 914.1,945.6 902.8,975.6 923.7,944.4 1033.7,832.3 1125.9,954.8 922.1,940.5 912.9,868.7 912.7,905.9 914.3,958.8 1039.8,870.8 1038.1,790.0 1072.2,859.7 1054.0,797.9 1026.3,780.8 1020.8,831.8 1052.3,883.8 1011.9,892.5 1079.0,970.4 882.0,925.0 910.2,925.6 1070.5,974.1 887.1,870.4 1025.4,910.8 1050.7,832.0 1098.2,902.0 944.7,919.4 1045.9,840.6 966.0,891.6 935.0,905.8 1005.7,858.4 872.4,941.6 1036.1,797.3 953.5,979.7 843.1,925.3 1049.2,845.7 902.7,877.9 903.5,934.2 816.5,962.4 1053.3,817.0 812.8,945.7 849.8,945.8 916.2,923.4 947.8,922.7 892.4,885.5 867.8,923.3 921.4,896.7 1066.5,946.1 1031.5,936.9 965.8,932.6 879.7,958.8 1057.6,911.1 863.0,924.1 1037.6,827.6 950.6,919.1 1023.5,934.6 874.8,880.1 1002.3,743.9 890.2,913.1 832.6,923.4 1004.9,881.9 954.3,941.9 1014.1,852.3 906.4,890.2 908.5,955.4 1037.7,904.4 1060.4,901.9 1074.9,908.9 1003.3,879.4 968.5,920.4 1007.5,878.0 1006.7,851.4 1044.5,796.8 1046.3,825.3 916.7,955.7 1007.3,863.4 876.3,910.8 1089.2,870.7 1013.8,897.3 1036.4,848.0 986.7,946.1 1085.0,860.7 1025.4,823.1 1028.4,914.8 1087.0,897.1 1033.4,822.4 926.9,888.3 907.0,864.8 1073.2,858.8 903.9,885.8 1028.0,928.1 924.1,894.8 932.3,939.7 992.3,923.5 1248.9,941.4 1049.8,960.3 933.6,894.5 1029.8,805.0 896.2,956.9 1011.8,754.5 975.5,905.6 915.4,925.1 1062.5,917.6 869.6,886.1 869.6,924.4 1034.5,839.2 946.2,929.4 1035.0,941.7 962.6,940.9 1011.9,800.5 906.8,965.0 879.7,923.4 1030.2,741.8 926.8,888.3 1028.6,926.7 879.3,900.4 1005.3,920.8 1045.8,877.8 911.8,868.7 917.5,873.9 1077.0,981.1 1084.4,864.1 1028.5,955.2 1026.2,957.5 1047.8,884.7 1084.1,914.2 1060.0,877.6 862.8,943.3 1060.1,835.9 986.4,912.5 871.0,923.9 866.8,907.1 1014.0,721.8 1005.2,940.9 985.9,898.1 1095.6,942.9 1004.1,908.6 1060.0,864.6 896.8,911.5 947.4,895.5 872.0,961.1 1051.2,802.7 948.3,948.6 1106.9,949.4 1043.5,921.5 856.5,924.3 1012.0,756.6 891.6,921.0 871.3,885.4 1039.4,926.7 926.2,903.8 1029.1,926.3 1045.3,841.8 1051.4,825.6 851.8,923.2 862.9,914.2 1026.0,957.2 990.7,793.6 875.4,907.6 944.8,904.9 877.5,914.7 1038.5,912.5 984.2,955.8 936.4,922.4 965.7,943.2 888.2,868.9 1016.0,866.6 1019.7,932.4 1018.2,869.6 1105.5,925.6 1053.6,949.7 934.0,950.3 847.9,925.6 1040.1,883.5 1013.2,822.4 977.6,911.0 946.8,962.1 883.7,904.5 1025.8,821.3 1014.6,870.1 896.2,963.9 1023.9,938.5 846.8,967.4 928.4,892.2 1054.9,947.5 835.1,922.8 1110.5,965.4 1062.3,905.4 1008.5,929.3 929.1,916.8 1023.2,811.8 1036.4,855.9 846.1,942.6 872.0,903.0 1005.9,909.8 871.1,925.0 1005.2,850.1 921.8,969.9 1025.2,793.4 934.4,874.9 901.7,905.6 1045.4,864.1 901.1,975.3 877.9,917.0 915.8,910.4 1047.3,933.2 887.4,876.8 1055.4,887.3 920.2,899.7 848.7,926.8 858.3,892.5 886.2,886.9 948.9,910.7 1056.7,955.1 1023.8,856.3 901.8,924.5 1058.8,879.2 921.7,921.9 903.7,949.8 1062.9,887.1 1039.1,863.8 1007.4,804.4 929.4,902.3 1015.6,823.3 1056.5,959.3 1003.2,864.8 1003.6,919.4 1024.2,978.6 1052.0,944.9 1138.5,922.8 938.1,957.3 909.3,968.9 911.3,889.9 1004.1,876.6 877.5,884.8 1021.0,956.0 1023.6,770.9 917.1,922.1 894.5,883.9 926.2,885.5 1057.9,871.3 930.1,941.8 1052.8,841.5 978.2,958.7 967.8,916.9 830.6,945.1 967.3,901.1 1067.1,896.8 884.4,874.4 913.4,915.9 1004.6,818.7 1007.1,919.6 919.1,892.4 1049.9,962.5 1065.7,847.8 1008.4,872.6 1023.4,902.8 1025.1,884.2 1003.1,818.6 1062.3,961.1 1047.4,896.3 1052.5,932.8 866.4,902.2 1017.2,793.5 1046.2,801.6 904.7,892.5 1062.0,929.8 1055.9,953.3 1056.1,940.8 1026.2,911.3 937.4,909.7 946.1,895.2 1055.2,865.1 932.3,913.3 1039.3,959.1 840.8,922.3 1025.0,866.7 1020.9,737.1 1036.5,901.2 1021.4,863.9 931.3,891.2 1071.5,885.1 924.3,959.9 896.4,943.0 1009.3,940.9 911.8,931.6 1114.8,983.9 960.7,924.1 1017.0,793.7 1060.3,914.5 1040.2,896.9 971.9,926.5 977.6,950.1 1035.0,782.5 937.8,937.5 1046.4,942.9 860.3,954.7 1051.1,822.3 1018.5,861.4 909.9,884.7 1055.4,834.7 1013.8,904.2 1052.9,826.3"/>
<path class="d" d="M995.6 553.0V1021.1" stroke-dashoffset="5.3"/>
<path class="d" d="M1038.8 553.0V1021.1" stroke-dashoffset="5.3"/>
<polyline class="c" points="1034.7,946.7 1064.5,915.4 1003.7,828.7 881.7,931.3 1036.3,821.9 896.5,877.3 909.4,871.7 885.5,966.4 915.1,875.9 1014.9,888.3 938.4,882.0 1032.3,897.7 930.4,968.7 1051.8,800.4 1053.3,972.7 1045.4,845.3 889.5,885.7 1030.4,967.2 913.2,903.6 938.5,918.4 1032.1,903.8 812.8,965.7 878.1,973.6 1062.2,875.0 1042.0,931.2 932.3,900.3 920.6,972.6 926.8,917.0 1023.1,784.3 1073.3,979.6 943.4,889.0 1021.7,913.6 923.7,904.7 1024.7,871.8 1060.6,942.2 922.1,911.7 924.6,929.1 893.2,934.7 1135.2,972.6 1108.3,950.7 1114.9,924.3 1010.3,823.1 920.6,898.3 954.7,935.9 877.3,913.2 905.8,976.0 975.6,968.2 1050.9,960.0 1035.9,955.3 1024.2,832.7 1048.0,849.5 1091.5,935.3 1107.9,933.3 1112.7,963.0 1022.2,810.6 1048.9,913.6 977.1,940.1 881.9,955.0 887.6,895.3 909.8,968.3 972.7,967.4 1004.9,832.4 1016.6,898.0 862.0,918.8 1034.6,854.7 962.1,907.2 1024.3,838.9 946.3,891.4 1031.2,959.3 1061.0,952.1 952.2,965.2 891.9,877.4 959.7,958.4 961.7,923.5 974.0,973.8 1205.6,946.2 1066.1,966.6 868.4,902.6 871.4,918.5 927.5,864.5 941.2,890.0 1108.4,947.3 1049.0,881.8 1081.6,926.6 1048.5,964.5 982.6,950.3 977.9,903.5 888.4,878.6 1045.1,878.0 1002.3,847.2 1051.8,910.7 1038.6,873.1 895.0,922.1 1040.7,881.9 1031.3,961.0 862.1,961.7 1020.4,837.5 944.1,922.6 1038.3,919.0 904.8,914.1 1041.2,842.3 840.6,924.7 1045.7,917.2 895.6,898.4 1002.8,836.4 1058.9,936.9 919.2,892.6 882.3,871.0 895.4,910.5 1035.7,935.1 1042.5,963.4 1037.9,883.4 908.2,879.6 1032.3,889.2 922.6,972.0 1086.8,937.7 1110.0,976.6 1101.7,911.1 1041.3,880.5 945.1,934.7 928.7,970.3 884.6,906.2 1018.5,852.0 877.4,964.3 834.5,963.1 871.8,925.5 900.3,884.1 861.5,949.1 1003.7,840.2 871.9,947.0 950.8,921.2 940.3,955.3 1058.6,943.7 1018.6,932.1 1044.4,876.9 1012.0,760.5 1010.6,820.5 1010.4,935.2 1120.8,943.9 1054.7,968.8 962.9,892.0 971.7,947.1 1018.6,927.2 872.7,926.4 881.0,916.0 1029.5,875.0 1022.1,937.0 878.9,954.0 1060.1,911.4 1044.2,946.6 1066.7,903.8 1006.8,829.4 1093.6,939.0 1037.7,850.5 1041.2,949.9 1012.1,894.6 1015.3,914.8 1017.4,759.6 886.7,937.8 1017.7,924.1 1037.0,856.6 883.9,894.5 941.6,888.4 891.4,937.1 921.3,887.0 1040.9,817.8 1067.5,894.4 903.1,908.5 1065.3,900.0 1059.7,855.0 1004.6,857.5 1031.2,795.4 979.5,889.1 1083.3,865.1 863.3,894.4 1057.9,852.6 896.3,901.9 1036.6,868.0 1075.3,864.5 899.8,885.7 1029.2,874.2 1030.9,914.5 1037.2,951.0 1043.0,910.7 1029.5,936.8 909.4,885.2 888.0,942.2 987.6,956.2 946.0,949.5 929.4,901.6 880.0,919.6 858.3,946.0 1074.1,890.5 1024.5,843.3 888.0,874.1 880.5,944.7 1061.5,864.8 839.7,924.8 1023.9,887.0 935.3,892.2 913.1,975.5 907.1,888.9 1015.1,708.4 1023.4,944.1 1030.8,852.6 1078.8,976.0 1048.7,916.9 861.7,927.4 1071.4,852.1 1111.9,952.6 867.6,925.1 1086.9,972.9 1045.3,968.6 895.8,866.8 1066.0,951.5 1079.8,965.9 1024.3,954.5 892.6,878.2 992.9,939.6 1007.4,866.8 960.0,967.7 948.9,979.5 1023.2,874.9 917.6,932.7 846.8,890.5 851.0,936.1 868.0,930.1 1006.1,855.5 902.7,944.2 959.3,955.6 1032.9,809.8 1034.1,853.9 1033.5,886.0 1055.3,860.7 1075.8,935.0 1019.6,883.1 906.1,941.4 1035.3,952.7 1034.9,898.5 866.4,892.9 1009.0,843.4 1039.7,938.4 1031.1,826.8 1017.9,822.4 1025.2,947.5 931.6,910.6 1054.7,949.5 1056.2,850.3 1004.2,875.6 1064.1,880.9 903.9,934.2 1011.2,865.7 882.7,877.4 936.3,962.1 868.7,889.3 1169.2,882.8 1097.8,959.9 955.5,926.6 936.3,928.4 1116.4,930.3 1032.2,941.9 915.2,901.7 1076.7,856.8 1028.6,881.5 1033.0,878.4 1035.6,811.6 879.8,917.6 940.6,932.2 1089.5,949.7 1036.8,900.2 1049.5,939.1 1012.1,868.5 892.9,902.2 1021.4,925.6 1117.1,980.0 906.2,872.9 1043.6,934.7 1003.1,849.9 1031.4,934.1 908.2,890.6 1003.8,864.0 1028.1,930.4 972.3,908.6 972.0,913.4 920.5,891.5 906.6,911.1 932.1,961.8 983.8,890.8 1021.4,889.4 1007.7,821.7 1047.8,936.0 1052.9,830.4 966.4,966.6 1064.2,911.9 1020.6,900.5 1011.7,905.6 1059.7,941.5 942.3,916.7 1021.9,729.6 915.3,886.5 974.2,975.0 953.6,925.7 1032.0,891.3 1069.5,942.1 1069.3,895.8 869.3,904.8 978.1,950.0 866.4,923.5 982.8,905.8 1048.7,787.5 1082.0,921.5 1053.4,932.9 1010.7,795.8 1059.9,866.2 1024.1,894.3 1038.5,919.9 1075.7,877.1 1026.7,953.4 909.4,924.5 1048.2,977.6 890.3,865.4 1074.9,878.1 1097.1,978.1 1049.9,904.2 943.3,883.0 1189.8,956.3 1078.0,881.9 897.4,947.1 1032.8,959.4 1024.7,944.8 998.4,780.3 1045.8,916.2 1021.5,935.9 1046.6,923.8 975.3,944.6 968.6,896.3 1008.4,829.8 1080.2,975.1 1014.8,924.5 888.9,879.4 1060.9,845.9 1086.9,964.5 890.4,906.7 1052.5,786.8 1022.4,952.9 903.2,899.7 1004.6,862.6 887.4,933.5 1033.4,829.0 992.9,930.1 1057.2,839.1 967.2,930.5 1043.8,851.2 990.2,905.1 1015.8,823.6 882.2,892.0 890.9,899.3 941.5,873.9 807.8,948.3 916.6,942.9 1066.1,927.0 1005.9,895.8 1009.5,951.8 1034.8,956.0 865.5,926.2 907.3,933.2 1004.3,900.2 935.4,897.2 1088.4,866.1 1016.6,942.6 1081.1,956.8 901.8,873.4 1093.0,978.1 1101.2,956.2 986.3,960.2 882.9,916.0 915.1,921.4 869.7,926.9 894.0,889.7 1040.0,878.2 894.4,894.1 1035.1,955.5 1027.5,828.0 1083.4,875.9 947.2,904.3 1117.7,978.6 1069.3,868.6 897.4,904.2 1017.4,915.9 974.7,929.8 937.9,887.6 1046.3,796.3 1119.3,950.2 1107.5,967.2 1102.8,967.1 1005.3,754.9 987.3,949.5 1074.1,968.6 1060.6,892.4 1008.7,804.7 863.6,917.4 1096.0,919.5 1085.5,975.4 901.5,870.2 1075.6,970.4 980.2,936.5 1008.1,787.2 895.6,947.9 1009.4,863.5 1064.5,811.5 967.0,924.5 1087.1,876.9 1080.5,888.7 882.1,905.2 1081.3,903.7 1006.3,900.7 911.0,899.9 885.9,932.0 1025.0,897.4 1050.9,929.2 1016.0,867.7 875.8,888.7 1046.7,792.4 1070.3,971.4 1032.2,895.6 1020.2,854.6 1023.6,885.2 879.0,951.7 913.2,915.3 1025.2,940.2 841.3,928.7 1035.5,939.0 1011.4,901.2 1068.4,929.9 909.1,904.6 1002.8,879.6 894.1,897.0 1046.4,893.8 1067.7,932.6 1060.9,958.2 928.7,892.3 843.7,923.4 918.2,904.7 937.5,893.0 1098.0,892.6 899.3,894.0 1025.5,720.7 867.7,923.0 1065.4,891.4 1011.3,867.9 1033.0,856.5 1075.3,883.5 934.5,952.1 858.9,941.2 899.4,914.5 1021.7,935.3 1060.5,949.0 1010.0,867.3 902.7,904.7 1102.4,983.0 1036.4,856.8 1061.8,894.8 1061.8,857.6 964.7,977.8 1050.2,852.2 849.4,923.4 895.0,874.0 1030.9,944.9 1072.5,808.1 1053.4,829.5 909.4,892.3 1032.1,836.7 1160.6,982.3 1021.6,797.9 1041.5,990.5 1089.3,933.4 849.8,924.7 971.9,935.9 1054.6,840.2 1018.7,898.0 937.6,883.0 903.9,871.9 1024.3,878.5 1029.6,808.8 1052.8,889.0 879.7,881.4 1013.8,793.6 912.8,875.2 948.4,975.9 944.5,931.4 854.0,951.2 898.2,914.5 1016.8,787.8 1014.3,951.4 870.0,925.0 898.5,915.1 1067.4,948.8 1106.4,933.6 1006.5,911.5 1030.6,759.8 886.4,871.2 1031.5,907.1 1070.3,800.5 1079.0,981.9 1047.3,883.2 1023.4,810.4 1036.1,908.9 1057.0,935.1 1038.6,903.2 1007.1,819.7 1009.2,837.6 1073.2,949.1 1051.6,951.3"/>
<rect class="s" x="731" y="553" width="576.2" height="468.1"/>
<text class="t" x="780.7" y="1049.5" text-anchor="middle">−10</text>
<text class="t" x="888.2" y="1049.5" text-anchor="middle">−5</text>
<text class="t" x="995.7" y="1049.5" text-anchor="middle">0</text>
<text class="t" x="1103.2" y="1049.5" text-anchor="middle">5</text>
<text class="t" x="1210.7" y="1049.5" text-anchor="middle">10</text>
<path class="s" d="M780.7 1021.1v5.4M888.2 1021.1v5.4M995.7 1021.1v5.4M1103.2 1021.1v5.4M1210.7 1021.1v5.4"/>
<text class="t" x="718.4" y="997.1" text-anchor="end">1</text>
<text class="t" x="718.4" y="912.3" text-anchor="end">2</text>
<text class="t" x="718.4" y="827.5" text-anchor="end">3</text>
<text class="t" x="718.4" y="742.7" text-anchor="end">4</text>
<text class="t" x="718.4" y="657.9" text-anchor="end">5</text>
<text class="t" x="718.4" y="573.1" text-anchor="end">6</text>
<path class="s" d="M731.0 988.7h-5.4M731.0 903.9h-5.4M731.0 819.1h-5.4M731.0 734.3h-5.4M731.0 649.5h-5.4M731.0 564.7h-5.4"/>
<text class="l" transform="translate(692.3 787.0) rotate(-90)" text-anchor="middle">Voro_vol_maximum (mean)</text>
<text class="o" x="993.1" y="1075.1">ω<tspan font-size="17.3" dy="3.1" dx="-1.2">opt</tspan></text>
<text class="p" x="1221.0" y="990.5">(e)</text>
<polyline class="c" points="1570.0,845.2 1608.5,868.1 1737.2,888.1 1736.5,824.1 1723.5,845.8 1578.2,892.3 1763.9,882.5 1680.4,863.4 1703.0,816.1 1726.8,877.0 1725.0,845.2 1720.1,758.2 1560.7,854.5 1702.6,859.1 1575.5,885.1 1560.1,846.6 1733.8,846.9 1715.2,901.4 1678.2,872.7 1512.3,839.8 1744.7,781.5 1531.0,849.4 1688.9,791.3 1690.6,735.6 1718.3,817.3 1720.7,979.1 1721.8,1000.3 1702.2,726.4 1652.7,844.7 1695.7,680.7 1626.3,875.0 1734.1,742.9 1711.0,857.1 1577.9,844.5 1607.1,902.9 1646.4,890.4 1559.4,843.2 1579.4,856.3 1651.5,861.9 1592.3,879.4 1618.4,875.2 1733.0,859.4 1767.7,851.9 1690.4,786.6 1687.0,720.9 1601.8,831.8 1759.1,809.7 1749.9,766.5 1727.7,874.8 1510.7,847.2 1678.7,833.6 1556.2,845.2 1701.1,793.8 1751.5,842.8 1729.9,820.1 1603.2,877.0 1684.2,899.4 1673.2,758.7 1688.2,847.5 1588.4,893.7 1677.9,862.1 1639.0,846.8 1565.8,844.4 1717.8,824.3 1767.8,827.7 1596.0,847.5 1590.6,845.6 1579.0,841.7 1753.7,767.3 1723.6,837.9 1701.9,822.4 1710.4,830.7 1560.5,892.2 1689.7,751.4 1517.4,886.1 1739.5,764.1 1714.0,832.6 1740.9,999.9 1737.7,868.6 1682.8,819.9 1705.2,830.6 1551.7,838.5 1677.8,873.0 1636.5,868.6 1564.5,852.5 1618.3,850.8 1680.5,777.8 1650.9,887.1 1565.6,860.5 1594.7,882.1 1577.2,852.5 1609.3,892.8 1725.7,1000.3 1789.5,888.2 1677.3,799.7 1717.1,857.0 1688.2,800.0 1752.6,994.9 1708.4,792.1 1597.5,885.1 1570.5,841.1 1551.3,886.7 1716.6,836.5 1608.1,856.1 1526.7,852.4 1695.0,805.3 1717.5,848.6 1509.0,852.0 1740.0,894.7 1550.8,835.3 1524.1,840.9 1624.5,890.1 1583.4,866.9 1561.1,879.9 1688.8,793.5 1704.2,708.3 1693.4,809.2 1632.0,853.2 1753.9,823.9 1754.5,840.2 1754.2,745.2 1695.1,858.4 1707.0,870.0 1747.1,751.4 1701.3,881.2 1709.1,789.5 1677.6,824.2 1688.4,809.4 1708.1,862.8 1628.9,842.0 1695.2,837.2 1578.2,847.0 1562.0,869.8 1643.2,887.4 1721.0,819.1 1699.9,819.1 1628.7,882.6 1679.7,824.4 1677.0,790.9 1614.5,880.2 1505.6,849.6 1579.6,831.8 1566.1,833.9 1742.8,786.5 1586.6,845.3 1562.5,874.3 1581.2,830.1 1599.1,853.5 1706.1,847.3 1691.0,874.8 1576.5,870.7 1691.4,843.3 1673.0,866.8 1530.0,849.2 1672.8,787.1 1658.3,860.0 1728.4,745.4 1700.5,849.8 1673.7,780.1 1676.0,871.0 1695.0,851.9 1724.0,812.6 1737.9,812.6 1699.1,860.6 1727.0,854.7 1575.0,827.5 1731.3,863.6 1560.9,848.6 1580.8,829.2 1675.5,840.4 1643.5,893.2 1716.2,843.0 1685.7,655.4 1677.4,890.1 1578.8,886.4 1569.1,851.1 1673.5,754.5 1692.6,745.9 1561.0,876.7 1573.6,837.2 1699.1,836.3 1650.5,851.3 1597.1,834.3 1761.3,827.7 1620.0,860.7 1708.5,805.3 1738.0,839.6 1772.9,891.0 1558.9,848.1 1680.7,859.1 1570.3,862.1 1737.4,865.0 1718.0,778.5 1634.1,870.2 1538.1,885.9 1674.7,780.1 1524.3,854.4 1513.0,844.4 1583.9,846.8 1704.4,761.0 1624.5,876.8 1685.0,869.0 1705.7,721.9 1679.8,865.1 1558.9,866.8 1680.4,779.8 1548.2,845.1 1790.6,887.8 1672.0,726.7 1553.1,853.0 1629.5,896.9 1788.9,861.5 1679.2,771.2 1746.5,824.4 1769.0,976.9 1722.3,855.8 1686.7,800.1 1502.8,845.7 1694.5,896.6 1702.3,800.0 1688.1,820.9 1696.5,881.2 1793.1,864.0 1603.9,889.9 1620.0,854.5 1724.7,769.7 1629.8,875.7 1565.2,875.6 1749.2,814.5 1792.8,883.0 1700.6,748.5 1556.3,856.9 1583.0,831.0 1566.4,848.2 1579.4,846.3 1557.5,838.9 1735.0,818.9 1702.2,899.9 1586.3,840.4 1707.9,863.1 1699.0,804.4 1680.5,807.8 1792.3,879.1 1678.1,721.0 1515.8,849.3 1754.2,871.6 1675.4,840.2 1545.8,839.5 1674.2,719.2 1693.4,803.3 1703.1,784.1 1593.6,895.7 1649.9,861.2 1513.6,847.0 1749.4,831.1 1594.9,860.1 1673.9,798.7 1731.4,809.5 1699.1,814.4 1694.1,890.9 1725.1,859.8 1633.3,832.7 1689.4,887.4 1688.4,854.8 1587.0,895.4 1701.2,786.2 1618.7,839.5 1707.7,801.9 1747.6,753.1 1532.9,888.0 1505.9,842.9 1797.6,743.5 1684.2,820.3 1708.7,840.9 1740.7,850.6 1677.2,838.6 1704.1,862.1 1754.3,999.2 1575.4,867.6 1541.0,834.1 1716.9,836.9 1673.4,841.3 1722.5,791.6 1516.3,842.0 1707.2,801.6 1766.0,817.5 1708.2,873.8 1573.4,888.6 1684.7,763.7 1561.4,846.4 1703.4,804.7 1759.9,782.2 1678.3,846.2 1731.7,800.0 1717.8,853.6 1509.6,843.9 1763.3,803.7 1752.0,856.7 1709.2,899.0 1603.2,830.2 1761.7,882.6 1652.0,890.6 1567.2,843.9 1705.2,836.1 1739.2,863.3 1731.6,909.8 1732.6,802.5 1727.9,794.4 1729.6,866.2 1705.4,876.8 1531.6,851.8 1738.4,882.0 1602.0,898.4 1712.7,879.5 1693.6,775.7 1606.2,874.7 1742.6,750.0 1696.4,834.9 1725.0,801.8 1700.5,809.9 1737.2,777.5 1505.9,841.3 1700.3,840.9 1699.6,725.4 1574.2,876.8 1690.9,694.7 1707.7,706.2 1778.1,987.3 1526.6,848.0 1654.8,862.4 1698.5,792.8 1711.7,756.0 1718.2,801.8 1584.8,839.9 1755.8,819.6 1690.5,786.3 1725.6,749.2 1571.7,853.2 1733.0,868.7 1783.2,883.3 1703.5,887.6 1722.2,768.4 1635.3,884.2 1718.5,875.2 1772.2,846.4 1792.1,856.4 1571.7,873.0 1695.3,818.4 1720.7,936.9 1748.9,871.5 1743.8,849.0 1527.5,886.6 1716.1,876.1 1759.2,774.2 1692.9,761.6 1534.8,886.5 1591.6,856.6 1568.1,838.4 1729.5,757.8 1694.5,703.5 1538.3,846.0 1571.2,862.5 1723.1,803.4 1683.8,769.8 1950.0,902.5 1722.0,873.5 1620.6,887.9 1753.6,759.2 1741.5,881.5 1683.3,693.0 1710.6,777.3 1599.1,880.6 1627.5,887.7 1612.4,842.8 1702.1,890.8 1649.9,842.6 1712.5,962.8 1746.8,807.9 1738.8,831.3 1539.8,874.9 1735.4,849.7 1596.2,896.0 1782.4,873.3 1656.0,887.1 1563.8,858.9 1699.7,750.4 1598.8,856.8 1537.7,886.7 1744.2,783.7 1748.5,798.1 1716.1,827.9 1509.7,842.4 1795.4,863.6 1723.4,834.8 1751.6,763.2 1758.8,861.2 1733.0,829.7 1648.6,854.6 1792.6,859.5 1738.3,789.7 1738.5,802.9 1672.3,858.3 1545.2,837.2 1549.1,845.5 1552.3,832.4 1645.9,846.7 1554.9,828.8 1707.6,872.8 1651.8,838.4 1603.9,902.3 1695.2,895.4 1609.3,883.0 1632.1,867.3 1676.8,774.2 1712.8,854.7 1609.1,887.4 1569.0,889.6 1705.0,704.2 1786.8,868.9 1546.7,860.3 1765.8,998.8 1749.5,845.4 1522.9,845.5 1598.4,858.2 1552.9,880.3 1676.3,694.0 1700.0,891.6 1654.5,895.6 1719.6,764.7 1544.4,831.5 1552.3,837.4 1611.0,889.3 1772.2,880.4 1684.6,778.8 1569.5,832.3 1716.9,855.5 1611.5,900.3 1919.9,830.4 1677.9,772.3 1808.4,813.1 1555.6,829.9 1675.8,722.4 1581.9,855.3 1722.3,830.0 1555.9,850.4 1686.8,777.0 1710.9,870.0 1543.3,833.8 1730.2,862.8 1541.4,844.3 1688.9,832.3 1612.3,843.1 1715.2,808.1 1689.6,681.2 1684.2,746.7 1692.9,779.3 1544.9,845.2 1600.6,878.8 1701.1,828.5 1702.6,823.7 1629.3,866.6 1679.4,863.1 1637.4,832.9 1725.8,850.2 1709.3,835.6 1700.2,708.5 1683.0,792.2 1602.3,875.7 1559.5,838.9 1547.4,849.1 1719.3,779.1 1564.1,837.7 1581.9,868.5 1642.5,845.9 1572.1,841.4 1621.9,848.4 1644.5,840.9 1594.4,896.3 1674.4,724.8 1581.0,848.3 1700.3,833.2 1744.4,830.7 1749.9,759.6 1706.9,777.0 1700.4,871.7 1635.3,847.3 1718.6,750.8 1635.0,845.3 1581.9,833.4 1660.7,837.8 1691.5,860.6 1717.8,901.4 1691.3,811.2 1643.8,832.1 1720.0,842.6 1676.1,712.3 1659.7,842.2 1679.8,783.1 1549.5,880.6 1700.3,889.2 1587.6,852.3 1717.5,874.5 1708.1,684.8 1560.6,889.7 1516.6,844.9 1728.0,810.8 1577.0,832.2 1634.5,893.4 1740.4,843.7 1757.6,860.0 1743.0,772.9 1812.7,810.2 1724.3,837.9 1757.4,767.2 1714.0,842.2 1752.8,781.3 1679.7,879.3 1726.2,877.0 1731.6,837.5 1761.1,880.6 1603.4,867.9 1510.6,849.9 1694.3,828.4 1693.2,766.0 1615.7,886.5 1702.3,705.2 1706.3,864.1 1736.6,766.8 1752.1,745.7 1672.7,874.0 1771.6,883.0 1591.8,840.1 1564.0,863.5 1612.9,893.9 1726.5,754.8 1660.3,838.2 1725.2,792.5 1632.5,878.0 1689.0,770.6 1719.3,870.8 1723.5,811.1 1733.9,743.3 1734.6,840.3 1751.3,882.5 1542.8,890.2 1641.1,839.2 1569.6,841.2 1694.4,782.7 1691.3,869.1 1607.3,837.5 1673.6,833.1 1688.2,837.4 1582.5,845.6 1701.9,870.9 1745.3,861.8 1647.5,856.3 1691.5,711.0 1647.4,834.9 1691.1,832.4 1702.0,688.5 1645.7,858.8 1561.8,839.0 1545.0,830.1 1707.0,815.2 1577.6,828.6 1706.5,806.5 1664.2,846.5 1566.4,842.5 1726.1,876.6 1789.1,880.3 1799.5,872.3 1715.1,836.4 1692.7,696.8 1698.0,817.4 1744.3,818.5 1736.8,825.7 1543.4,872.2 1542.3,847.4 1704.2,869.1 1713.9,817.2 1562.5,844.9 1711.4,812.4 1632.8,836.3 1705.2,898.5 1602.9,875.8 1781.4,859.8 1693.6,849.2 1610.1,887.1 1696.7,791.5 1570.7,829.4 1673.7,712.7 1641.6,845.4 1532.0,848.3 1656.2,831.9 1620.8,868.1 1580.4,866.7 1722.4,861.6 1685.6,891.0 1580.4,879.2 1533.8,850.4 1710.6,886.6 1746.1,836.3 1683.9,806.8 1710.7,882.7 1507.2,840.3 1541.2,852.3 1716.3,884.1 1510.3,838.8 1624.0,896.6 1703.6,800.4 1673.0,751.3 1662.3,849.3 1744.6,803.4 1712.0,874.1 1686.3,898.4 1712.3,856.5 1579.1,854.4 1624.8,848.4 1721.1,804.5 1695.3,867.5 1682.5,741.7 1542.9,868.1 1596.6,832.0 1572.2,850.1 1560.7,883.6 1709.4,744.7 1692.9,780.2 1621.9,861.7 1734.1,768.6 1556.7,836.3 1544.8,841.8 1567.1,829.4 1671.8,794.1 1587.7,839.1 1709.7,885.7 1575.7,874.2 1730.0,791.0 1716.0,876.3 1716.4,991.6 1603.0,867.9 1554.6,880.8 1698.7,759.8 1730.8,792.6 1564.5,848.3 1570.0,882.2 1736.0,866.7 1592.9,852.7 1589.5,828.3 1757.7,749.6 1505.6,848.7 1560.2,843.3 1723.1,846.5 1738.8,756.4 1711.6,779.5 1615.4,903.0 1733.7,861.7 1519.7,845.5 1519.1,844.1 1737.8,791.8 1778.3,867.7 1713.5,823.7 1691.2,856.1 1590.3,852.1 1587.2,835.1 1567.0,844.9 1644.5,847.6 1691.1,864.5 1724.6,707.1 1698.7,789.1 1562.8,829.8 1727.4,833.0 1675.6,807.7 1524.0,842.6 1748.7,840.7 1705.9,828.2 1720.4,863.0 1698.9,766.8 1549.1,838.7 1687.5,861.4 1689.1,872.9 1708.5,808.2 1675.0,811.6 1540.0,862.6 1575.0,852.0 1672.6,830.8 1604.8,870.7 1515.7,850.1 1694.7,807.0 1532.6,840.9 1711.2,833.8 1586.6,833.4 1649.7,848.6 1689.8,858.5 1741.3,869.5 1576.0,846.9 1582.9,885.7 1617.7,884.0 1552.1,881.9 1575.6,840.8 1675.6,818.4 1681.3,738.9 1596.9,839.7 1590.7,866.6 1683.9,738.6 1714.2,885.2 1746.6,842.5 1696.6,865.7 1546.3,833.9 1727.4,860.3 1554.3,844.1 1664.4,881.8 1724.8,801.9 1695.8,873.7 1738.1,887.6 1575.4,871.2 1513.4,844.3 1608.6,845.2 1563.6,828.3 1647.7,838.1 1582.5,864.9 1536.7,857.8 1599.4,841.9 1691.4,747.6 1502.9,846.7 1624.5,851.0 1519.0,846.5 1592.3,843.0 1794.4,855.2 1596.2,847.3 1628.2,857.8 1677.6,767.9 1743.8,816.4 1555.2,889.1 1753.4,849.1 1657.4,854.5 1657.9,842.6 1711.5,902.4 1586.7,884.2 1625.2,850.4 1662.4,861.0 1742.8,755.0 1557.7,894.6 1676.5,845.0 1732.6,830.1 1607.5,838.0 1721.6,837.5 1562.3,838.5 1729.8,773.9 1674.7,830.4 1645.8,847.1 1700.8,864.1 1590.5,886.2 1695.0,814.2 1692.6,863.7 1528.7,846.8 1744.6,976.5 1712.5,994.2 1600.6,895.0 1727.0,878.2 1688.8,881.1 1748.1,755.1 1767.6,865.2 1523.7,844.8 1692.7,775.5 1574.3,845.0 1694.2,844.8 1771.3,848.2 1735.8,871.0 1633.8,839.2 1545.1,841.5 1727.2,978.6 1652.6,846.3 1729.9,854.6 1518.7,852.5 1687.6,851.4 1690.0,776.6 1740.2,875.4 1574.2,888.3 1529.3,844.6 1680.8,853.3 1637.7,850.4 1766.3,781.1 1657.7,854.4 1649.2,833.3 1689.1,813.7 1568.7,894.5 1679.4,739.1 1548.5,860.1 1741.1,868.5 1680.0,713.3 1612.6,896.8 1710.0,820.9 1704.5,813.6 1629.2,889.2 1750.6,752.5 1578.9,853.9 1539.1,885.1 1536.8,882.4 1561.7,831.2 1751.1,890.4 1568.9,838.7 1553.8,828.0 1681.8,797.3 1770.5,866.9 1629.6,885.2 1697.9,825.4 1560.3,864.8 1519.1,854.7 1554.0,887.0 1597.8,896.9 1680.8,755.0 1736.3,866.3 1720.7,745.2 1562.8,862.9 1587.5,829.3 1562.7,874.6 1524.5,840.9 1706.9,741.9 1687.5,801.5 1732.9,805.9 1789.1,857.3 1571.8,841.6 1610.5,851.9 1731.8,795.0 1714.6,799.8 1785.4,838.2 1732.4,894.1 1750.5,758.5 1702.4,831.5 1597.3,873.5 1738.6,860.9 1553.1,861.0 1701.0,800.6 1623.4,855.9 1698.2,819.2 1719.3,806.2 1691.0,884.4 1611.2,901.9 1751.2,863.0 1643.8,860.1 1678.5,766.6 1704.3,727.6 1689.8,850.0 1563.6,835.8 1584.5,847.9 1730.7,896.9 1673.0,703.4 1569.6,843.6 1674.3,857.5 1574.0,896.5 1768.1,852.6 1677.0,857.0 1589.5,839.8 1643.0,851.4 1754.4,777.4 1689.9,872.2 1710.8,842.7 1622.3,875.0 1564.7,879.7 1743.6,865.8 1683.8,862.2 1614.4,853.0 1688.6,887.8 1714.0,818.2 1676.2,726.1 1750.8,887.6 1626.1,899.0 1534.6,851.3 1735.4,750.8 1568.9,828.9 1591.0,855.1 1557.7,860.6 1748.7,880.3 1767.8,855.5 1715.9,889.9 1731.2,842.4 1707.1,854.2 1549.2,892.0 1712.4,846.1 1724.8,786.4 1695.0,718.0 1609.5,894.4 1596.0,868.5 1711.2,889.2 1729.4,856.4 1609.5,891.6 1507.1,843.4 1777.1,874.8 1609.4,848.8 1590.4,842.3 1745.4,739.7 1677.7,693.3 1590.3,854.1 1658.5,861.8 1685.7,878.5 1559.2,846.9 1611.2,848.9 1540.2,844.8 1696.0,788.3 1530.8,851.1 1698.6,700.4 1674.7,786.4 1610.4,858.5 1626.6,867.7 1646.1,846.5 1593.4,861.6 1702.3,896.9 1520.6,848.0 1726.2,722.3 1675.1,817.4 1662.0,832.4 1556.3,889.3 1754.8,784.2 1727.7,857.2 1761.6,873.1 1691.7,864.3 1654.2,847.3 1686.6,859.2 1477.8,866.2 1591.7,856.7 1738.8,830.1 1674.8,862.7 1679.5,836.1 1758.4,864.2 1620.8,847.6 1767.2,844.8 1612.7,868.4 1710.3,876.9 1673.4,780.1 1599.7,842.4 1525.9,840.8 1758.8,883.4 1630.0,888.3 1751.4,829.5 1702.2,852.0 1694.2,863.4 1735.2,863.0 1639.7,865.5 1750.0,977.6 1680.0,858.5 1689.4,786.0 1571.4,850.6 1633.9,856.6 1795.8,875.2 1539.8,877.3 1570.3,874.0 1787.6,864.9 1650.7,839.5 1801.9,743.5 1587.9,868.0 1729.4,756.1 1506.8,852.0 1581.3,838.8 1713.0,867.7 1596.2,874.8 1708.0,854.5 1692.9,825.9 1635.4,853.6 1521.7,842.3 1691.6,799.3 1799.2,865.9 1736.1,763.9 1731.6,701.3 1678.9,821.8 1517.3,846.7 1653.2,842.6 1757.3,882.0 1525.2,840.1 1583.8,898.3 1599.4,851.7 1708.5,787.1 1676.6,833.8 1708.7,882.6 1568.5,843.1 1611.3,848.0 1586.9,883.4 1596.1,894.7 1514.9,849.8 1724.5,805.3 1546.1,831.2 1535.9,848.5 1703.7,834.7 1789.7,883.8 1676.1,698.5 1725.3,852.1 1599.4,860.5 1673.2,869.0 1611.1,880.6 1709.9,863.3 1642.8,879.1 1640.5,856.2 1695.4,657.5 1597.1,875.6 1676.0,812.6 1551.8,859.8 1690.0,715.0 1698.3,757.3 1582.0,832.7 1540.2,882.1 1575.4,834.4 1754.2,824.7 1750.8,765.1 1630.1,864.4 1660.6,854.3 1681.9,843.6 1690.6,883.2 1690.1,838.4 1536.9,842.3 1677.9,820.4 1782.2,864.5 1721.9,894.6 1714.9,843.9 1664.5,844.8 1654.9,831.9 1677.1,828.9 1690.0,698.1 1564.9,838.0 1706.7,755.2 1520.1,838.4 1691.0,833.3 1659.8,892.1 1594.8,882.7 1612.7,841.5 1590.6,842.3 1642.4,833.7 1715.7,864.3 1574.6,849.3 1708.3,788.3 1678.5,788.4 1732.2,787.3 1549.7,865.0 1576.6,835.7 1673.8,866.7 1509.4,839.1 1716.6,850.2 1605.3,849.5 1583.1,868.6 1526.6,854.6 1562.6,829.9 1737.9,815.2 1579.2,847.1 1738.7,845.2 1673.0,841.8 1515.0,837.1 1652.8,842.0 1760.8,809.4 1615.4,885.0 1557.8,882.6 1713.2,789.9 1762.8,834.4 1723.9,780.4 1599.1,845.4 1564.2,847.5 1731.3,873.9 1676.0,881.7 1485.3,862.3 1736.9,890.7 1598.4,865.1 1735.5,807.9 1586.1,877.1 1726.2,895.6 1684.6,808.0 1647.7,836.6 1573.7,827.6 1721.5,887.3 1615.4,857.8 1728.0,767.7 1681.8,749.3 1548.8,842.0 1740.1,777.4 1687.7,765.9 1579.4,836.0 1584.0,866.5 1633.1,837.3 1681.3,895.2 1635.9,880.1 1514.0,837.6 1689.6,815.4 1698.3,798.2 1598.9,864.5 1636.3,893.5 1737.9,825.3 1649.6,873.8 1684.5,726.5 1694.0,879.6 1538.0,849.7 1757.7,747.0 1543.6,843.4 1505.9,848.3 1625.4,866.9 1712.7,811.0 1711.0,887.2 1568.7,839.1 1800.5,877.1 1804.6,879.0 1603.0,860.7 1727.6,805.7 1741.9,801.3 1550.5,833.7 1601.8,903.0 1551.6,843.9 1755.3,757.1 1515.5,844.9 1523.8,845.6 1751.4,754.0 1683.3,809.3 1674.4,839.6 1686.2,840.7 1693.2,844.5 1707.6,727.2 1684.1,842.1 1750.2,758.9 1613.2,837.7 1704.6,818.5 1676.0,836.4 1672.7,788.5 1538.8,846.5 1692.0,741.6 1698.6,858.6 1737.0,980.2 1657.9,883.9 1764.2,822.0 1675.6,786.6 1592.7,887.1 1674.5,862.1 1679.2,575.3 1550.8,879.5 1644.0,849.3 1608.0,851.8 1795.5,865.1 1560.5,845.9 1509.4,852.7 1616.3,862.6 1732.3,837.0 1759.7,837.6 1781.8,836.1 1725.1,863.4 1534.5,841.1 1729.4,775.4 1713.4,837.2 1789.3,859.7 1682.7,793.7 1552.5,837.1 1557.2,873.5 1559.2,877.9 1712.4,848.7 1680.3,871.5 1727.3,867.9 1719.7,724.0 1715.3,921.9 1564.9,828.6 1622.3,859.2 1683.9,900.4 1551.7,881.2 1608.4,871.2 1503.6,843.8 1584.6,840.8 1554.9,858.4 1716.9,846.8 1596.8,892.9 1683.8,881.1 1518.1,844.7 1681.8,902.9 1802.2,871.1 1682.2,849.9 1627.7,846.2 1660.0,836.9 1723.4,757.1 1673.6,875.4 1747.4,877.2 1706.9,879.2 1723.7,754.6 1620.6,846.5 1798.2,863.8 1707.5,792.6 1530.2,845.9 1587.4,835.3 1665.2,856.7 1770.1,837.9 1681.8,725.5 1616.5,881.8 1796.2,884.8 1721.3,771.9 1703.9,867.6 1702.5,784.8 1612.1,903.3 1738.7,797.7 1740.5,744.7 1514.7,842.4 1703.8,837.6 1724.3,794.8 1741.1,739.0 1720.4,825.5 1673.6,880.2 1590.6,834.7 1726.9,745.5 1572.7,850.1 1576.5,850.6 1764.4,834.3 1776.4,860.6 1631.2,877.3 1590.5,853.5 1673.5,787.7 1743.2,749.3 1729.8,811.1 1734.3,864.3 1737.5,843.6 1698.6,801.6 1582.7,837.7 1724.4,800.4 1546.1,835.5 1629.2,862.2 1696.2,702.9 1579.6,833.2 1630.0,842.8 1710.8,796.0 1574.7,832.0 1645.4,843.8 1604.7,836.7 1589.7,873.2 1630.7,885.4 1626.5,891.2 1745.4,867.9 1732.6,752.8 1655.1,847.7 1681.4,829.8 1709.3,780.8 1632.1,872.4 1535.8,858.1 1561.0,875.1 1639.1,862.4 1683.3,834.3 1596.9,824.6 1511.3,843.3 1706.7,828.2 1686.8,855.0 1735.2,766.6 1698.2,853.1 1699.6,787.9 1724.0,714.3 1579.1,858.9 1639.7,892.9 1727.5,850.5 1723.6,892.7 1719.8,829.5 1427.3,860.6 1509.2,844.3 1695.8,864.9 1681.3,784.6 1799.8,876.5 1721.0,868.5 1735.5,788.6 1604.7,838.8 1680.8,881.8 1585.7,838.0 1692.1,719.2 1534.4,888.1 1682.0,793.7 1672.8,859.2 1539.6,887.8 1703.8,850.5 1816.0,840.1 1673.6,758.2 1688.9,868.3 1747.3,837.4 1691.7,870.8 1780.4,834.3 1567.7,829.8 1564.7,850.5 1554.4,829.8 1656.1,852.5 1604.3,835.4 1723.9,810.9 1673.5,829.0 1619.4,858.1 1574.6,831.4 1647.1,837.5 1744.6,779.6 1691.6,751.8 1511.9,840.5 1738.6,876.8 1613.3,833.4 1711.8,759.0 1715.4,885.8 1700.0,756.4 1642.8,847.7 1642.1,844.6 1689.4,872.3 1694.4,720.4 1516.2,844.2 1614.5,859.5 1692.0,731.3 1724.2,757.3 1524.3,854.2 1638.3,845.6 1747.4,880.2 1708.8,842.1 1556.6,873.2 1742.9,810.5 1586.5,898.1 1539.9,843.5 1714.3,811.0 1708.6,702.3 1747.7,747.7 1777.7,858.8 1688.2,844.0 1710.4,847.6 1582.0,834.5 1747.4,869.6 1729.6,849.5 1608.3,857.3 1614.2,882.1 1738.0,892.2 1541.4,876.9 1694.6,797.9 1731.1,808.4 1671.6,814.5 1582.1,852.1 1681.2,826.4 1549.9,882.4 1742.0,848.3 1691.0,860.8 1521.3,848.8 1773.9,831.2 1639.1,873.8 1701.8,851.0 1685.8,897.6 1769.2,891.9 1737.4,847.0 1526.3,848.8 1554.9,838.2 1525.7,842.6 1579.4,871.5 1799.3,839.0 1538.9,868.8 1678.5,863.4 1549.4,841.3 1567.2,879.8 1686.7,791.6 1612.3,880.9 1532.4,849.1 1504.6,851.5 1748.3,878.5 1623.1,840.7 1707.8,770.1 1746.2,890.8 1690.4,876.0 1565.5,843.2 1547.4,839.1 1717.6,893.8 1745.1,754.3 1671.9,787.9 1713.3,786.9 1757.2,865.2 1543.2,843.2 1628.7,849.7 1687.2,804.0 1566.0,836.5 1628.3,882.7 1728.3,791.7 1568.2,826.0 1719.7,777.7 1697.2,760.0 1729.0,745.2 1522.4,853.6 1671.9,854.1 1568.0,848.3 1585.8,848.8 1511.3,838.1 1716.4,770.6 1729.6,866.4 1677.6,775.1 1625.2,898.1 1592.3,875.7 1737.8,838.1 1566.4,888.1 1728.1,800.0 1770.5,814.9 1582.0,896.3 1685.7,791.4 1758.3,822.4 1722.8,857.4 1654.3,854.9 1627.8,885.4 1601.2,892.5 1675.7,798.0 1691.7,764.5 1535.8,846.6 1662.8,880.3 1652.0,893.0 1681.6,838.1 1648.1,897.8 1628.7,834.4 1538.9,877.7 1718.9,802.1 1680.1,814.5 1751.8,869.3 1594.3,900.3 1578.5,891.8 1672.4,781.6 1554.7,843.8 1674.8,768.2 1536.6,858.5 1632.6,890.5 1736.7,890.0 1702.8,735.5 1709.9,911.1 1576.0,847.8 1607.3,839.6 1605.6,879.4 1734.2,853.7 1656.9,886.3 1618.6,896.6 1697.2,705.0 1728.8,994.2 1614.4,874.2 1691.7,786.1 1589.1,839.7 1619.5,896.6 1740.9,852.5 1643.3,866.8 1590.9,879.1 1603.0,844.2 1514.0,837.3 1755.2,855.4 1562.1,867.8 1650.6,879.8 1674.4,879.8 1787.8,866.5 1711.1,850.9 1696.7,752.0 1700.1,789.9 1703.1,858.8 1540.5,835.8 1613.1,896.3 1678.8,840.7 1687.4,802.9 1758.4,859.4 1659.8,881.9 1684.1,853.2 1798.3,887.8 1483.2,868.4 1682.5,853.7 1685.2,755.5 1697.3,733.5 1562.2,878.6 1660.8,719.0 1743.8,816.5 1713.2,973.9 1717.0,803.9 1625.0,884.1 1754.6,801.9 1674.4,815.1 1545.4,880.8 1748.9,741.4 1760.2,866.7 1724.8,832.3 1768.7,812.2 1739.0,741.9 1628.8,868.7 1616.9,847.4 1696.2,806.2 1620.8,878.3 1584.1,860.7 1693.5,876.8 1680.1,854.9 1587.4,895.3 1718.2,820.3 1721.7,827.1 1724.6,848.1 1648.9,896.0 1717.8,843.9 1676.2,779.7 1572.4,877.3 1755.8,976.9 1606.2,874.3"/>
<path class="d" d="M1666.2 553.0V1021.1" stroke-dashoffset="5.3"/>
<path class="d" d="M1709.4 553.0V1021.1" stroke-dashoffset="5.3"/>
<polyline class="c" points="1505.5,864.1 1732.5,775.5 1707.4,800.3 1691.3,832.7 1631.5,853.3 1678.6,691.1 1711.3,786.8 1717.6,861.3 1719.0,894.7 1502.1,849.3 1695.0,745.4 1689.4,685.5 1674.5,879.2 1559.2,856.8 1745.1,892.8 1715.3,836.1 1705.5,899.2 1676.8,829.3 1494.0,867.7 1707.9,729.6 1720.4,804.9 1760.8,867.9 1698.4,847.4 1531.9,839.6 1720.0,817.1 1624.7,848.5 1678.9,854.6 1681.2,854.0 1761.8,827.1 1650.6,845.6 1738.7,818.8 1709.9,847.9 1739.8,835.8 1651.8,879.0 1537.0,887.1 1699.1,817.5 1860.4,829.3 1529.6,841.4 1730.9,842.2 1672.5,794.3 1678.4,784.2 1601.5,835.1 1610.6,888.9 1675.0,821.7 1587.8,856.8 1672.9,747.9 1691.2,865.0 1652.5,858.0 1705.3,819.8 1674.7,836.0 1742.4,776.9 1631.5,852.5 1518.1,852.3 1543.4,891.5 1565.0,841.0 1696.6,826.3 1725.2,745.3 1543.7,862.5 1766.2,886.4 1517.3,852.9 1690.4,864.2 1702.9,700.6 1601.4,870.5 1689.4,766.9 1708.1,871.4 1747.3,848.1 1731.2,878.3 1753.9,875.1 1586.6,850.0 1546.8,848.9 1573.0,844.0 1641.6,842.4 1593.8,859.2 1723.7,818.4 1532.5,845.7 1800.7,870.2 1680.6,837.6 1705.2,687.9 1544.7,856.2 1579.6,859.2 1740.1,840.0 1727.1,897.2 1592.2,878.5 1740.9,760.3 1632.4,872.1 1574.4,876.0 1544.7,875.9 1719.5,883.5 1546.3,832.3 1568.4,840.7 1730.2,797.3 1766.8,821.3 1702.9,791.6 1570.8,882.6 1631.0,833.8 1548.9,848.6 1724.9,867.7 1718.2,769.2 1753.4,835.8 1597.0,857.9 1737.0,857.2 1659.8,880.1 1742.7,836.8 1651.0,844.8 1675.1,840.3 1680.3,767.1 1674.3,775.7 1840.9,780.3 1749.3,887.8 1631.5,869.6 1720.0,855.6 1674.3,847.6 1714.9,809.3 1643.7,897.3 1597.5,875.2 1582.3,835.2 1734.3,768.4 1630.4,846.3 1732.5,844.7 1543.4,873.8 1587.4,892.0 1551.4,884.4 1749.1,858.2 1699.2,809.7 1681.7,773.5 1702.7,857.8 1595.1,856.4 1760.8,849.2 1702.9,805.4 1722.5,882.5 1632.4,855.1 1581.7,836.0 1627.6,899.9 1764.2,813.0 1676.2,827.2 1687.6,757.2 1570.1,850.0 1745.1,791.8 1560.5,830.8 1718.7,817.4 1569.5,858.4 1569.6,830.6 1724.3,782.1 1705.3,737.5 1566.6,826.0 1586.7,831.0 1747.9,886.0 1508.9,848.7 1705.6,848.0 1709.1,808.0 1604.8,828.0 1845.2,778.5 1722.0,870.9 1679.8,839.7 1705.2,833.7 1665.6,843.3 1559.9,846.4 1729.3,786.3 1685.5,689.1 1680.2,882.7 1617.9,895.2 1682.0,795.1 1590.2,895.6 1605.5,841.5 1630.4,843.0 1734.2,749.9 1680.7,786.3 1557.8,856.1 1705.2,901.1 1737.8,840.9 1831.6,985.1 1571.6,828.3 1513.3,841.7 1740.1,836.0 1709.2,830.4 1688.5,755.4 1746.7,805.8 1674.8,879.9 1567.5,859.8 1695.6,711.7 1654.9,896.3 1713.3,759.6 1541.4,879.8 1799.9,860.9 1723.0,891.0 1699.0,726.7 1719.4,800.3 1655.1,894.2 1553.3,879.0 1660.0,841.0 1549.6,842.5 1660.0,890.1 1726.6,787.5 1566.9,844.4 1682.2,834.4 1711.3,825.9 1698.5,812.3 1675.1,858.0 1572.3,842.6 1591.0,855.7 1570.8,891.1 1570.8,839.5 1643.2,869.0 1747.4,784.6 1770.5,851.2 1736.9,785.0 1718.0,780.4 1680.0,711.8 1729.0,757.0 1581.9,859.5 1697.3,805.7 1687.8,830.9 1687.1,801.4 1702.7,882.2 1558.4,828.9 1732.5,882.0 1570.5,833.6 1685.9,859.2 1577.4,859.8 1695.1,843.0 1573.4,850.4 1533.2,847.0 1576.6,890.8 1711.6,835.7 1683.2,711.4 1723.9,810.5 1688.8,786.7 1722.2,832.0 1587.1,876.3 1710.9,877.6 1696.6,690.2 1537.1,857.3 1591.1,865.1 1676.7,796.0 1674.0,847.0 1708.4,728.2 1579.3,848.6 1640.1,868.6 1695.0,751.0 1606.1,897.9 1753.6,733.1 1713.6,824.4 1731.2,839.3 1516.3,844.3 1510.5,839.5 1618.3,835.2 1740.9,870.6 1597.9,858.5 1679.5,727.8 1701.6,849.5 1572.8,894.0 1770.9,879.3 1692.4,866.5 1533.1,849.0 1700.6,829.9 1582.9,857.2 1573.2,849.1 1650.8,891.9 1750.5,769.7 1689.7,726.7 1678.6,789.9 1758.6,984.1 1571.1,875.4 1569.5,854.1 1682.3,796.5 1555.6,843.4 1701.3,751.0 1681.3,799.3 1736.3,783.1 1569.4,874.6 1709.5,815.7 1750.0,986.2 1717.0,759.3 1602.9,856.2 1674.0,698.9 1573.4,850.5 1710.5,835.0 1753.6,799.4 1573.8,828.5 1536.0,846.7 1653.1,841.1 1543.2,839.4 1679.7,851.5 1704.6,821.3 1694.0,740.8 1790.4,986.2 1576.8,858.3 1517.4,872.5 1676.2,790.9 1535.7,849.5 1676.3,858.1 1589.4,839.1 1771.7,862.6 1739.6,867.1 1750.2,855.6 1552.9,831.6 1520.9,855.4 1627.3,897.5 1690.0,808.6 1634.8,890.8 1552.2,874.3 1698.0,764.6 1644.8,887.0 1628.3,844.5 1761.5,852.4 1765.2,839.7 1606.9,846.5 1682.0,691.0 1513.7,847.7 1584.6,837.8 1737.5,893.2 1789.8,863.1 1637.2,879.2 1773.0,854.6 1697.9,708.2 1763.5,874.9 1716.5,840.4 1708.9,859.6 1573.9,861.2 1575.5,828.0 1588.0,846.2 1629.9,878.2 1728.0,750.0 1754.7,823.4 1634.9,896.2 1727.3,763.3 1746.2,861.4 1689.5,813.9 1634.5,839.4 1629.0,900.3 1589.9,882.8 1607.9,894.4 1659.1,860.4 1682.8,881.2 1690.5,814.7 1784.6,859.6 1672.7,726.7 1717.5,717.5 1716.5,859.0 1564.6,889.1 1612.8,865.7 1741.3,885.2 1517.4,843.4 1664.1,832.8 1545.6,868.6 1730.2,823.2 1715.3,753.6 1754.3,987.3 1605.6,832.6 1451.8,862.3 1714.9,779.3 1537.9,846.5 1588.4,884.0 1558.8,848.7 1746.6,764.8 1733.6,774.2 1515.0,840.7 1698.1,831.4 1709.7,831.2 1678.7,865.1 1708.0,691.6 1679.2,922.8 1538.0,842.6 1619.4,843.5 1720.0,816.4 1515.2,855.4 1748.8,809.0 1684.6,799.0 1747.4,777.9 1732.6,973.2 1684.9,849.1 1688.6,756.4 1632.2,863.0 1635.7,845.5 1623.4,885.2 1545.1,870.7 1686.3,798.8 1691.6,679.3 1583.0,865.7 1659.7,860.8 1611.8,843.8 1555.6,833.6 1705.0,832.6 1583.5,844.2 1737.9,869.2 1686.2,794.1 1728.0,776.5 1719.6,795.7 1761.8,837.0 1673.8,875.9 1688.8,831.8 1569.2,827.2 1676.1,821.4 1672.4,753.6 1685.7,813.6 1572.4,893.0 1727.6,775.9 1576.0,834.9 1753.1,762.7 1608.6,876.2 1672.6,832.9 1696.2,811.4 1741.8,811.3 1672.3,778.8 1699.7,750.1 1690.6,800.4 1686.1,815.0 1595.1,900.0 1876.2,789.2 1741.7,789.2 1685.4,823.5 1539.2,880.1 1678.7,883.0 1677.7,795.5 1545.4,884.1 1538.9,844.3 1589.2,869.6 1610.3,849.4 1572.8,838.0 1626.4,836.0 1757.3,767.1 1679.9,782.5 1777.0,881.7 1876.6,787.8 1557.9,869.9 1622.6,872.8 1800.4,801.2 1527.0,846.3 1727.4,742.2 1524.5,855.0 1685.4,741.5 1741.3,894.2 1580.9,856.9 1754.7,857.3 1570.0,895.6 1732.2,865.7 1607.1,852.1 1613.6,860.8 1621.2,841.2 1553.7,867.9 1674.8,852.9 1722.8,858.3 1684.0,893.8 1700.9,860.5 1591.2,846.6 1674.1,774.4 1612.0,853.4 1550.9,894.1 1704.5,823.8 1553.8,836.2 1723.9,857.5 1527.1,842.7 1695.5,821.3 1586.5,863.1 1614.7,842.2 1690.1,804.8 1607.5,880.7 1723.3,883.9 1758.1,776.1 1519.0,846.6 1686.8,682.9 1488.6,856.3 1697.8,857.8 1681.7,850.1 1708.1,857.0 1577.5,842.3 1700.1,830.0 1754.0,852.1 1550.9,829.6 1562.4,833.4 1675.9,863.0 1704.1,878.1 1722.8,873.8 1828.3,867.2 1702.4,801.3 1762.7,827.3 1712.1,724.0 1677.1,769.5 1728.4,786.4 1728.2,793.5 1660.5,832.1 1643.6,887.0 1581.3,837.6 1560.3,865.8 1687.5,831.9 1569.4,848.3 1673.2,777.5 1573.8,848.5 1800.1,882.8 1505.7,839.9 1736.7,786.8 1774.0,855.5 1587.7,882.2 1741.9,838.2 1694.0,780.7 1735.8,852.7 1731.2,803.6 1619.7,886.9 1741.3,892.2 1653.5,846.3 1645.6,895.1 1723.6,695.2 1749.4,855.4 1795.4,795.1 1543.6,877.9 1584.2,843.2 1659.4,838.9 1655.7,855.4 1682.6,725.3 1583.8,865.1 1648.1,853.1 1586.1,878.4 1609.9,852.6 1608.4,897.5 1588.6,861.4 1672.4,768.9 1743.4,891.6 1659.0,854.0 1635.4,886.3 1754.2,837.7 1562.6,832.0 1584.2,845.9 1710.2,841.9 1641.4,895.1 1685.3,817.5 1684.2,874.5 1590.2,841.3 1575.7,836.5 1731.1,941.4 1625.7,847.1 1703.2,794.3 1704.7,800.2 1578.0,896.7 1539.6,844.4 1672.6,759.4 1568.0,838.0 1722.3,860.1 1698.5,795.8 1773.0,835.3 1767.9,875.3 1551.5,880.5 1682.8,696.8 1503.4,843.4 1640.6,859.4 1695.8,811.7 1579.1,830.2 1731.6,867.6 1664.4,857.4 1536.4,842.6 1579.7,872.6 1683.3,614.3 1684.5,829.5 1739.9,797.8 1661.9,841.5 1718.7,866.6 1707.7,849.4 1584.5,861.9 1713.5,753.4 1533.6,852.0 1597.2,849.6 1714.5,804.4 1611.1,840.7 1740.0,875.9 1505.3,844.2 1574.8,886.5 1709.5,835.5 1611.0,896.3 1747.2,756.9 1720.9,866.3 1661.3,719.0 1719.1,823.6 1615.7,859.6 1796.9,856.3 1744.8,838.9 1732.0,836.7"/>
<rect class="s" x="1402.1" y="553" width="575" height="468.1"/>
<text class="t" x="1451.3" y="1049.5" text-anchor="middle">−10</text>
<text class="t" x="1558.8" y="1049.5" text-anchor="middle">−5</text>
<text class="t" x="1666.3" y="1049.5" text-anchor="middle">0</text>
<text class="t" x="1773.8" y="1049.5" text-anchor="middle">5</text>
<text class="t" x="1881.3" y="1049.5" text-anchor="middle">10</text>
<path class="s" d="M1451.3 1021.1v5.4M1558.8 1021.1v5.4M1666.3 1021.1v5.4M1773.8 1021.1v5.4M1881.3 1021.1v5.4"/>
<text class="t" x="1389.5" y="1016.9" text-anchor="end">0</text>
<text class="t" x="1389.5" y="936.4" text-anchor="end">2</text>
<text class="t" x="1389.5" y="856.0" text-anchor="end">4</text>
<text class="t" x="1389.5" y="775.5" text-anchor="end">6</text>
<text class="t" x="1389.5" y="695.1" text-anchor="end">8</text>
<text class="t" x="1389.5" y="614.6" text-anchor="end">10</text>
<path class="s" d="M1402.1 1008.5h-5.4M1402.1 928.0h-5.4M1402.1 847.6h-5.4M1402.1 767.1h-5.4M1402.1 686.7h-5.4M1402.1 606.2h-5.4"/>
<text class="l" transform="translate(1347.7 787.0) rotate(-90)" text-anchor="middle">Voro_area_maximum (min)</text>
<text class="o" x="1663.6" y="1075.1">ω<tspan font-size="17.3" dy="3.1" dx="-1.2">opt</tspan></text>
<text class="p" x="1907.3" y="992.1">(f)</text>
</svg></body></html>
